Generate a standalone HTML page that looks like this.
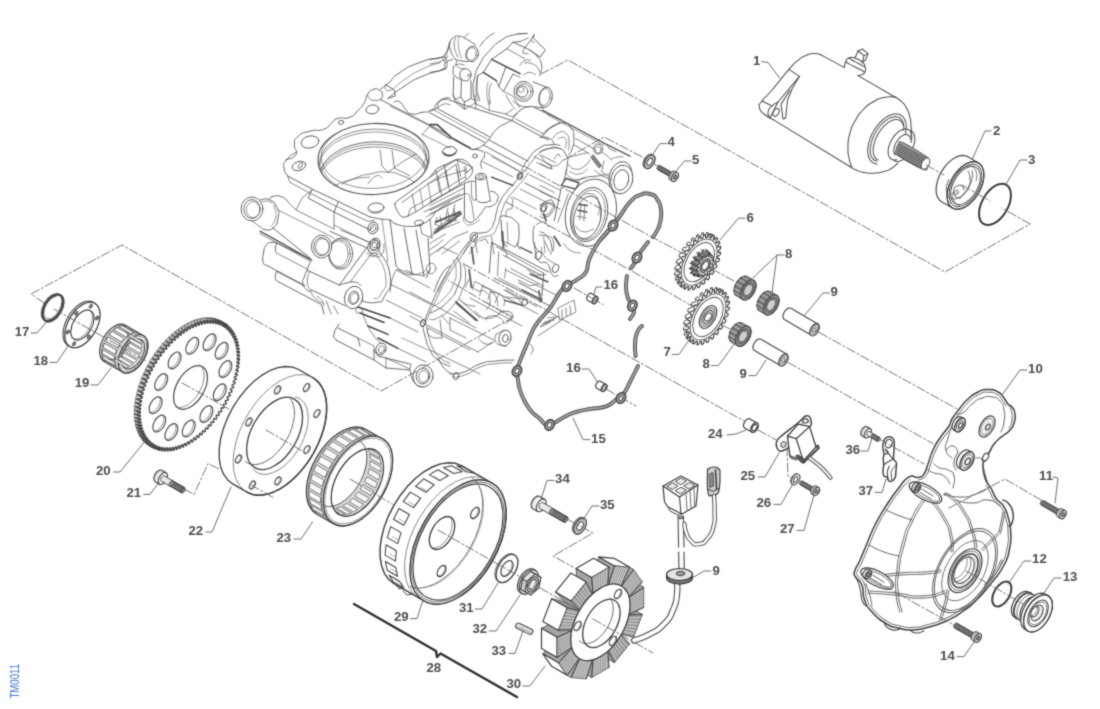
<!DOCTYPE html>
<html lang="en">
<head>
<meta charset="utf-8">
<title>TM0011 - Starter motor / ignition unit</title>
<style>
html,body{margin:0;padding:0;background:#fff;}
body{width:1100px;height:709px;overflow:hidden;position:relative;font-family:"Liberation Sans",Arial,sans-serif;}
svg{display:block;position:absolute;left:0;top:0;}
svg text{font-family:"Liberation Sans",Arial,sans-serif;font-weight:bold;stroke:none;}
</style>
</head>
<body>
<svg width="1100" height="709" viewBox="0 0 1100 709">
<defs><filter id="soft" filterUnits="userSpaceOnUse" x="0" y="0" width="1100" height="709" color-interpolation-filters="sRGB"><feConvolveMatrix order="3" kernelMatrix="1 3 1 3 14 3 1 3 1" divisor="30" edgeMode="duplicate" preserveAlpha="false"/></filter></defs>
<g filter="url(#soft)">
<rect x="0" y="0" width="1100" height="709" fill="#fff" stroke="none"/>

<!-- p00_base -->
<g fill="none" stroke="#505050" stroke-width="1.05" stroke-linecap="round" stroke-linejoin="round">
</g>
<!-- p08_engine -->
<g fill="none" stroke="#505050" stroke-width="1.05" stroke-linecap="round" stroke-linejoin="round">
<path d="M380.4 89 C382.9 87.2 381.5 89.1 388 83.6 C394.5 78.1 389.3 79.5 400 72.4 C410.7 65.3 407.3 67.2 420 62.4 C432.7 57.6 429.7 59.7 438 58 C446.3 56.3 442.7 57.5 445 57.2" stroke-width="0.9" stroke="#585858"/>
<path d="M388 98.4 C393.3 94.4 392.7 93.7 404 86.4 C415.3 79.1 409.3 81.9 422 76.4 C434.7 70.9 434 72.8 442 70 C450 67.2 444.7 68.7 446 68" stroke-width="0.9" stroke="#585858"/>
<path d="M384.4 86 C386.3 87.5 383.5 92.4 390 90.4 C396.5 88.4 393.3 87.1 404 80 C414.7 72.9 410 74.9 422 69.2 C434 63.5 434 64.9 440 62.8" stroke-width="0.72" stroke="#6e6e6e"/>
<path d="M385 84.4 L394.4 90 L395.2 96 L388 98.4" stroke-width="0.9" stroke="#585858"/>
<path d="M445 57.2 C446 54.8 446.3 55.1 448 50 C449.7 44.9 449.3 44.7 450 42" stroke-width="0.9" stroke="#585858"/>
<path d="M442 70 C443.7 68.7 446 70.3 447 66 C448 61.7 445.7 60.1 445 57.2" stroke-width="0.72" stroke="#585858"/>
<path d="M286 160 C289.3 158.1 293.2 159.4 296 154.4 C298.8 149.4 293.7 151 294.4 145 C295.1 139 292.8 141 298 136.4 C303.2 131.8 301.3 133.6 310 131.2 C318.7 128.8 316.7 132.1 324 129.2 C331.3 126.3 327.3 126 332 122.4 C336.7 118.8 332 120.1 338 118.4 C344 116.7 343.3 119.9 350 117.2 C356.7 114.5 353.3 115.1 358 110.4 C362.7 105.7 360.8 108.5 364 103.2 C367.2 97.9 364.6 98.9 367.6 94.4 C370.6 89.9 369.2 91.1 373 89.6 C376.8 88.1 375.9 88.4 379 90 C382.1 91.6 381.9 91.2 382.4 94.4 C382.9 97.6 381.1 97.9 380.4 99.6" stroke-width="0.9" stroke="#585858"/>
<ellipse cx="310" cy="142" rx="9" ry="6" transform="rotate(-12 310 142)" stroke-width="0.9" stroke="#585858"/>
<ellipse cx="341" cy="122.4" rx="2.6" ry="2" transform="rotate(-10 341 122.4)" stroke-width="0.9" stroke="#585858"/>
<ellipse cx="372.4" cy="109.4" rx="6.4" ry="4.4" transform="rotate(-8 372.4 109.4)" stroke-width="0.9" stroke="#585858"/>
<path d="M367.6 94.4 C368.4 95.9 367.2 97 370 99 C372.8 101 372.5 100.2 376 100.4 C379.5 100.6 378.9 99.9 380.4 99.6" stroke-width="0.72" stroke="#585858"/>
<path d="M380.4 99.6 L450 135.6" stroke-width="0.9" stroke="#585858"/>
<path d="M390 106 L430 126 L450 138.4" stroke-width="0.72" stroke="#6e6e6e"/>
<path d="M394 102 C396 102 396 99.3 400 102 C404 104.7 402 106 406 110 C410 114 406.7 113.2 412 114 C417.3 114.8 415.3 113.7 422 112.4 C428.7 111.1 426.7 113.5 432 110 C437.3 106.5 433.3 106 438 102 C442.7 98 442 99.2 446 98 C450 96.8 448.7 98.3 450 98.4" stroke-width="0.9" stroke="#585858"/>
<path d="M438 108 C440 106.7 440 105 444 104 C448 103 448 104.7 450 105" stroke-width="0.72" stroke="#585858"/>
<path d="M430 126 L422 134.4" stroke-width="0.72" stroke="#585858"/>
<path d="M422 134.4 L450 148" stroke-width="0.72" stroke="#6e6e6e"/>
<clipPath id="boreclip"><ellipse cx="373.5" cy="159" rx="55" ry="35" transform="rotate(-2 373.5 159)"/></clipPath>
<ellipse cx="373.5" cy="159" rx="55.5" ry="35.5" transform="rotate(-2 373.5 159)" stroke-width="1.2" stroke="#585858"/>
<g clip-path="url(#boreclip)"><ellipse cx="373.5" cy="162.6" rx="54" ry="33.5" transform="rotate(-2 373.5 162.6)" stroke-width="0.72" stroke="#585858"/><ellipse cx="373.5" cy="165.4" rx="54" ry="33.5" transform="rotate(-2 373.5 165.4)" stroke-width="0.72" stroke="#6e6e6e"/><ellipse cx="373.5" cy="175.4" rx="54" ry="33.5" transform="rotate(-2 373.5 175.4)" stroke-width="0.9" stroke="#585858"/><ellipse cx="373.5" cy="177.8" rx="54" ry="33.5" transform="rotate(-2 373.5 177.8)" stroke-width="0.72" stroke="#6e6e6e"/><ellipse cx="373.5" cy="180.4" rx="54" ry="33.5" transform="rotate(-2 373.5 180.4)" stroke-width="0.72" stroke="#585858"/><ellipse cx="373.5" cy="156" rx="52.5" ry="32.5" transform="rotate(-2 373.5 156)" stroke-width="0.72" stroke="#6e6e6e"/></g>
<path d="M296 152 C292.8 154.7 290.4 154.7 286.4 160 C282.4 165.3 283.6 162.7 284 168 C284.4 173.3 286.4 173.3 287.6 176" stroke-width="0.9" stroke="#585858"/>
<path d="M287.6 176 L314 190 L336 200.4 L370 217" stroke-width="0.9" stroke="#585858"/>
<path d="M370 217 C374 217.7 375.3 218.2 382 219.2 C388.7 220.2 385.3 218.4 390 220 C394.7 221.6 389.3 221.9 396 224 C402.7 226.1 402 226.3 410 226.4 C418 226.5 413.3 226.8 420 224.4 C426.7 222 424 224 430 219.2 C436 214.4 431.3 215.6 438 210 C444.7 204.4 446 204.9 450 202.4" stroke-width="0.9" stroke="#585858"/>
<path d="M287.6 176 L290 182.4 L310 193.2 L334 205.2 L368 221.4 L374 220.4" stroke-width="0.72" stroke="#585858"/>
<ellipse cx="299" cy="166" rx="7" ry="4.4" transform="rotate(-18 299 166)" stroke-width="0.9" stroke="#585858"/>
<ellipse cx="300.4" cy="165.6" rx="1.6" ry="3.2" transform="rotate(30 300.4 165.6)" stroke-width="0.72" stroke="#585858"/>
<ellipse cx="376" cy="208" rx="8" ry="5" transform="rotate(-5 376 208)" stroke-width="0.9" stroke="#585858"/>
<path d="M370 210 C371.7 210.7 371 212 375 212 C379 212 379.7 210.7 382 210" stroke-width="0.72" stroke="#585858"/>
<ellipse cx="419" cy="223" rx="4.4" ry="2.8" transform="rotate(-5 419 223)" stroke-width="0.9" stroke="#585858"/>
<path d="M342 184 C347.3 181.7 348.7 180.3 358 177 C367.3 173.7 360.7 175.7 370 174 C379.3 172.3 375.3 171.5 386 172 C396.7 172.5 392.7 172.3 402 175.6 C411.3 178.9 410 179.9 414 182" stroke-width="0.72" stroke="#585858"/>
<path d="M334 186 C339.3 184 338 183 350 180 C362 177 363.3 178 370 177" stroke-width="0.72" stroke="#6e6e6e"/>
<path d="M380 150 L382 166 L388 172.4" stroke-width="0.72" stroke="#585858"/>
<path d="M392 150 L394.4 168" stroke-width="0.72" stroke="#585858"/>
<path d="M388 172.4 L402 162 L416 154" stroke-width="0.72" stroke="#585858"/>
<path d="M394.4 168 L410 176" stroke-width="0.72" stroke="#585858"/>
<path d="M368 184 C370.7 181.3 371.3 178 376 176 C380.7 174 380 177.3 382 178" stroke-width="0.72" stroke="#585858"/>
<path d="M324 172 C326 174.7 325.3 175.3 330 180 C334.7 184.7 335.3 184 338 186" stroke-width="0.72" stroke="#6e6e6e"/>
<path d="M395 204 C395.2 202.5 392.9 204.1 400 199 C407.1 193.9 447.6 163.6 456 160 C464.4 156.4 470.8 165.7 472 168 C473.2 170.3 473.5 174.4 466 180 C458.5 185.6 415.9 212.3 408 216 C400.1 219.7 399.5 213.4 398 212 C396.5 210.6 394.8 205.5 395 204Z" stroke-width="0.9" stroke="#585858"/>
<path d="M402 202.4 L456 164.4" stroke-width="0.72" stroke="#585858"/>
<path d="M408 216 L410 209 L465 177" stroke-width="0.72" stroke="#585858"/>
<path d="M412 194 L415.6 211" stroke-width="0.72" stroke="#585858"/>
<path d="M420 189 L423.2 207" stroke-width="0.72" stroke="#6e6e6e"/>
<path d="M438 176 L441.6 195.6" stroke-width="0.72" stroke="#585858"/>
<path d="M446 171 L449.6 191" stroke-width="0.72" stroke="#585858"/>
<path d="M456 164.4 L459.6 185" stroke-width="0.72" stroke="#585858"/>
<path d="M464 167 L466 179" stroke-width="0.72" stroke="#6e6e6e"/>
<path d="M428 183 L431.2 202" stroke-width="0.72" stroke="#6e6e6e"/>
<path d="M436 222 L460 212" stroke-width="2.4" stroke="#666"/>
<path d="M434 230 L456 220" stroke-width="0.72" stroke="#585858"/>
<path d="M440 216 L442 228" stroke-width="0.72" stroke="#585858"/>
<path d="M448 212 L450 224" stroke-width="0.72" stroke="#585858"/>
<path d="M454 209 L456 221" stroke-width="0.72" stroke="#585858"/>
<path d="M424 212 L460 194" stroke-width="0.72" stroke="#585858"/>
<path d="M426 217 L462 198" stroke-width="0.72" stroke="#6e6e6e"/>
<ellipse cx="252" cy="209" rx="11" ry="12" stroke-width="0.9" stroke="#585858" fill="#fff"/>
<ellipse cx="252" cy="209" rx="8.2" ry="9.4" stroke-width="0.9" stroke="#585858"/>
<ellipse cx="253.2" cy="209.6" rx="6.8" ry="8" stroke-width="0.72" stroke="#6e6e6e"/>
<path d="M260 200 C263.3 200 264.3 197.3 270 200 C275.7 202.7 274.3 202 277 208 C279.7 214 279.3 211.3 278 218 C276.7 224.7 277.7 224.1 273 228 C268.3 231.9 267 229.1 264 229.6" stroke-width="0.9" stroke="#585858"/>
<path d="M262 201.6 C265 201.9 266.7 199.6 271 202.4 C275.3 205.2 273.5 204.8 275 210 C276.5 215.2 276.7 212.7 275.6 218 C274.5 223.3 272.9 223.3 271.6 226" stroke-width="0.72" stroke="#6e6e6e"/>
<path d="M252 221 L264 229.6" stroke-width="0.72" stroke="#585858"/>
<path d="M270 199 C271 198.1 269 197.1 273 196.4 C277 195.7 276.9 195 282 197 C287.1 199 286.3 200.6 288.4 202.4" stroke-width="0.9" stroke="#585858"/>
<path d="M278 210 L334 238" stroke-width="0.72" stroke="#6e6e6e"/>
<path d="M273 228 L310 258" stroke-width="0.9" stroke="#585858"/>
<path d="M288.4 202.4 L296 210 L302 198 L312 190" stroke-width="0.72" stroke="#585858"/>
<path d="M312 190 L308 198 L334 212 L338 202.4" stroke-width="0.9" stroke="#585858"/>
<path d="M334 212 L370 230 L374 226" stroke-width="0.9" stroke="#585858"/>
<path d="M334 225 L368 242" stroke-width="0.72" stroke="#585858"/>
<path d="M296 210 L334 229" stroke-width="0.72" stroke="#585858"/>
<path d="M334 212 L334 229" stroke-width="0.72" stroke="#585858"/>
<ellipse cx="373" cy="228" rx="5" ry="6" transform="rotate(20 373 228)" stroke-width="0.9" stroke="#585858"/>
<ellipse cx="373" cy="228" rx="2.8" ry="3.8" transform="rotate(20 373 228)" stroke-width="0.72" stroke="#585858"/>
<ellipse cx="375" cy="244" rx="5" ry="6" transform="rotate(20 375 244)" stroke-width="0.9" stroke="#585858"/>
<ellipse cx="375" cy="244" rx="2.8" ry="3.8" transform="rotate(20 375 244)" stroke-width="0.72" stroke="#585858"/>
<path d="M368 250 C370 252 369.3 254.7 374 256 C378.7 257.3 378.7 258 382 254 C385.3 250 383.3 247.3 384 244" stroke-width="0.72" stroke="#585858"/>
<path d="M390 220 L396 266 L400 270" stroke-width="0.9" stroke="#585858"/>
<path d="M404 228 L412 274" stroke-width="0.9" stroke="#585858"/>
<path d="M416 230 L424 276" stroke-width="0.9" stroke="#585858"/>
<path d="M428 238 L430 270 L426 278" stroke-width="0.9" stroke="#585858"/>
<path d="M400 270 L412 274 L424 276 L430 270" stroke-width="0.72" stroke="#585858"/>
<path d="M382 219 L388 262" stroke-width="0.72" stroke="#6e6e6e"/>
<path d="M430 219.2 L432 238" stroke-width="0.72" stroke="#585858"/>
<path d="M420 224.4 L422 234 L432 238" stroke-width="0.72" stroke="#585858"/>
<path d="M390 291.8 C391.3 285.9 390.7 281.3 394 274 C397.3 266.7 398 271.3 400 270" stroke-width="0.72" stroke="#585858"/>
<path d="M434 291.8 C436.7 285.9 436.7 282.6 442 274 C447.3 265.4 447.3 268.7 450 266" stroke-width="0.9" stroke="#585858"/>
<path d="M438 291.8 C440.3 287.2 441 284.6 445 278 C449 271.4 448.3 274 450 272" stroke-width="0.72" stroke="#6e6e6e"/>
<ellipse cx="472.1" cy="54" rx="6.2" ry="7.8" transform="rotate(12 472.1 54)" stroke-width="0.9" stroke="#585858" fill="#fff"/>
<ellipse cx="471.5" cy="54" rx="4.7" ry="6.4" transform="rotate(12 471.5 54)" stroke-width="0.72" stroke="#6e6e6e"/>
<path d="M449.5 42.8 C450.9 41 450.3 39.6 453.7 37.4 C457.1 35.3 455.7 35.9 459.6 36.3 C463.6 36.7 460.2 35.7 465.5 38.6 C470.9 41.5 472.3 42.8 475.6 44.9" stroke-width="0.9" stroke="#585858"/>
<path d="M455.5 59.6 C457.3 60 456.7 60.1 460.8 60.8 C465 61.5 465.5 61.4 467.9 61.7" stroke-width="0.9" stroke="#585858"/>
<path d="M449.5 42.8 C449.9 45.5 448.8 45.5 450.7 51.1 C452.7 56.7 453.9 56.8 455.5 59.6" stroke-width="0.9" stroke="#585858"/>
<path d="M455.5 38 C455.1 40.8 453.5 40 454.3 46.3 C455.1 52.6 456.7 53.4 457.8 57" stroke-width="0.72" stroke="#585858"/>
<path d="M459 36.8 C458.8 39.8 457.6 38.6 458.4 45.7 C459.2 52.8 460.4 54 461.4 58.2" stroke-width="0.72" stroke="#6e6e6e"/>
<path d="M464.4 37.4 L468.5 33.1" stroke-width="0.72" stroke="#585858"/>
<path d="M430 59.4 C433.6 58.8 435.5 59.6 440.7 57.6 C445.8 55.6 443 56.4 445.4 53.4 C447.8 50.5 446.4 52.3 447.8 48.7 C449.2 45.1 449 44.7 449.5 42.8" stroke-width="0.9" stroke="#585858"/>
<path d="M430 64.1 C434.3 62.9 437.1 63.3 443 60.5 C449 57.8 446.2 57.4 447.8 55.8" stroke-width="0.72" stroke="#585858"/>
<path d="M430 72.4 C434.3 71.3 437.9 72.2 443 69.1 C448.2 65.9 442.2 66.2 445.4 62.9 C448.6 59.7 450.1 60.5 452.5 59.4" stroke-width="0.9" stroke="#585858"/>
<path d="M441.8 57 L445.4 62.9" stroke-width="0.72" stroke="#585858"/>
<ellipse cx="465.5" cy="74.8" rx="5.7" ry="6.2" stroke-width="0.9" stroke="#585858" fill="#fff"/>
<path d="M453.7 66.5 C453.5 68.4 452.7 69.2 453.1 72.4 C453.5 75.6 451.9 73.4 454.9 75.9 C457.8 78.5 459.6 78.7 462 80.1" stroke-width="0.9" stroke="#585858"/>
<path d="M456.7 60.5 C456.9 62.5 454.7 63.6 457.3 66.5 C459.8 69.3 462 68.2 464.4 69.1" stroke-width="0.72" stroke="#585858"/>
<path d="M453.7 66.5 C455.3 65.7 454.9 64.5 458.4 64.1 C462 63.7 462.4 64.9 464.4 65.3" stroke-width="0.72" stroke="#585858"/>
<ellipse cx="468.5" cy="75.4" rx="1.2" ry="1.4" stroke-width="0.72" stroke="#6e6e6e"/>
<path d="M453.7 77.1 L453.1 96.1 L455.5 99.1" stroke-width="0.9" stroke="#585858"/>
<path d="M461.4 80.7 L460.8 97.3 L464.4 102" stroke-width="0.9" stroke="#585858"/>
<path d="M470.9 80.7 L471.2 98.5 L464.4 102" stroke-width="0.9" stroke="#585858"/>
<path d="M455.5 99.1 L460.8 97.3" stroke-width="0.72" stroke="#585858"/>
<path d="M455.5 99.1 C458 101.6 459.8 103.4 463.2 106.8 C466.5 110.1 464.8 108.3 465.5 109" stroke-width="0.72" stroke="#585858"/>
<path d="M471.2 98.5 L476.2 100.8 L475.6 109" stroke-width="0.72" stroke="#585858"/>
<path d="M494 33.3 C491.6 34.9 491.6 33.7 486.9 38 C482.1 42.4 482.1 43.6 479.8 46.3" stroke-width="0.9" stroke="#585858"/>
<path d="M527.2 33.5 C522.4 34 521.6 32.8 512.9 35.1 C504.2 37.4 509 35.1 501.1 40.4 C493.2 45.7 496.4 43.2 489.2 51.1 C482.1 59 484.7 55 479.8 64.1 C474.8 73.2 476.6 69.6 474.4 78.3 C472.3 87 473 82.7 473.2 90.2 C473.4 97.7 474.4 97.3 475 100.8" stroke-width="0.9" stroke="#585858"/>
<path d="M477.4 77.1 C476.9 81.1 476 81.1 476 89 C476 96.9 476.9 96.9 477.4 100.8" stroke-width="0.72" stroke="#6e6e6e"/>
<path d="M517.7 33.9 L527.2 33.3" stroke-width="0.72" stroke="#585858"/>
<path d="M477.4 75.9 L483.3 72.4 L491.6 59.4 L507 48.7 L512.9 42.2 L520 41.6" stroke-width="0.9" stroke="#585858"/>
<path d="M491.6 59.4 L520 73.6" stroke-width="1.56" stroke="#4a4a4a"/>
<path d="M483.3 72.4 L496.4 80.7" stroke-width="1.56" stroke="#4a4a4a"/>
<path d="M507 48.7 L524.8 58.8" stroke-width="0.72" stroke="#585858"/>
<path d="M505.8 67.1 L498.7 86.6 L503.5 91.4 L512.9 74.2" stroke-width="0.9" stroke="#585858"/>
<path d="M496.4 80.7 L498.7 86.6" stroke-width="0.72" stroke="#585858"/>
<path d="M477.4 75.9 L476.8 91.4 L479.8 100.8" stroke-width="0.9" stroke="#585858"/>
<path d="M491.6 83.1 C490.8 85.8 489.6 84.6 489.2 91.4 C488.8 98.1 490 99.2 490.4 103.2" stroke-width="0.72" stroke="#585858"/>
<path d="M488.1 81.9 C487.7 85.4 486.7 85 486.9 92.5 C487.1 100 488.1 100.4 488.6 104.4" stroke-width="0.72" stroke="#6e6e6e"/>
<path d="M503.5 91.4 L512.9 96.1 L520 107.9" stroke-width="0.72" stroke="#585858"/>
<path d="M512.9 74.2 L520 77.1" stroke-width="0.72" stroke="#585858"/>
<path d="M512.9 42.2 L524.8 47.5 L530.7 40.4 L534.3 34.5 L533.3 38 L545.5 49.9 L540.2 57 L529.5 49.9 L524.8 47.5" stroke-width="0.9" stroke="#585858"/>
<path d="M520 41.6 L528.3 38" stroke-width="0.72" stroke="#585858"/>
<path d="M524.8 47.5 L522.4 52.8 L528.3 54" stroke-width="0.72" stroke="#585858"/>
<path d="M530.7 40.4 L534.3 42.8" stroke-width="0.72" stroke="#585858"/>
<path d="M529.5 49.9 C531.9 51.9 532.7 51.1 536.6 55.8 C540.6 60.5 540 58.6 541.4 64.1 C542.8 69.6 541 69.6 540.8 72.4" stroke-width="0.9" stroke="#585858"/>
<path d="M524.8 62.9 C527.6 63.3 528.3 61.7 533.1 64.1 C537.8 66.5 536.8 66.1 539 70 C541.2 74 539.4 74 539.6 75.9" stroke-width="0.72" stroke="#585858"/>
<path d="M520 65.3 C521.6 63.7 521.2 62.1 524.8 60.5 C528.3 59 528.7 60.5 530.7 60.5" stroke-width="0.72" stroke="#585858"/>
<path d="M523.6 74.8 C525.6 74 525.6 72.4 529.5 72.4 C533.5 72.4 533.5 74 535.5 74.8" stroke-width="0.72" stroke="#585858"/>
<ellipse cx="545.5" cy="97.3" rx="6.6" ry="10.2" transform="rotate(12 545.5 97.3)" stroke-width="0.9" stroke="#585858" fill="#fff"/>
<ellipse cx="544.7" cy="97" rx="5.2" ry="8.5" transform="rotate(12 544.7 97)" stroke-width="0.72" stroke="#6e6e6e"/>
<path d="M533.1 81.9 L547.3 87.6" stroke-width="0.9" stroke="#585858"/>
<path d="M534.3 106.8 L543.7 107.9" stroke-width="0.9" stroke="#585858"/>
<ellipse cx="523.6" cy="91.4" rx="9.7" ry="10" stroke-width="0.9" stroke="#585858"/>
<ellipse cx="523.6" cy="91.4" rx="7.6" ry="7.8" stroke-width="0.72" stroke="#585858"/>
<ellipse cx="522.4" cy="91.4" rx="5.5" ry="5.7" stroke-width="0.9" stroke="#585858"/>
<ellipse cx="521.2" cy="89.6" rx="2.8" ry="2.8" stroke-width="0.72" stroke="#6e6e6e"/>
<path d="M512.9 100.8 C515.3 102.4 514.5 103.6 520 105.6 C525.6 107.5 526.4 106.4 529.5 106.8" stroke-width="0.72" stroke="#585858"/>
<path d="M505.8 94.9 C507.4 97.7 507.4 98.5 510.6 103.2 C513.7 107.9 513.7 107.1 515.3 109" stroke-width="0.72" stroke="#585858"/>
<path d="M430 110.4 C432.2 109.7 433.6 110.8 436.5 108.3 C439.5 105.7 436.1 105.7 438.9 102.7 C441.7 99.7 440.9 100 444.8 99.3 C448.8 98.5 448.8 100.1 450.7 100.5" stroke-width="0.9" stroke="#585858"/>
<path d="M450.7 100.5 L511.8 120.5" stroke-width="0.9" stroke="#585858"/>
<path d="M436.9 108.3 L489.2 136.7" stroke-width="0.9" stroke="#585858"/>
<path d="M430 112.8 L484.5 142.4" stroke-width="0.9" stroke="#585858"/>
<path d="M433.6 109.8 L486.9 139.1" stroke-width="0.72" stroke="#6e6e6e"/>
<path d="M511.8 120.5 C509.8 121.5 511 120.5 505.8 123.4 C500.7 126.4 501.9 124.2 496.4 129.4 C490.8 134.5 493.6 133.7 489.2 138.8 C484.9 144 487.3 141.6 483.3 144.8 C479.4 147.9 481.3 146.7 477.4 148.3 C473.4 149.9 473.4 149.1 471.5 149.5" stroke-width="0.9" stroke="#585858"/>
<path d="M511.8 120.5 L541.4 136.5 L548.5 140" stroke-width="0.9" stroke="#585858"/>
<path d="M515.3 118.7 L543.7 134.1" stroke-width="0.72" stroke="#585858"/>
<path d="M511.8 120.5 C514.5 117.1 513.3 115.1 520 110.4 C526.8 105.7 527.9 107.6 531.9 106.3" stroke-width="0.9" stroke="#585858"/>
<path d="M531.9 106.3 L560 119.9" stroke-width="0.9" stroke="#585858"/>
<path d="M543.7 135.3 C545.7 132.9 544.3 132.1 549.7 128.2 C555.1 124.2 556.5 125 560 123.4" stroke-width="0.9" stroke="#585858"/>
<path d="M541.4 136.5 C543 134.5 541.8 134 546.1 130.5 C550.5 127.1 551.6 127.5 554.4 126" stroke-width="0.72" stroke="#6e6e6e"/>
<path d="M489.2 140 L528.3 161.4" stroke-width="0.9" stroke="#585858"/>
<path d="M483.3 144.8 L522.4 166.1" stroke-width="0.9" stroke="#585858"/>
<path d="M485.7 151.9 L518.9 170.8" stroke-width="0.72" stroke="#585858"/>
<path d="M482.1 161.4 L512.9 176.8" stroke-width="0.72" stroke="#585858"/>
<path d="M491.6 156.6 L522.4 173.2" stroke-width="0.72" stroke="#6e6e6e"/>
<path d="M521.2 170.8 C523.6 166.9 522.4 166.5 528.3 159 C534.3 151.5 531.5 153.1 539 148.3 C546.5 143.6 543.9 145.8 550.9 144.8 C557.8 143.8 556.9 145.2 560 145.4" stroke-width="0.9" stroke="#585858"/>
<path d="M524.8 172 C527.2 168.5 526.4 168.1 531.9 161.4 C537.4 154.6 534.7 156.2 541.4 151.9 C548.1 147.5 545.8 149.3 552 148.3 C558.2 147.3 557.3 148.7 560 148.9" stroke-width="0.72" stroke="#585858"/>
<path d="M430 124.6 L437.1 124.6 L451.3 137.7 L470.3 148.3" stroke-width="1.8" stroke="#4a4a4a"/>
<path d="M430 126.4 L450.1 139.1" stroke-width="0.72" stroke="#585858"/>
<ellipse cx="449.5" cy="151.3" rx="7.1" ry="4.7" transform="rotate(-8 449.5 151.3)" stroke-width="0.9" stroke="#585858"/>
<path d="M443.6 153.1 C445.6 153.8 445.6 155.4 449.5 155.4 C453.5 155.4 453.5 153.8 455.5 153.1" stroke-width="1.56" stroke="#555"/>
<ellipse cx="475" cy="156" rx="2.4" ry="2" stroke-width="0.9" stroke="#585858"/>
<path d="M471.5 149.5 C474.6 149.9 476.6 148.7 480.9 150.7 C485.3 152.7 484.5 151.5 484.5 155.4 C484.5 159.4 481.7 158.2 480.9 162.5 C480.2 166.9 481.7 166.5 482.1 168.5" stroke-width="0.9" stroke="#585858"/>
<path d="M430 176.8 L437.1 168.5 L456.1 159.6 L472.7 167.3 L465.5 173.2" stroke-width="0.9" stroke="#585858"/>
<path d="M444.2 164.9 L446.6 177.9" stroke-width="0.72" stroke="#585858"/>
<path d="M457.3 160.2 L460.8 176.8" stroke-width="0.72" stroke="#585858"/>
<path d="M465.5 166.1 L467 173.2" stroke-width="0.72" stroke="#585858"/>
<ellipse cx="480.9" cy="176.8" rx="4.1" ry="3" stroke-width="0.9" stroke="#585858"/>
<ellipse cx="520" cy="175.6" rx="1.9" ry="2.6" transform="rotate(20 520 175.6)" stroke-width="0.9" stroke="#585858"/>
<path d="M453.7 95 L454.9 102.1 L464.4 109.2 L475 103.3 L475 95" stroke-width="0.72" stroke="#585858"/>
<path d="M464.4 109.2 L464.4 102.1" stroke-width="0.72" stroke="#585858"/>
<path d="M475 103.3 L489.2 110.4 L505.8 114 L512.9 109.2" stroke-width="0.72" stroke="#585858"/>
<path d="M489.2 110.4 L489.2 99.7" stroke-width="0.72" stroke="#6e6e6e"/>
<path d="M505.8 114 C508.2 114.7 509 116.7 512.9 116.3 C516.9 115.9 516.1 114 517.7 112.8" stroke-width="0.72" stroke="#585858"/>
<path d="M534.3 156.6 L550.9 164.9 L552 168.5" stroke-width="0.72" stroke="#585858"/>
<path d="M541.4 155.4 L555.6 162.5" stroke-width="0.72" stroke="#585858"/>
<path d="M554.4 159 C555.6 157.4 556.1 155 558 154.2 C559.8 153.5 559.3 155.8 560 156.6" stroke-width="0.72" stroke="#585858"/>
<path d="M536.6 162.5 L548.5 168.5" stroke-width="0.72" stroke="#6e6e6e"/>
<path d="M542.4 110 L606.4 144.4 L630 156.2" stroke-width="1.32" stroke="#585858"/>
<path d="M547.1 114.7 L604 145.5" stroke-width="0.72" stroke="#6e6e6e"/>
<path d="M545.9 132.5 C548.7 130.1 548.3 128.6 554.2 125.4 C560.1 122.2 558.2 122.2 563.7 123 C569.2 123.8 567.4 123 570.8 127.8 C574.2 132.5 573.4 130.1 573.8 137.3 C574.2 144.4 573.8 143.2 572 149.1 C570.2 155 569.6 153 568.4 155" stroke-width="0.9" stroke="#585858"/>
<path d="M553 138.4 C555 136.5 554.6 134.1 559 132.5 C563.3 130.9 562.7 130.9 566.1 133.7 C569.4 136.5 568.2 135.3 569 140.8 C569.8 146.3 568.6 147.1 568.4 150.3" stroke-width="0.72" stroke="#585858"/>
<path d="M557.8 139.6 C559.4 138.8 559.7 136.9 562.5 137.3 C565.3 137.6 565.1 137.3 566.1 140.8 C567.1 144.4 565.7 145.5 565.5 147.9" stroke-width="0.72" stroke="#6e6e6e"/>
<ellipse cx="620.6" cy="177.5" rx="11.4" ry="16.1" transform="rotate(14 620.6 177.5)" stroke-width="0.9" stroke="#585858" fill="#fff"/>
<ellipse cx="619.6" cy="179.3" rx="7.3" ry="11.1" transform="rotate(14 619.6 179.3)" stroke-width="0.9" stroke="#585858"/>
<path d="M611.1 159.8 C612.7 159 611.9 158.4 615.8 157.4 C619.8 156.4 620.6 157 622.9 156.8" stroke-width="0.72" stroke="#585858"/>
<path d="M566.1 178.7 C569.2 179.5 570 181.1 575.5 181.1 C581.1 181.1 576.7 180.3 582.7 178.7 C588.6 177.1 585.4 176.7 593.3 176.4 C601.2 176 599.6 174.4 606.4 177.5 C613.1 180.7 610.3 180.7 613.5 185.8 C616.6 191 615 190.6 615.8 192.9" stroke-width="0.9" stroke="#585858"/>
<path d="M581.5 192.9 C584.2 191.4 583.8 190.2 589.8 188.2 C595.7 186.2 593.3 185.8 599.2 187 C605.2 188.2 604.8 190.2 607.5 191.8" stroke-width="0.72" stroke="#585858"/>
<path d="M590.9 157.4 L599.2 168.1 L601.6 165.7 L593.3 155Z" stroke-width="0.84" stroke="#555" fill="#8a8a8a"/>
<ellipse cx="598.1" cy="149.1" rx="4.5" ry="5" stroke-width="0.9" stroke="#585858"/>
<ellipse cx="598.1" cy="149.7" rx="2.8" ry="3.3" stroke-width="0.72" stroke="#6e6e6e"/>
<path d="M575.5 138.4 L594.5 149.1" stroke-width="0.72" stroke="#585858"/>
<path d="M573.2 144.4 L589.8 153.8" stroke-width="0.72" stroke="#585858"/>
<path d="M567.3 157.4 L587.4 152.7" stroke-width="0.72" stroke="#585858"/>
<path d="M601.6 152.7 C603.2 153.4 603.2 152.7 606.4 155 C609.5 157.4 609.5 158.2 611.1 159.8" stroke-width="0.72" stroke="#585858"/>
<path d="M604 160.9 L601.6 171.6 L608.7 176.4" stroke-width="0.72" stroke="#585858"/>
<path d="M606.4 144.4 L609.9 149.1 L615.8 151.5" stroke-width="0.72" stroke="#585858"/>
<path d="M540 137.3 C543.2 137.6 544.7 136.1 549.5 138.4 C554.2 140.8 552.6 142.4 554.2 144.4" stroke-width="0.9" stroke="#585858"/>
<path d="M540 151.5 C542.4 150.7 541.2 150.3 547.1 149.1 C553 147.9 551.5 145.9 557.8 147.9 C564.1 149.9 562.9 149.5 566.1 155 C569.2 160.6 568 155.8 567.3 164.5 C566.5 173.2 564.9 175.6 563.7 181.1" stroke-width="0.9" stroke="#585858"/>
<path d="M540 155 C543.9 158.6 543.9 164.1 551.8 165.7 C559.7 167.3 559.7 161.7 563.7 159.8" stroke-width="0.72" stroke="#585858"/>
<path d="M540 163.3 L551.8 169.2 L550.7 166.9" stroke-width="0.72" stroke="#585858"/>
<path d="M568.4 164.5 C570.8 166.1 570 168.8 575.5 169.2 C581.1 169.6 580.3 168.8 585 165.7 C589.8 162.5 588.2 161.7 589.8 159.8" stroke-width="0.72" stroke="#585858"/>
<path d="M569.6 171.6 C572.8 172.4 573.2 174.8 579.1 174 C585 173.2 584.6 170.8 587.4 169.2" stroke-width="0.72" stroke="#6e6e6e"/>
<path d="M524.8 170 C523.2 171.6 523.2 170.8 520 174.7 C516.9 178.7 519.7 176.3 515.3 181.8 C511 187.4 512.1 184.6 507 191.3 C501.9 198 503.5 194.9 499.9 202 C496.4 209.1 498.3 205.9 496.4 212.7 C494.4 219.4 496.4 216.2 494 222.1 C491.6 228.1 493.2 226.9 489.2 230.4 C485.3 234 486.9 231.4 482.1 232.8 C477.4 234.2 479.4 231 475 234.6 C470.7 238.1 473 237 469.1 243.5 C465.2 249.9 465.2 250.5 463.2 254" stroke-width="0.9" stroke="#585858"/>
<path d="M528.3 172.4 C526.8 174.7 528.3 173.6 523.6 179.5 C518.9 185.4 519.9 183.4 514.4 190.1 C508.8 196.9 511 193.3 507 199.6 C503.1 205.9 504.9 202.8 502.5 209.1 C500.1 215.4 501.7 212.7 499.9 218.6 C498.1 224.5 499.4 221.7 497.1 226.9 C494.7 232 496.6 230.8 492.8 234 C489 237.1 490 234.8 485.7 236.4 C481.3 237.9 483.7 235.2 479.8 238.7 C475.8 242.3 477.4 241.9 473.8 247 C470.3 252.1 470.7 251.7 469.1 254" stroke-width="0.72" stroke="#585858"/>
<ellipse cx="520" cy="175.9" rx="2.6" ry="3.6" transform="rotate(25 520 175.9)" stroke-width="0.9" stroke="#585858"/>
<ellipse cx="473.8" cy="236.9" rx="3.6" ry="4.7" transform="rotate(25 473.8 236.9)" stroke-width="0.9" stroke="#585858"/>
<ellipse cx="474.1" cy="237.1" rx="1.9" ry="2.6" transform="rotate(25 474.1 237.1)" stroke-width="0.72" stroke="#585858"/>
<ellipse cx="480.9" cy="176.5" rx="5.5" ry="3.1" stroke-width="0.9" stroke="#585858" fill="#fff"/>
<ellipse cx="480.9" cy="176.5" rx="2.8" ry="1.5" stroke-width="0.72" stroke="#585858"/>
<path d="M475.6 177.1 L476.2 199.6" stroke-width="0.9" stroke="#585858"/>
<path d="M486.3 177.1 C487.3 182.6 487.9 185.8 489.2 193.7 C490.6 201.6 490 198.4 490.4 200.8" stroke-width="0.9" stroke="#585858"/>
<path d="M476.2 199.6 C478.2 200.6 477.4 202.2 482.1 202.6 C486.9 203 487.7 201.4 490.4 200.8" stroke-width="0.9" stroke="#585858"/>
<path d="M465.5 183 C467.5 182.4 468.1 181.7 471.5 181.3 C474.8 180.9 474.2 181.7 475.6 181.8" stroke-width="0.9" stroke="#585858"/>
<path d="M490.4 191.3 C492.4 192.1 494 190.9 496.4 193.7 C498.7 196.5 498.7 195.7 497.5 199.6 C496.4 203.6 496.4 203.2 492.8 205.5 C489.2 207.9 488.8 206.3 486.9 206.7" stroke-width="0.9" stroke="#585858"/>
<path d="M471.5 183 C471.7 187.8 470.5 191.7 472.1 197.3 C473.6 202.8 474.8 198.8 476.2 199.6" stroke-width="0.72" stroke="#585858"/>
<path d="M464.4 183 L464.4 217.4" stroke-width="0.9" stroke="#585858"/>
<path d="M464.4 217.4 C465.9 219 465.5 221.3 469.1 222.1 C472.7 222.9 471.5 222.1 475 219.8 C478.6 217.4 476.2 219.4 479.8 215 C483.3 210.7 483.7 209.5 485.7 206.7" stroke-width="0.9" stroke="#585858"/>
<path d="M465.5 193.7 C467.1 195.3 467.5 190.1 470.3 198.4 C473 206.7 472.7 211.9 473.8 218.6" stroke-width="0.72" stroke="#585858"/>
<path d="M463.2 217.4 C464 219.4 462.8 220.9 465.5 223.3 C468.3 225.7 466.7 225.7 471.5 224.5 C476.2 223.3 477 221.3 479.8 219.8" stroke-width="0.72" stroke="#6e6e6e"/>
<path d="M430 202 L463.2 184.2" stroke-width="0.9" stroke="#585858"/>
<path d="M430 205.5 L464.4 187.8" stroke-width="0.72" stroke="#585858"/>
<path d="M430 210.3 L464.4 193.7" stroke-width="0.9" stroke="#585858"/>
<path d="M430 213.8 L462 198.4" stroke-width="0.72" stroke="#585858"/>
<path d="M434.7 232.8 L460.8 213.8" stroke-width="2.64" stroke="#666"/>
<path d="M435.9 229.2 L459.6 211.5" stroke-width="0.72" stroke="#444"/>
<path d="M437.1 217.4 L434.7 224.5 L439.5 225.7 L438.3 231.6" stroke-width="0.72" stroke="#585858"/>
<path d="M447.8 207.9 L445.4 219.8 L450.1 220.9" stroke-width="0.72" stroke="#585858"/>
<path d="M454.9 204.4 L452.5 215 L457.3 215.6" stroke-width="0.72" stroke="#585858"/>
<path d="M435.9 170 L439.5 191.3" stroke-width="0.72" stroke="#585858"/>
<path d="M445.4 170 L447.8 185.4" stroke-width="0.72" stroke="#585858"/>
<path d="M457.3 170 L459 179.5" stroke-width="0.72" stroke="#585858"/>
<path d="M430 183 L441.8 177.1 L465.5 170" stroke-width="0.72" stroke="#585858"/>
<path d="M491.6 177.1 L512.9 185.4" stroke-width="1.44" stroke="#4a4a4a"/>
<path d="M524.8 183 L560 200.8" stroke-width="0.9" stroke="#585858"/>
<path d="M520 189 L560 209.1" stroke-width="0.72" stroke="#585858"/>
<path d="M529.5 174.7 L560 190.1" stroke-width="0.72" stroke="#585858"/>
<path d="M512.9 197.3 L536.6 209.1" stroke-width="0.72" stroke="#6e6e6e"/>
<path d="M510.6 197.3 L512.9 199.6 L511.8 209.1" stroke-width="0.72" stroke="#585858"/>
<path d="M499.9 217.4 C501.9 217 500.7 215 505.8 216.2 C511 217.4 511 216.6 515.3 220.9 C519.7 225.3 518.1 220.9 518.9 229.2 C519.7 237.5 518.1 240.3 517.7 245.8" stroke-width="0.9" stroke="#585858"/>
<path d="M501.1 219.8 L502.3 241.1 L507 247" stroke-width="0.9" stroke="#585858"/>
<path d="M505.8 216.2 C506.2 214.2 505.4 212.7 507 210.3 C508.6 207.9 509.4 209.5 510.6 209.1" stroke-width="0.72" stroke="#585858"/>
<path d="M502.3 231.6 L503.5 247" stroke-width="1.92" stroke="#555"/>
<path d="M507 222.1 L508.2 243.5" stroke-width="0.72" stroke="#6e6e6e"/>
<path d="M517.7 245.8 L520 249.4" stroke-width="0.72" stroke="#585858"/>
<ellipse cx="543.7" cy="207.9" rx="3" ry="4.1" transform="rotate(25 543.7 207.9)" stroke-width="0.9" stroke="#585858"/>
<path d="M540.2 205.5 C542.6 204 543 202 547.3 200.8 C551.6 199.6 551.6 199.2 553.2 202 C554.8 204.8 554.4 204.8 552 209.1 C549.7 213.4 549.7 213.4 546.1 215 C542.6 216.6 543 214.2 541.4 213.8" stroke-width="0.9" stroke="#585858"/>
<path d="M543.7 213.8 L546.1 220.9" stroke-width="1.68" stroke="#555"/>
<path d="M534.3 225.7 C533.9 229.2 532.7 229.2 533.1 236.4 C533.5 243.5 532.7 241.5 535.5 247 C538.2 252.5 539.4 251 541.4 252.9" stroke-width="0.9" stroke="#585858"/>
<path d="M536.6 224.5 C539 223.7 539.8 221.3 543.7 222.1 C547.7 222.9 546.9 225.3 548.5 226.9" stroke-width="0.72" stroke="#585858"/>
<path d="M539 235.2 C542.2 235.6 543.7 234.4 548.5 236.4 C553.2 238.3 551.6 236.4 553.2 241.1 C554.8 245.8 553.2 247.4 553.2 250.6" stroke-width="0.72" stroke="#585858"/>
<path d="M543.7 236.4 L544.9 252.9" stroke-width="0.72" stroke="#6e6e6e"/>
<path d="M430 236.4 L441.8 229.2 L459.6 222.1" stroke-width="0.72" stroke="#585858"/>
<path d="M430 243.5 L445.4 234" stroke-width="0.72" stroke="#585858"/>
<path d="M437.1 251.8 L453.7 237.5 L467.9 231.6" stroke-width="0.72" stroke="#585858"/>
<path d="M441.8 254 L459.6 241.1" stroke-width="0.72" stroke="#585858"/>
<path d="M475 241.1 L477.4 252.9" stroke-width="0.72" stroke="#585858"/>
<path d="M479.8 241.1 L485.7 238.7 L488.1 243.5" stroke-width="0.72" stroke="#585858"/>
<path d="M491.6 236.4 L494 254" stroke-width="0.72" stroke="#585858"/>
<ellipse cx="621.8" cy="179.5" rx="10.9" ry="14.5" transform="rotate(14 621.8 179.5)" stroke-width="0.9" stroke="#585858" fill="#fff"/>
<ellipse cx="621.3" cy="180" rx="7.3" ry="10.4" transform="rotate(14 621.3 180)" stroke-width="0.9" stroke="#585858"/>
<ellipse cx="590.9" cy="212.7" rx="25.1" ry="34.1" transform="rotate(14 590.9 212.7)" stroke-width="0.9" stroke="#585858" fill="#fff"/>
<ellipse cx="589.1" cy="214.5" rx="18" ry="27.5" transform="rotate(14 589.1 214.5)" stroke-width="0.9" stroke="#585858"/>
<ellipse cx="588.6" cy="215" rx="16.1" ry="25.4" transform="rotate(14 588.6 215)" stroke-width="0.72" stroke="#6e6e6e"/>
<ellipse cx="587.4" cy="217.4" rx="13.3" ry="21.6" transform="rotate(14 587.4 217.4)" stroke-width="0.9" stroke="#585858"/>
<path d="M579.1 199.6 C582.7 197.6 583 192.5 589.8 193.7 C596.5 194.9 595.7 195.3 599.2 203.2 C602.8 211.1 600 212.7 600.4 217.4" stroke-width="0.72" stroke="#585858"/>
<path d="M579.1 204.4 L587.4 205.5" stroke-width="1.56" stroke="#555"/>
<path d="M577.9 210.3 L586.8 212.1" stroke-width="1.56" stroke="#555"/>
<path d="M577.3 216.2 L586.2 218" stroke-width="0.72" stroke="#585858"/>
<path d="M580.9 203.2 L579.7 219.8" stroke-width="0.72" stroke="#585858"/>
<path d="M585 204.4 L583.8 220.9" stroke-width="0.72" stroke="#585858"/>
<path d="M575.5 225.7 C577.9 227.7 576.7 230.4 582.7 231.6 C588.6 232.8 589.8 230 593.3 229.2" stroke-width="0.72" stroke="#585858"/>
<path d="M596.9 197.3 C597.7 200 598.8 199.6 599.2 205.5 C599.6 211.5 598.5 211.9 598.1 215" stroke-width="0.72" stroke="#6e6e6e"/>
<path d="M540 205.5 C542.4 204.8 542.4 203.2 547.1 203.2 C551.8 203.2 552.6 202.4 554.2 205.5 C555.8 208.7 555 208.7 551.8 212.7 C548.7 216.6 548.7 216.2 544.7 217.4 C540.8 218.6 541.6 216.6 540 216.2" stroke-width="0.9" stroke="#585858"/>
<ellipse cx="543.6" cy="208.5" rx="2.1" ry="3" transform="rotate(20 543.6 208.5)" stroke-width="0.9" stroke="#585858"/>
<path d="M554.2 220.9 L561.3 187.8" stroke-width="0.9" stroke="#585858"/>
<path d="M557.8 222.1 L568.4 193.7" stroke-width="0.72" stroke="#585858"/>
<path d="M561.3 185.4 L575.5 189 L579.1 183 L566.1 178.3Z" stroke-width="1.44" stroke="#555"/>
<path d="M540 231.6 C542.4 233.2 543.2 231.2 547.1 236.4 C551.1 241.5 550.7 241.1 551.8 247 C553 252.9 551.1 251.7 550.7 254" stroke-width="0.9" stroke="#585858"/>
<path d="M554.2 236.4 L560.1 245.8" stroke-width="1.8" stroke="#555"/>
<path d="M544.7 241.1 L549.5 251.8" stroke-width="0.72" stroke="#585858"/>
<path d="M563.7 243.5 C566.1 245.8 565.3 247.4 570.8 250.6 C576.3 253.7 577.1 252.1 580.3 252.9" stroke-width="0.72" stroke="#585858"/>
<path d="M540 185.4 L554.2 192.5" stroke-width="0.72" stroke="#585858"/>
<path d="M540 191.3 L551.8 197.3" stroke-width="0.72" stroke="#585858"/>
<path d="M566.1 170 C566.5 171.6 564.1 171.6 567.3 174.7 C570.4 177.9 569.6 178.7 575.5 179.5 C581.5 180.3 581.9 177.9 585 177.1" stroke-width="0.72" stroke="#585858"/>
<path d="M594.5 170 C596.9 171.6 596.9 173.6 601.6 174.7 C606.4 175.9 606.4 173.9 608.7 173.6" stroke-width="0.72" stroke="#585858"/>
<path d="M469.1 241.2 C465.9 245.5 467.5 242.8 459.6 254.2 C451.7 265.7 453.7 261.3 445.4 275.5 C437.1 289.8 439.9 286.2 434.7 296.9 C429.6 307.5 433.6 299.2 430 307.5 C426.4 315.8 426.1 317 424.1 321.8" stroke-width="0.9" stroke="#585858"/>
<path d="M471.5 242.8 C468.2 247.1 469.7 244.3 461.8 255.6 C453.8 267 455.8 262.8 447.5 277 C439.2 291.1 442.3 287.1 436.9 298.1 C431.4 309 434.7 302.4 431.2 309.9 C427.7 317.4 428 317 426.4 320.6" stroke-width="0.72" stroke="#585858"/>
<path d="M457.3 257.8 C458.4 261.7 460.8 259.7 460.8 269.6 C460.8 279.5 461.6 276.7 457.3 287.4 C452.9 298.1 455.3 293.7 447.8 301.6 C440.3 309.5 440.7 307.5 434.7 311.1 C428.8 314.6 431.6 311.9 430 312.3" stroke-width="0.9" stroke="#585858"/>
<path d="M463.2 263.7 C464 267.6 465.9 266.5 465.5 275.5 C465.2 284.6 466.3 280.7 462 290.9 C457.6 301.2 460 297.7 452.5 306.4 C445 315 447 312.7 439.5 317 C432 321.4 433.2 318.6 430 319.4" stroke-width="0.72" stroke="#585858"/>
<path d="M453.7 260.1 C454.5 263.7 456.3 262.5 456.1 270.8 C455.9 279.1 457.1 275.9 453.1 285 C449.2 294.1 450.7 290.9 444.2 298.1 C437.7 305.2 437.1 303.6 433.6 306.4" stroke-width="0.72" stroke="#6e6e6e"/>
<path d="M430 249.5 L437.1 244.7 L443 240" stroke-width="0.72" stroke="#585858"/>
<path d="M430 255.4 L441.8 247.1 L457.3 254.2" stroke-width="0.72" stroke="#585858"/>
<ellipse cx="431.2" cy="268.4" rx="4.7" ry="5.2" stroke-width="0.72" stroke="#585858"/>
<path d="M491.6 242.4 L548.5 272" stroke-width="0.9" stroke="#585858"/>
<path d="M501.1 249.5 L543.7 273.2" stroke-width="0.72" stroke="#585858"/>
<path d="M503.5 255.4 L541.4 275.5" stroke-width="0.9" stroke="#585858"/>
<path d="M510.6 268.4 L543.7 286.2" stroke-width="0.72" stroke="#585858"/>
<path d="M518.9 282.7 L541.4 294.5" stroke-width="0.9" stroke="#585858"/>
<path d="M498.7 277.9 L533.1 295.7" stroke-width="0.72" stroke="#585858"/>
<path d="M505.8 289.8 L536.6 306.4" stroke-width="0.72" stroke="#585858"/>
<path d="M484.5 301.6 L512.9 317" stroke-width="0.72" stroke="#6e6e6e"/>
<path d="M491.6 242.4 L489.2 273.2" stroke-width="0.9" stroke="#585858"/>
<path d="M498.7 251.8 L497.5 275.5" stroke-width="0.72" stroke="#585858"/>
<path d="M471.5 247.1 L473.8 263.7" stroke-width="1.92" stroke="#666"/>
<path d="M469.1 269.6 L471.5 287.4" stroke-width="1.92" stroke="#666"/>
<path d="M505.8 268.4 L504.6 277.9" stroke-width="0.72" stroke="#585858"/>
<path d="M543.7 273.2 L541.4 301.6" stroke-width="0.9" stroke="#585858"/>
<path d="M539 290.9 L540.2 301.6" stroke-width="1.68" stroke="#666"/>
<ellipse cx="538.4" cy="255.4" rx="3" ry="4.1" transform="rotate(25 538.4 255.4)" stroke-width="0.9" stroke="#585858"/>
<ellipse cx="555.6" cy="268.4" rx="3" ry="4.1" transform="rotate(25 555.6 268.4)" stroke-width="0.9" stroke="#585858"/>
<path d="M534.3 242.4 C534.7 245.5 533.9 245.5 535.5 251.8 C537 258.2 535.1 257.4 539 261.3 C543 265.3 543 259.4 547.3 263.7 C551.6 268 548.5 270.4 552 274.4 C555.6 278.3 556 275.2 558 275.5" stroke-width="0.9" stroke="#585858"/>
<path d="M541.4 247.1 C542.2 249.9 540.6 250.7 543.7 255.4 C546.9 260.1 546.9 258.6 550.9 261.3 C554.8 264.1 554 262.9 555.6 263.7" stroke-width="0.72" stroke="#585858"/>
<path d="M475 311.1 C476.6 312.7 475.8 313.5 479.8 315.8 C483.7 318.2 481.3 318.2 486.9 318.2 C492.4 318.2 490.8 318.2 496.4 315.8 C501.9 313.5 497.9 311.1 503.5 311.1 C509 311.1 512.1 311.9 512.9 315.8 C513.7 319.8 508.2 320.6 505.8 322.9" stroke-width="0.9" stroke="#585858"/>
<ellipse cx="524.8" cy="302.2" rx="2.8" ry="3.3" transform="rotate(20 524.8 302.2)" stroke-width="0.9" stroke="#585858"/>
<path d="M505.8 296.9 L523.6 299.2" stroke-width="0.72" stroke="#585858"/>
<path d="M504.6 300.4 L522.4 305.2" stroke-width="1.44" stroke="#555"/>
<path d="M469.1 279.1 C468.3 280.7 467.9 281.1 466.7 283.8 C465.5 286.6 465.9 286.2 465.5 287.4" stroke-width="0.72" stroke="#585858"/>
<path d="M475 281.5 C474.4 283 474 283.4 473.2 286.2 C472.5 289 472.9 288.6 472.7 289.8" stroke-width="0.72" stroke="#585858"/>
<path d="M483.3 285 C482.5 287 482.1 287.4 480.9 290.9 C479.8 294.5 480.2 294.1 479.8 295.7" stroke-width="0.72" stroke="#585858"/>
<path d="M491.6 290.9 C490.8 292.5 490.4 292.9 489.2 295.7 C488.1 298.5 488.5 298.1 488.1 299.2" stroke-width="0.72" stroke="#585858"/>
<path d="M498.7 294.5 C497.9 296.1 497.5 296.5 496.4 299.2 C495.2 302 495.6 301.6 495.2 302.8" stroke-width="0.72" stroke="#585858"/>
<path d="M459.6 299.2 C461.6 300.8 460.4 301.6 465.5 304 C470.7 306.4 471.9 305.6 475 306.4" stroke-width="0.72" stroke="#585858"/>
<path d="M457.3 304 L477.4 320.6" stroke-width="1.56" stroke="#666"/>
<path d="M453.7 311.1 L469.1 322.9" stroke-width="0.72" stroke="#585858"/>
<path d="M441.8 315.8 L449 324" stroke-width="0.72" stroke="#585858"/>
<path d="M496.4 247.1 L505.8 250.7 L507 256.6" stroke-width="0.72" stroke="#585858"/>
<path d="M501.1 240 L515.3 247.1 L517.7 242.4" stroke-width="0.72" stroke="#585858"/>
<path d="M520 247.1 L531.9 253" stroke-width="1.56" stroke="#666"/>
<path d="M527.2 269.6 L536.6 275.5 L546.1 274.4" stroke-width="0.72" stroke="#585858"/>
<ellipse cx="340.6" cy="253.7" rx="12.1" ry="15.6" stroke-width="0.9" stroke="#585858" fill="#fff"/>
<ellipse cx="339.6" cy="253.7" rx="10.7" ry="14.2" stroke-width="0.72" stroke="#585858"/>
<ellipse cx="338.7" cy="253.7" rx="9.5" ry="12.8" stroke-width="0.72" stroke="#6e6e6e"/>
<ellipse cx="321.6" cy="246.6" rx="10.2" ry="11.4" stroke-width="0.9" stroke="#585858" fill="#fff"/>
<ellipse cx="321.6" cy="246.6" rx="7.8" ry="9" stroke-width="0.9" stroke="#585858"/>
<ellipse cx="322.6" cy="246.8" rx="6.9" ry="8.1" stroke-width="0.72" stroke="#6e6e6e"/>
<path d="M260 231.2 L310.9 259.6" stroke-width="1.44" stroke="#555"/>
<path d="M260 233.6 L309.8 261" stroke-width="0.72" stroke="#585858"/>
<path d="M263.6 252.5 C264.3 250.1 263.2 248.8 265.9 245.4 C268.7 242 268.3 243.2 271.8 242.4 C275.4 241.7 275 242.8 276.6 243" stroke-width="0.9" stroke="#585858"/>
<path d="M276.6 243 L312.1 260.2" stroke-width="0.9" stroke="#585858"/>
<path d="M263.6 252.5 C263.4 255.7 261.8 257.6 263 262 C264.1 266.3 265.7 264.4 267.1 265.5" stroke-width="0.9" stroke="#585858"/>
<path d="M267.1 265.5 L305 285.7" stroke-width="0.9" stroke="#585858"/>
<path d="M276.6 243 C276.2 245.4 275 246.6 275.4 250.1 C275.8 253.7 277 252.5 277.8 253.7" stroke-width="0.9" stroke="#585858"/>
<path d="M277.8 253.7 L307.4 269.1" stroke-width="0.72" stroke="#585858"/>
<path d="M276.6 271.5 C276.2 273.8 274.6 275 275.4 278.6 C276.2 282.1 277.8 280.9 279 282.1" stroke-width="0.9" stroke="#585858"/>
<path d="M279 282.1 L321.6 304.6 L324 314" stroke-width="0.9" stroke="#585858"/>
<path d="M276.6 271.5 L303.8 285.7" stroke-width="0.72" stroke="#585858"/>
<path d="M310.9 260.8 C309.8 263.6 309.7 263.6 307.4 269.1 C305.1 274.6 305.6 272.7 304.1 277.4 C302.6 282.1 302.2 279.4 302.9 283.3 C303.6 287.3 303.5 286.5 306.2 289.2 C308.9 292 309.4 290.8 310.9 291.6" stroke-width="0.9" stroke="#585858"/>
<path d="M309.8 271.5 C309 274.2 307.8 274.2 307.4 279.8 C307 285.3 308.2 285.3 308.6 288.1" stroke-width="0.72" stroke="#585858"/>
<path d="M307.4 270.3 L339.4 285.1" stroke-width="0.9" stroke="#585858"/>
<path d="M339.4 285.1 C341.4 284.5 340.2 284.3 345.3 283.3 C350.4 282.3 349.7 281.3 354.8 282.1 C359.9 282.9 358.7 284.5 360.7 285.7" stroke-width="0.9" stroke="#585858"/>
<path d="M309.8 289.2 L345.3 305.8" stroke-width="0.9" stroke="#585858"/>
<ellipse cx="353.6" cy="297.5" rx="9" ry="11.4" transform="rotate(15 353.6 297.5)" stroke-width="0.9" stroke="#585858" fill="#fff"/>
<ellipse cx="353.8" cy="297.8" rx="5" ry="6.6" transform="rotate(15 353.8 297.8)" stroke-width="0.9" stroke="#585858"/>
<ellipse cx="354.3" cy="298.2" rx="3.8" ry="5.2" transform="rotate(15 354.3 298.2)" stroke-width="0.72" stroke="#6e6e6e"/>
<path d="M329.9 231.2 L366.6 247.8" stroke-width="0.9" stroke="#585858"/>
<path d="M340.6 230 L371.4 243" stroke-width="0.72" stroke="#585858"/>
<path d="M366.6 247.8 L339.4 285.1" stroke-width="0.9" stroke="#585858"/>
<path d="M371.4 253.7 L350 282.1" stroke-width="0.72" stroke="#585858"/>
<path d="M378.5 250.1 C382.3 258.4 388 259.6 390 275 C392 290.4 389 287.3 384.4 296.4 C379.8 305.4 383.6 300.7 376.1 302.3 C368.6 303.9 366.6 301.5 361.9 301.1" stroke-width="0.9" stroke="#585858"/>
<path d="M376.1 253.7 C379.3 261.2 384 262.8 385.6 276.2 C387.2 289.6 384.8 286.5 380.9 294 C376.9 301.5 376.1 297.1 373.7 298.7" stroke-width="0.72" stroke="#6e6e6e"/>
<ellipse cx="373.7" cy="246.6" rx="5.9" ry="7.1" transform="rotate(15 373.7 246.6)" stroke-width="0.9" stroke="#585858"/>
<ellipse cx="373.7" cy="246.6" rx="3.6" ry="4.5" transform="rotate(15 373.7 246.6)" stroke-width="0.72" stroke="#585858"/>
<path d="M366.6 252.5 C368.2 253.7 367.4 255.7 371.4 256.1 C375.3 256.5 376.1 254.5 378.5 253.7" stroke-width="0.72" stroke="#585858"/>
<path d="M326.4 301.1 L331.1 314" stroke-width="0.72" stroke="#585858"/>
<path d="M333.5 305.8 L338.2 314" stroke-width="0.72" stroke="#585858"/>
<path d="M310.9 291.6 C312.5 294 311.3 294.8 315.7 298.7 C320 302.7 321.2 301.9 324 303.5" stroke-width="0.72" stroke="#585858"/>
<path d="M316.9 296.4 C318.5 297.5 319.2 296.7 321.6 299.9 C324 303.1 323.2 303.9 324 305.8" stroke-width="0.72" stroke="#6e6e6e"/>
<path d="M358 307 L390 318" stroke-width="1.56" stroke="#444"/>
<path d="M360 313 L384 322.4" stroke-width="1.56" stroke="#444"/>
<path d="M368 326 L388 334.4" stroke-width="1.56" stroke="#444"/>
<path d="M378 338 L398 348.4" stroke-width="1.56" stroke="#444"/>
<path d="M362 310 C363.3 314 362 313.3 366 322 C370 330.7 368.7 328.7 374 336 C379.3 343.3 379.3 341.3 382 344" stroke-width="0.72" stroke="#585858"/>
<path d="M358 307 C357.3 308.7 354.7 310 356 312 C357.3 314 360 312.7 362 313" stroke-width="0.72" stroke="#585858"/>
<path d="M339 324 C337.3 327.3 335 328.7 334 334 C333 339.3 335.3 338 336 340" stroke-width="0.9" stroke="#585858"/>
<path d="M336 340 L374 360 L374 350" stroke-width="0.9" stroke="#585858"/>
<path d="M338 328 L358 338 L360 346" stroke-width="0.9" stroke="#585858"/>
<path d="M358 338 L374 346 L374 350" stroke-width="0.72" stroke="#585858"/>
<ellipse cx="381" cy="349" rx="5" ry="6" transform="rotate(20 381 349)" stroke-width="0.9" stroke="#585858" fill="#fff"/>
<ellipse cx="381.4" cy="349.4" rx="2.8" ry="3.6" transform="rotate(20 381.4 349.4)" stroke-width="0.72" stroke="#585858"/>
<path d="M374 360 L386 368 L410 370" stroke-width="0.9" stroke="#585858"/>
<path d="M386 358 L410 369 L411 364" stroke-width="0.72" stroke="#585858"/>
<path d="M374 350 L378 356 L410 364" stroke-width="0.9" stroke="#585858"/>
<path d="M386 358 L386 368" stroke-width="0.72" stroke="#585858"/>
<ellipse cx="423" cy="376" rx="10" ry="11.2" transform="rotate(10 423 376)" stroke-width="0.9" stroke="#585858" fill="#fff"/>
<ellipse cx="423" cy="376" rx="6.8" ry="8" transform="rotate(10 423 376)" stroke-width="0.9" stroke="#585858"/>
<ellipse cx="423.6" cy="376.4" rx="4.8" ry="6" transform="rotate(10 423.6 376.4)" stroke-width="0.72" stroke="#585858"/>
<path d="M410 370 C411.3 374 410 376.3 414 382 C418 387.7 419.3 385.3 422 387" stroke-width="0.9" stroke="#585858"/>
<ellipse cx="423" cy="323" rx="2.6" ry="3.4" transform="rotate(20 423 323)" stroke-width="0.9" stroke="#585858"/>
<path d="M423 327 C423.7 330 422.7 328.3 425 336 C427.3 343.7 425.7 342 430 350 C434.3 358 431.3 354.5 438 360 C444.7 365.5 446 364.3 450 366.4" stroke-width="0.9" stroke="#585858"/>
<path d="M426.4 326.4 C427.1 329.3 426.1 327.7 428.4 335.2 C430.7 342.7 429.2 341.2 433.2 348.8 C437.2 356.4 434.8 353.2 440.4 358 C446 362.8 446.8 361.5 450 363.2" stroke-width="0.72" stroke="#585858"/>
<path d="M390 284 L430 304" stroke-width="0.72" stroke="#585858"/>
<path d="M396 270 L430 288" stroke-width="0.72" stroke="#585858"/>
<path d="M386 300 L422 318" stroke-width="0.72" stroke="#585858"/>
<path d="M390 318 L418 332" stroke-width="0.72" stroke="#585858"/>
<path d="M398 348.4 L426 362" stroke-width="0.72" stroke="#585858"/>
<path d="M402 338 L428 350" stroke-width="0.72" stroke="#6e6e6e"/>
<path d="M406 270 L414 274" stroke-width="0.72" stroke="#585858"/>
<path d="M400 270 C402 271.3 400 272.7 406 274 C412 275.3 411.3 275.3 418 274 C424.7 272.7 423.3 271.3 426 270" stroke-width="0.72" stroke="#585858"/>
<ellipse cx="423" cy="323" rx="2.6" ry="3.4" transform="rotate(20 423 323)" stroke-width="0.9" stroke="#585858"/>
<path d="M450 374 C454.7 373.3 454 375.3 464 372 C474 368.7 469.3 367.7 480 364 C490.7 360.3 484.7 362.3 496 361 C507.3 359.7 508 360.3 514 360" stroke-width="0.9" stroke="#585858"/>
<path d="M452.4 377.2 C456.7 376.4 455.7 378.3 465.2 374.8 C474.7 371.3 470.4 370.5 480.8 366.8 C491.2 363.1 486 364.9 496.4 363.6 C506.8 362.3 506.8 363.1 512 362.8" stroke-width="0.72" stroke="#585858"/>
<ellipse cx="456" cy="376" rx="2.8" ry="3.6" transform="rotate(20 456 376)" stroke-width="0.9" stroke="#585858"/>
<path d="M438 358 C440 361.3 439.3 362.7 444 368 C448.7 373.3 449.3 372 452 374" stroke-width="0.9" stroke="#585858"/>
<path d="M410 292 L476 328" stroke-width="0.72" stroke="#585858"/>
<path d="M410 316 L478 352" stroke-width="0.72" stroke="#585858"/>
<path d="M430 350 L480 374" stroke-width="0.72" stroke="#585858"/>
<path d="M428 328 L470 350" stroke-width="0.72" stroke="#585858"/>
<path d="M450 318 L494 340" stroke-width="0.72" stroke="#585858"/>
<path d="M470 298 L522 326" stroke-width="0.72" stroke="#585858"/>
<path d="M476 282 L538 314" stroke-width="0.72" stroke="#585858"/>
<path d="M494 278 L550 306" stroke-width="0.9" stroke="#585858"/>
<path d="M506 270 L558 296" stroke-width="0.72" stroke="#585858"/>
<path d="M478 352 L492 342" stroke-width="0.72" stroke="#585858"/>
<path d="M428 328 C428.7 330.7 425.3 332.7 430 336 C434.7 339.3 438 337.3 442 338" stroke-width="0.72" stroke="#585858"/>
<path d="M440 320 L442 338" stroke-width="0.72" stroke="#585858"/>
<path d="M450 318 L450 330 L466 338" stroke-width="0.72" stroke="#585858"/>
<path d="M456 302 L476 320" stroke-width="1.92" stroke="#555"/>
<path d="M460 300 L480 318" stroke-width="0.72" stroke="#585858"/>
<path d="M470 282 C472 284.7 470.7 286.7 476 290 C481.3 293.3 481.3 288 486 292 C490.7 296 490 296 490 302 C490 308 487.3 307.3 486 310" stroke-width="0.72" stroke="#585858"/>
<path d="M482 286 C486 288.7 488.7 287.3 494 294 C499.3 300.7 496.7 302 498 306" stroke-width="0.72" stroke="#585858"/>
<path d="M490 292 C494 293.3 497.3 291.3 502 296 C506.7 300.7 503.3 302.7 504 306" stroke-width="0.72" stroke="#585858"/>
<path d="M504 290 L518 298 L522 304" stroke-width="0.72" stroke="#585858"/>
<path d="M518 280 L530 286 L538 284" stroke-width="0.72" stroke="#585858"/>
<path d="M522 290 L542 300" stroke-width="1.56" stroke="#555"/>
<path d="M530 274 L548 282" stroke-width="1.56" stroke="#555"/>
<path d="M486 320 C487.3 318.7 485.3 316.7 490 316 C494.7 315.3 495.3 315.3 500 318 C504.7 320.7 502.7 322 504 324" stroke-width="0.72" stroke="#585858"/>
<path d="M478 338 C480.7 340 480.7 342.7 486 344 C491.3 345.3 491.3 342.7 494 342" stroke-width="0.72" stroke="#585858"/>
<ellipse cx="505" cy="338" rx="6" ry="8" transform="rotate(15 505 338)" stroke-width="0.9" stroke="#585858" fill="#fff"/>
<ellipse cx="505.4" cy="338.4" rx="2.8" ry="4" transform="rotate(15 505.4 338.4)" stroke-width="0.9" stroke="#585858"/>
<path d="M496 334.4 L504 330" stroke-width="0.72" stroke="#585858"/>
<path d="M498 344.4 L506 346.4" stroke-width="0.72" stroke="#585858"/>
<path d="M496 334.4 C495.7 336.3 494.3 336.7 495 340 C495.7 343.3 497 342.9 498 344.4" stroke-width="0.72" stroke="#585858"/>
<path d="M558 308 L574 300 L576 312 L560 320Z" stroke-width="0.72" stroke="#585858"/>
<path d="M562 310 L562 318" stroke-width="0.72" stroke="#585858"/>
<path d="M566 308 L566.4 316.4" stroke-width="0.72" stroke="#585858"/>
<path d="M570 305.6 L570.6 314.4" stroke-width="0.72" stroke="#585858"/>
<path d="M548 318 L558 316.4 L540 327 L550 322.4" stroke-width="0.72" stroke="#585858"/>
<path d="M542 324 L554 320" stroke-width="0.72" stroke="#585858"/>
<path d="M544 322.4 L555 318.6" stroke-width="0.72" stroke="#585858"/>
<path d="M530 344 C531 345.7 532.7 345.7 533 349 C533.3 352.3 531.7 352.3 531 354" stroke-width="0.72" stroke="#585858"/>
<path d="M538 336 L562 320" stroke-width="0.72" stroke="#585858"/>
</g>
<!-- p10_motor -->
<g fill="none" stroke="#505050" stroke-width="1.05" stroke-linecap="round" stroke-linejoin="round">
<path d="M774.4 120.4 C770.9 118.3 769 118.5 764 114 C759 109.5 760.1 111.3 759.4 107 C758.7 102.7 757.8 106.7 762 101 C766.2 95.3 763 100.5 772 90 C781 79.5 780.3 79.3 789 69.4 C797.7 59.5 792.3 65.1 798 60.4 C803.7 55.7 800.3 57.7 806 55.4 C811.7 53.1 809.5 53.5 815 53.6 C820.5 53.7 819.9 54.9 822.4 55.6"/>
<path d="M822.4 55.6 L844.4 67.6"/>
<path d="M858 75.6 L895 97"/>
<path d="M774.4 120.4 L849 166"/>
<path d="M895 97 C897.2 98.5 897.8 97.9 901.6 101.6 C905.4 105.3 903.7 103.2 906.4 108 C909.1 112.8 908.1 110.3 909.6 116 C911.1 121.7 910.5 119 911 125 C911.5 131 911.5 129.1 911.2 134 C910.9 138.9 910.4 137.7 910 139.6"/>
<path d="M849 166 C851.3 167.3 851 167.9 856 170 C861 172.1 858 171.3 864 172.4 C870 173.5 867.3 173.5 874 173.2 C880.7 172.9 878 173.3 884 171.6 C890 169.9 887.3 170.9 892 168 C896.7 165.1 896 164.7 898 163"/>
<path d="M895 97 C891.3 97.2 891.3 95.9 884 97.6 C876.7 99.3 880 97.9 873 102 C866 106.1 869 103.7 863 110 C857 116.3 859.3 113.3 855 121 C850.7 128.7 852.3 124.7 850 133 C847.7 141.3 848.3 137.7 848 146 C847.7 154.3 847.7 150.7 849 158 C850.3 165.3 851 164.7 852 168"/>
<path d="M877.2 164 C876.2 163.8 876.1 164.1 874.3 163.3 C872.5 162.6 873.3 163.1 871.9 161.8 C870.4 160.6 871 161.3 869.9 159.5 C868.9 157.8 869.3 158.7 868.6 156.5 C867.9 154.3 868.2 155.5 867.9 153 C867.6 150.4 867.7 151.7 867.8 148.9 C868 146 867.8 147.5 868.4 144.5 C869.1 141.5 868.7 142.9 869.7 139.9 C870.7 136.8 870.1 138.3 871.5 135.2 C872.9 132.2 872.2 133.6 873.9 130.7 C875.6 127.8 874.7 129.2 876.7 126.5 C878.7 123.8 877.7 125.1 879.9 122.7 C882.1 120.4 881 121.4 883.3 119.5 C885.6 117.6 884.4 118.4 886.8 116.9 C889.2 115.5 888 116.1 890.4 115.1 C892.7 114.2 891.6 114.5 893.8 114.1 C896 113.8 895 113.8 897 114 C899 114.2 898.1 114 899.8 114.7 C901.6 115.5 900.8 115 902.3 116.3 C903.7 117.6 903.1 116.8 904.2 118.6 C905.2 120.4 904.8 119.4 905.5 121.6 C906.1 123.9 905.9 122.7 906.1 125.3 C906.4 127.9 906.3 126.5 906.1 129.4 C905.9 132.2 905.7 132.3 905.5 133.8"/>
<path d="M876.9 161.1 C876.1 160.9 876 161.1 874.7 160.3 C873.4 159.5 874 160 872.9 158.8 C871.8 157.7 872.3 158.3 871.5 156.8 C870.8 155.2 871.1 156 870.6 154.1 C870.2 152.3 870.3 153.2 870.2 151.1 C870.1 148.9 870.1 150 870.3 147.6 C870.6 145.3 870.4 146.5 871 143.9 C871.5 141.4 871.2 142.7 872.1 140.1 C872.9 137.5 872.4 138.8 873.6 136.2 C874.8 133.6 874.1 134.9 875.6 132.4 C877 129.9 876.2 131.1 877.9 128.8 C879.5 126.5 878.7 127.6 880.5 125.5 C882.3 123.5 881.4 124.4 883.2 122.6 C885.1 120.9 884.2 121.6 886.1 120.3 C888.1 118.9 887.1 119.4 889.1 118.4 C891 117.4 890.1 117.8 891.9 117.2 C893.8 116.7 892.9 116.8 894.6 116.7 C896.4 116.6 895.6 116.5 897.1 116.9 C898.7 117.2 898 116.9 899.3 117.7 C900.6 118.5 900 118 901.1 119.2 C902.2 120.3 901.7 119.7 902.5 121.2 C903.2 122.8 902.9 122 903.4 123.9 C903.8 125.7 903.7 124.8 903.8 126.9 C903.9 129.1 903.7 129.2 903.7 130.4"/>
<path d="M878.1 160 C877.6 159.7 877.5 159.9 876.5 159.1 C875.5 158.3 876 158.8 875.2 157.7 C874.4 156.7 874.7 157.3 874.1 155.9 C873.6 154.6 873.8 155.3 873.5 153.7 C873.1 152.2 873.2 153 873.2 151.2 C873.1 149.4 873.1 150.3 873.2 148.4 C873.4 146.5 873.3 147.4 873.7 145.4 C874.1 143.3 873.8 144.4 874.5 142.2 C875.1 140.1 874.8 141.2 875.6 139 C876.5 136.9 876 138 877.1 135.9 C878.2 133.8 877.6 134.8 878.8 132.8 C880.1 130.8 879.4 131.8 880.8 129.9 C882.2 128.1 881.5 128.9 883 127.3 C884.4 125.6 883.7 126.4 885.3 124.9 C886.8 123.5 886 124.1 887.6 122.9 C889.2 121.8 888.4 122.3 890 121.4 C891.6 120.5 890.9 120.9 892.4 120.3 C893.9 119.7 893.2 119.9 894.7 119.7 C896.1 119.4 895.4 119.5 896.8 119.5 C898.1 119.6 897.5 119.5 898.7 119.9 C899.9 120.3 899.3 120.1 900.3 120.8 C901.4 121.5 900.9 121.1 901.7 122.1 C902.5 123.2 902.2 122.6 902.8 123.9 C903.4 125.2 903.2 125.3 903.5 126"/>
<path d="M896.8 159.5 C896 159.6 895.9 159.8 894.6 159.9 C893.2 159.9 893.8 160 892.6 159.6 C891.4 159.2 891.9 159.5 890.9 158.7 C889.9 157.9 890.3 158.4 889.6 157.3 C888.8 156.1 889.1 156.8 888.7 155.3 C888.2 153.9 888.4 154.6 888.2 152.9 C888.1 151.2 888.1 152.1 888.2 150.2 C888.4 148.3 888.3 149.2 888.7 147.2 C889.2 145.2 888.9 146.2 889.7 144.1 C890.4 142.1 890 143.1 891 141.1 C892 139.1 891.5 140 892.7 138.1 C893.9 136.3 893.3 137.1 894.7 135.4 C896.1 133.8 895.4 134.5 896.9 133.1 C898.4 131.7 897.7 132.3 899.2 131.2 C900.8 130.2 900.1 130.6 901.6 129.9 C903.2 129.2 902.4 129.4 903.9 129.1 C905.4 128.8 904.7 128.9 906 128.9 C907.4 129 906.8 128.9 907.9 129.4 C909.1 129.9 908.6 129.6 909.5 130.4 C910.5 131.3 910.1 130.8 910.7 132.1 C911.4 133.3 911.1 132.6 911.5 134.2 C911.9 135.7 911.8 134.9 911.8 136.7 C911.9 138.4 911.9 137.5 911.7 139.5 C911.4 141.4 911.3 141.5 911 142.5"/>
<path d="M910.8 130.9 C911.1 131.1 911.2 131 911.9 131.5 C912.6 132 912.3 131.8 912.9 132.4 C913.5 133.1 913.2 132.7 913.7 133.6 C914.2 134.4 914 134 914.3 135 C914.6 136 914.5 135.4 914.7 136.6 C914.8 137.7 914.8 137.1 914.8 138.4 C914.9 139.6 914.9 139 914.8 140.3 C914.6 141.6 914.7 140.9 914.5 142.3 C914.2 143.7 914.4 143 914 144.4 C913.5 145.8 913.8 145.1 913.2 146.6 C912.7 148 913 147.3 912.3 148.7 C911.7 150.1 912 149.4 911.2 150.8 C910.4 152.1 910.9 151.5 910 152.7 C909.1 154 909.6 153.4 908.6 154.6 C907.6 155.8 908.1 155.2 907.1 156.3 C906.1 157.3 906.6 156.9 905.5 157.8 C904.5 158.7 905 158.3 903.9 159 C902.8 159.8 903.4 159.5 902.3 160.1 C901.2 160.7 901.7 160.4 900.7 160.8 C899.6 161.2 900.1 161.1 899.1 161.3 C898.1 161.5 898.6 161.4 897.6 161.5 C896.6 161.5 897.1 161.5 896.2 161.4 C895.3 161.2 895.7 161.3 894.9 160.9 C894.1 160.6 894.2 160.5 893.8 160.3"/>
<path d="M895.1 155.1 C894.9 154.8 894.9 154.9 894.6 154.3 C894.2 153.7 894.4 154 894.1 153.3 C893.9 152.7 894 153 893.9 152.2 C893.8 151.5 893.8 151.9 893.8 151 C893.8 150.1 893.7 150.6 893.8 149.7 C893.9 148.7 893.8 149.2 894 148.2 C894.2 147.3 894.1 147.8 894.4 146.8 C894.7 145.8 894.5 146.3 894.9 145.3 C895.3 144.3 895.1 144.8 895.5 143.8 C896 142.8 895.7 143.3 896.3 142.3 C896.8 141.3 896.5 141.8 897.2 140.9 C897.8 140 897.4 140.4 898.1 139.6 C898.8 138.7 898.4 139.1 899.2 138.4 C899.9 137.6 899.5 137.9 900.2 137.3 C901 136.6 900.6 136.9 901.4 136.4 C902.1 135.8 901.7 136 902.5 135.6 C903.3 135.2 902.9 135.4 903.6 135 C904.4 134.7 904 134.9 904.7 134.7 C905.4 134.5 905.1 134.6 905.8 134.5 C906.4 134.5 906.1 134.5 906.7 134.6 C907.4 134.7 907.1 134.6 907.6 134.8 C908.2 135.1 907.9 134.9 908.4 135.3 C908.9 135.6 908.7 135.4 909 135.9 C909.4 136.4 909.4 136.5 909.6 136.7"/>
<path d="M898.4 144.4 C899.7 142.9 897.1 140.2 902.4 142.4 C907.7 144.6 919.7 152.1 925 155.6 C930.3 159.1 928.4 157.9 929 160 C929.6 162.1 929.2 164.1 928 166 C926.8 167.9 929 171.5 923 169.4 C917 167.3 903.4 159.5 898 155.6 C892.6 151.7 895.9 152.2 896 150 C896.1 147.8 897.1 145.9 898.4 144.4Z" stroke-width="0.96" fill="#9a9a9a"/>
<path d="M899 144.4 L925 158" stroke-width="0.84" stroke="#3f3f3f"/>
<path d="M898.4 146.4 L924.5 160.1" stroke-width="0.84" stroke="#3f3f3f"/>
<path d="M897.9 148.4 L924 162.2" stroke-width="0.84" stroke="#3f3f3f"/>
<path d="M897.3 150.4 L923.6 164.2" stroke-width="0.84" stroke="#3f3f3f"/>
<path d="M896.8 152.4 L923.1 166.3" stroke-width="0.84" stroke="#3f3f3f"/>
<path d="M896.2 154.4 L922.6 168.4" stroke-width="0.84" stroke="#3f3f3f"/>
<ellipse cx="925.6" cy="163.6" rx="3.6" ry="6.2" transform="rotate(30 925.6 163.6)" fill="#fff" stroke-width="0.84"/>
<path d="M789 69.4 L799.4 76.4 L792.4 88 L787.6 100 L785.6 118"/>
<path d="M799.4 76.4 L778 102 L770 118"/>
<path d="M790 90 L781 104.4 L783 119 L785.6 118"/>
<path d="M770 118 C769.3 116 767.3 116 768 112 C768.7 108 768.7 109.3 772 106 C775.3 102.7 776 103.3 778 102"/>
<path d="M762 101 L772 106"/>
<ellipse cx="776" cy="112.4" rx="2.6" ry="4.2" transform="rotate(30 776 112.4)"/>
<path d="M844.4 67.6 C844.8 65.7 844.1 65.2 845.6 62 C847.1 58.8 845.9 59.3 849 58 C852.1 56.7 850.7 56.7 855 58 C859.3 59.3 858.7 59 862 62 C865.3 65 864.2 63.3 865 67 C865.8 70.7 866.7 70.1 864.4 73 C862.1 75.9 860.1 74.7 858 75.6"/>
<path d="M845.6 62 C847.1 62.8 846.2 62.4 850 64.4 C853.8 66.4 852.7 65.8 857 68 C861.3 70.2 860.5 69.3 863 71 C865.5 72.7 863.9 72.3 864.4 73"/>
<path d="M849 58 C850 58.7 849 58.3 852 60 C855 61.7 854.5 61.3 858 63.2 C861.5 65.1 860.1 64.3 862.4 65.6 C864.7 66.9 864.1 66.5 865 67"/>
<path d="M855 58 L858 51 L862.4 49 L868 53.6 L865.6 60 L862.4 62"/>
<path d="M858 51 L864 55.6 L868 53.6"/>
<path d="M864 55.6 L862.4 62"/>
</g>
<!-- p12_ring23 -->
<g fill="none" stroke="#505050" stroke-width="1.05" stroke-linecap="round" stroke-linejoin="round">
<path d="M941.5 201.7 L939.4 200 L937.8 197.7 L936.7 194.9 L936.2 191.6 L936.2 187.9 L936.7 183.9 L937.8 179.8 L939.4 175.7 L941.5 171.6 L944 167.9 L946.7 164.4 L949.7 161.4 L952.9 158.9 L956.1 157.1 L959.3 155.9 L962.3 155.4 L965 155.7 L967.5 156.6 L978.5 163 L980.6 164.6 L982.2 166.9 L983.3 169.8 L983.8 173.1 L983.8 176.8 L983.3 180.7 L982.2 184.8 L980.6 189 L978.5 193 L976 196.8 L973.3 200.2 L970.3 203.3 L967.1 205.7 L963.9 207.6 L960.7 208.8 L957.7 209.2 L955 209 L952.5 208Z" stroke-width="1.2" stroke="#4a4a4a" fill="#fff"/>
<path d="M952.5 208 C951.8 207.5 951.7 207.7 950.4 206.4 C949.2 205.1 949.7 205.8 948.8 204.1 C947.9 202.4 948.3 203.3 947.7 201.2 C947.2 199.2 947.4 200.3 947.2 197.9 C947 195.6 947 196.8 947.2 194.2 C947.4 191.7 947.2 193 947.7 190.3 C948.3 187.6 947.9 188.9 948.8 186.2 C949.7 183.4 949.2 184.7 950.4 182 C951.7 179.3 951 180.6 952.5 178 C954 175.4 953.2 176.6 955 174.2 C956.7 171.8 955.8 172.9 957.7 170.8 C959.7 168.6 958.7 169.6 960.7 167.7 C962.8 165.9 961.8 166.7 963.9 165.3 C966 163.8 965 164.4 967.1 163.4 C969.2 162.4 968.2 162.8 970.3 162.2 C972.3 161.7 971.3 161.9 973.3 161.8 C975.2 161.7 974.3 161.6 976 162 C977.8 162.4 977.7 162.7 978.5 163" stroke-width="1.2" stroke="#4a4a4a"/>
<ellipse cx="965.5" cy="185.5" rx="15" ry="26" transform="rotate(30 965.5 185.5)" stroke-width="1.2" stroke="#4a4a4a"/>
<ellipse cx="965.5" cy="185.5" rx="13.4" ry="23.2" transform="rotate(30 965.5 185.5)" stroke-width="0.96"/>
<ellipse cx="965.5" cy="185.5" rx="12.1" ry="21" transform="rotate(30 965.5 185.5)" stroke-width="0.96"/>
<path d="M972.1 170.8 C972.2 171.6 972.3 171.5 972.5 173.2 C972.6 174.8 972.6 174 972.5 175.8 C972.3 177.6 972.5 176.7 972.1 178.6 C971.7 180.5 971.9 179.6 971.3 181.5 C970.6 183.5 971 182.5 970.1 184.5 C969.3 186.4 969.8 185.5 968.7 187.3 C967.6 189.2 968.2 188.3 966.9 190 C965.7 191.8 966.3 191 965 192.5 C963.6 194 964.3 193.3 962.8 194.6 C961.4 195.9 962.1 195.4 960.6 196.4 C959.1 197.4 959.8 197 958.3 197.7 C956.8 198.4 957.5 198.2 956 198.5 C954.6 198.9 955.3 198.8 953.9 198.9 C952.5 198.9 953.2 199 951.9 198.7 C950.7 198.4 951.3 198.6 950.2 198 C949.1 197.4 949.6 197.8 948.7 196.9 C947.9 195.9 948.2 196.4 947.6 195.2 C946.9 194 947.2 194.7 946.8 193.2 C946.4 191.7 946.5 192.5 946.4 190.8 C946.3 189.2 946.3 190 946.4 188.2 C946.5 186.4 946.4 187.3 946.8 185.4 C947.2 183.5 946.9 184.4 947.6 182.5 C948.2 180.5 948.3 180.5 948.7 179.5" stroke-width="0.96"/>
<path d="M957.1 172.9 C957.8 172.1 957.8 172 959.3 170.6 C960.9 169.2 960.1 169.8 961.7 168.8 C963.3 167.7 962.5 168.1 964.1 167.4 C965.7 166.6 964.9 166.9 966.5 166.5 C968 166.1 967.3 166.2 968.8 166.1 C970.2 166.1 969.5 166 970.9 166.3 C972.2 166.6 971.6 166.4 972.7 167 C973.8 167.7 973.3 167.3 974.3 168.3 C975.2 169.3 974.8 168.7 975.5 170 C976.1 171.3 975.9 170.6 976.3 172.1 C976.7 173.7 976.6 172.9 976.7 174.6 C976.8 176.4 976.8 175.5 976.7 177.4 C976.6 179.3 976.4 179.4 976.3 180.4" stroke-width="0.84"/>
<path d="M968 171 C968.7 173.3 969.7 173 970 178 C970.3 183 970.7 181 969 186 C967.3 191 968 189 965 193 C962 197 961.7 196.3 960 198" stroke-width="0.96"/>
<path d="M960 198 C958.3 197.3 957 198.7 955 196 C953 193.3 953.3 193.3 954 190 C954.7 186.7 954.3 187.3 957 186 C959.7 184.7 959.7 184.7 962 186 C964.3 187.3 963.3 188.7 964 190" stroke-width="0.96"/>
<ellipse cx="956.5" cy="192.5" rx="1.6" ry="2.4" transform="rotate(30 956.5 192.5)" stroke-width="0.84"/>
<path d="M952 193 C952.7 195.7 951.3 196.7 954 201 C956.7 205.3 958 204.3 960 206" stroke-width="0.84"/>
<ellipse cx="995" cy="204.4" rx="13" ry="22.6" transform="rotate(30 995 204.4)" stroke-width="2.04" stroke="#3d3d3d"/>
</g>
<!-- p14_gears -->
<g fill="none" stroke="#505050" stroke-width="1.05" stroke-linecap="round" stroke-linejoin="round">
<path d="M644.6 167.6 L644 167.1 L643.5 166.4 L643.2 165.6 L643 164.6 L643 163.6 L643.2 162.4 L643.5 161.2 L644 160 L644.6 158.8 L645.3 157.7 L646.1 156.7 L647 155.8 L647.9 155.1 L648.8 154.5 L649.8 154.2 L650.6 154.1 L651.4 154.1 L652.2 154.4 L653.5 155.2 L654.1 155.7 L654.6 156.4 L654.9 157.2 L655.1 158.2 L655.1 159.2 L654.9 160.4 L654.6 161.6 L654.1 162.8 L653.5 164 L652.8 165.1 L652 166.1 L651.1 167 L650.2 167.7 L649.3 168.3 L648.4 168.6 L647.5 168.7 L646.7 168.7 L645.9 168.4Z" stroke-width="0.96" stroke="#444" fill="#9a9a9a"/>
<ellipse cx="649.7" cy="161.8" rx="4.4" ry="7.6" transform="rotate(30 649.7 161.8)" fill="#b9b9b9" stroke-width="0.96" stroke="#444"/>
<ellipse cx="649.7" cy="161.8" rx="2.2" ry="3.8" transform="rotate(30 649.7 161.8)" fill="#fff" stroke-width="0.96" stroke="#444"/>
<path d="M657.4 169.4 L657.2 169.2 L657 169 L656.9 168.8 L656.9 168.5 L656.9 168.2 L656.9 167.8 L657 167.5 L657.2 167.1 L657.4 166.7 L657.6 166.4 L657.8 166.1 L658.1 165.8 L658.4 165.6 L658.6 165.4 L658.9 165.3 L659.2 165.3 L659.4 165.3 L659.6 165.4 L673.6 173.5 L673.8 173.6 L673.9 173.8 L674 174.1 L674.1 174.3 L674.1 174.7 L674 175 L673.9 175.4 L673.8 175.8 L673.6 176.1 L673.4 176.4 L673.1 176.7 L672.9 177 L672.6 177.2 L672.3 177.4 L672 177.5 L671.7 177.5 L671.5 177.5 L671.3 177.4Z" stroke-width="0.84" stroke="#444" fill="#8a8a8a"/>
<path d="M658.7 170.2 C658.6 169.8 658.3 170 658.3 169.1 C658.3 168.3 658.2 168.5 658.7 167.5 C659.3 166.6 659.1 166.8 659.9 166.3 C660.7 165.9 660.7 166.3 661 166.2" stroke-width="0.6" stroke="#333"/>
<path d="M660.1 171 C660 170.6 659.7 170.8 659.7 169.9 C659.7 169.1 659.6 169.3 660.1 168.3 C660.7 167.4 660.5 167.6 661.3 167.1 C662.1 166.7 662.1 167.1 662.4 167" stroke-width="0.6" stroke="#333"/>
<path d="M661.5 171.8 C661.4 171.5 661.1 171.6 661.1 170.8 C661.1 169.9 661 170.1 661.5 169.1 C662.1 168.2 661.9 168.4 662.7 167.9 C663.4 167.5 663.4 167.9 663.8 167.8" stroke-width="0.6" stroke="#333"/>
<path d="M662.9 172.6 C662.8 172.3 662.4 172.4 662.4 171.6 C662.4 170.7 662.4 170.9 662.9 170 C663.5 169 663.3 169.2 664.1 168.7 C664.8 168.3 664.8 168.7 665.2 168.6" stroke-width="0.6" stroke="#333"/>
<path d="M664.3 173.4 C664.2 173.1 663.8 173.2 663.8 172.4 C663.8 171.5 663.8 171.7 664.3 170.8 C664.9 169.8 664.7 170 665.5 169.5 C666.2 169.1 666.2 169.5 666.6 169.4" stroke-width="0.6" stroke="#333"/>
<path d="M665.7 174.2 C665.6 173.9 665.2 174.1 665.2 173.2 C665.2 172.3 665.2 172.5 665.7 171.6 C666.3 170.6 666.1 170.8 666.9 170.3 C667.6 169.9 667.6 170.3 668 170.2" stroke-width="0.6" stroke="#333"/>
<path d="M667.1 175 C666.9 174.7 666.6 174.9 666.6 174 C666.6 173.1 666.6 173.3 667.1 172.4 C667.6 171.4 667.5 171.6 668.3 171.2 C669 170.7 669 171.1 669.4 171" stroke-width="0.6" stroke="#333"/>
<path d="M668.5 175.8 C668.3 175.5 668 175.7 668 174.8 C668 173.9 668 174.1 668.5 173.2 C669 172.2 668.9 172.4 669.6 172 C670.4 171.5 670.4 171.9 670.8 171.8" stroke-width="0.6" stroke="#333"/>
<path d="M669.9 176.6 C669.7 176.3 669.4 176.5 669.4 175.6 C669.4 174.7 669.3 174.9 669.9 174 C670.4 173 670.3 173.2 671 172.8 C671.8 172.3 671.8 172.7 672.2 172.6" stroke-width="0.6" stroke="#333"/>
<path d="M669.9 179.8 L669.5 179.5 L669.2 179.1 L669 178.5 L668.9 177.9 L668.9 177.2 L669 176.4 L669.2 175.6 L669.5 174.8 L669.9 174.1 L670.4 173.3 L670.9 172.7 L671.5 172.1 L672.1 171.6 L672.7 171.3 L673.3 171 L673.9 170.9 L674.4 171 L674.9 171.2 L677.5 172.7 L677.9 173 L678.2 173.4 L678.4 174 L678.5 174.6 L678.5 175.3 L678.4 176.1 L678.2 176.9 L677.9 177.7 L677.5 178.4 L677 179.2 L676.5 179.8 L675.9 180.4 L675.3 180.9 L674.7 181.2 L674.1 181.5 L673.5 181.6 L673 181.5 L672.5 181.3Z" stroke-width="0.96" stroke="#444" fill="#b5b5b5"/>
<ellipse cx="675" cy="177" rx="2.9" ry="5" transform="rotate(30 675 177)" fill="#d2d2d2" stroke-width="0.96" stroke="#444"/>
<ellipse cx="675" cy="177" rx="1.4" ry="2.5" transform="rotate(30 675 177)" fill="#8c8c8c" stroke-width="0.72" stroke="#444"/>
<path d="M687.4 285.2 L685.5 288.2 L684.1 288 L684.7 284.8 L683.6 284.4 L681.3 287.1 L680.1 286.4 L681.4 283.1 L680.5 282.2 L678 284.4 L677.2 283.2 L678.9 280 L678.3 278.8 L675.7 280.2 L675.3 278.7 L677.4 275.8 L677.2 274.3 L674.7 275 L674.6 273.1 L677 270.7 L677.1 269 L674.9 268.9 L675.2 266.8 L677.7 265 L678.2 263.2 L676.3 262.3 L677 260.1 L679.5 259.1 L680.3 257.2 L678.9 255.6 L679.9 253.5 L682.3 253.2 L683.4 251.4 L682.5 249.2 L683.8 247.2 L685.9 247.8 L687.1 246.2 L686.8 243.4 L688.4 241.8 L690 243.1 L691.4 241.7 L691.8 238.6 L693.4 237.4 L694.5 239.4 L696 238.4 L696.9 235.1 L698.6 234.3 L699.2 236.9 L700.6 236.4 L702.1 233.1 L703.7 232.8 L703.6 235.8 L704.9 235.7 L706.9 232.7 L708.3 232.9 L707.6 236.1 L708.8 236.5 L711 233.8 L712.2 234.5 L711 237.8 L711.8 238.7 L714.3 236.5 L715.2 237.7 L713.4 240.9" stroke-width="0.96" stroke="#444"/>
<path d="M712.7 270 L713.8 272.1 L712.5 274.1 L710.3 273.8 L709.1 275.4 L709.5 278.1 L708 279.8 L706.3 278.7 L704.9 280 L704.7 283.1 L703.1 284.4 L701.8 282.6 L700.4 283.6 L699.6 286.9 L697.9 287.8 L697.2 285.4 L695.7 286 L694.4 289.2 L692.8 289.7 L692.7 286.8 L691.3 286.9 L689.5 290 L688 290 L688.6 286.7 L687.4 286.4 L685.2 289.2 L684 288.6 L685.1 285.3 L684.1 284.6 L681.7 286.8 L680.7 285.7 L682.4 282.5 L681.7 281.4 L679.2 283 L678.6 281.5 L680.7 278.6 L680.4 277.1 L677.8 278 L677.7 276.1 L680 273.6 L680.1 271.9 L677.8 272 L678 270 L680.5 268.1 L680.9 266.2 L678.9 265.5 L679.5 263.3 L682.1 262.1 L682.8 260.2 L681.3 258.8 L682.2 256.6 L684.7 256.2 L685.7 254.4 L684.6 252.3 L685.9 250.3 L688.1 250.6 L689.3 249 L688.9 246.3 L690.4 244.6 L692.1 245.7 L693.5 244.4 L693.7 241.3 L695.3 240 L696.6 241.8 L698 240.8 L698.8 237.5 L700.5 236.6 L701.2 239 L702.7 238.4 L704 235.2 L705.6 234.7 L705.7 237.6 L707.1 237.5 L708.9 234.4 L710.4 234.4 L709.8 237.7 L711 238 L713.2 235.2 L714.5 235.8 L713.3 239.1 L714.3 239.8 L716.7 237.6 L717.7 238.7 L716 241.9 L716.7 243 L719.2 241.4 L719.8 242.9 L717.7 245.8 L718 247.3 L720.6 246.4 L720.7 248.3 L718.4 250.8 L718.3 252.5 L720.6 252.4 L720.4 254.4 L717.9 256.3 L717.5 258.2 L719.5 258.9 L718.9 261.1 L716.3 262.3 L715.6 264.2 L717.1 265.6 L716.2 267.8 L713.7 268.2Z" stroke-width="1.14" stroke="#3f3f3f" fill="#fff"/>
<path d="M684.7 289 L681.7 287.3" stroke-width="0.72" stroke="#444"/>
<path d="M681.3 286.4 L678.3 284.7" stroke-width="0.72" stroke="#444"/>
<path d="M678.9 282.4 L675.9 280.7" stroke-width="0.72" stroke="#444"/>
<path d="M677.8 277.3 L674.7 275.5" stroke-width="0.72" stroke="#444"/>
<path d="M677.8 271.2 L674.8 269.5" stroke-width="0.72" stroke="#444"/>
<path d="M679.1 264.7 L676.1 262.9" stroke-width="0.72" stroke="#444"/>
<path d="M681.6 258 L678.6 256.2" stroke-width="0.72" stroke="#444"/>
<path d="M685.1 251.5 L682.1 249.8" stroke-width="0.72" stroke="#444"/>
<path d="M689.4 245.7 L686.4 243.9" stroke-width="0.72" stroke="#444"/>
<path d="M694.3 240.8 L691.3 239" stroke-width="0.72" stroke="#444"/>
<path d="M699.5 237.2 L696.4 235.4" stroke-width="0.72" stroke="#444"/>
<path d="M704.6 235 L701.6 233.2" stroke-width="0.72" stroke="#444"/>
<path d="M709.5 234.4 L706.4 232.6" stroke-width="0.72" stroke="#444"/>
<path d="M713.7 235.4 L710.7 233.6" stroke-width="0.72" stroke="#444"/>
<ellipse cx="699.2" cy="262.2" rx="14.6" ry="25.3" transform="rotate(30 699.2 262.2)" stroke-width="0.96"/>
<ellipse cx="699.2" cy="262.2" rx="12.4" ry="21.5" transform="rotate(30 699.2 262.2)" stroke-width="0.96"/>
<path d="M706.2 266.3 L707.1 268.1 L705.9 269.8 L704.3 269.1 L703.2 270.3 L703.1 272.9 L701.6 274 L700.8 272.2 L699.6 272.8 L698.5 275.7 L697.1 276.1 L697.2 273.4 L696.2 273.4 L694.4 276 L693.2 275.5 L694.3 272.6 L693.6 271.9 L691.4 273.7 L690.8 272.4 L692.6 269.9 L692.4 268.7 L690.3 269.2 L690.3 267.5 L692.5 265.8 L692.8 264.3 L691.1 263.6 L691.8 261.7 L694 261.1 L694.8 259.6 L693.9 257.8 L695 256.1 L696.7 256.8 L697.8 255.6 L697.9 253 L699.4 251.9 L700.2 253.7 L701.4 253.1 L702.5 250.2 L703.9 249.8 L703.8 252.5 L704.8 252.5 L706.6 249.9 L707.7 250.4 L706.7 253.3 L707.4 254 L709.6 252.2 L710.2 253.5 L708.4 256 L708.6 257.2 L710.7 256.7 L710.7 258.4 L708.5 260.1 L708.2 261.6 L709.9 262.3 L709.2 264.2 L707 264.8Z" stroke-width="0.96" stroke="#333" fill="#6e6e6e"/>
<path d="M705.9 267.2 L711.1 270.1" stroke-width="0.84" stroke="#2d2d2d"/>
<path d="M703.3 268.4 L708.9 271.1" stroke-width="0.72" stroke="#bdbdbd"/>
<path d="M701.9 272.1 L707.6 274.2" stroke-width="0.84" stroke="#2d2d2d"/>
<path d="M699.7 271.7 L705.7 274" stroke-width="0.72" stroke="#bdbdbd"/>
<path d="M697.3 274.9 L703.7 276.7" stroke-width="0.84" stroke="#2d2d2d"/>
<path d="M696 273.1 L702.4 275.3" stroke-width="0.72" stroke="#bdbdbd"/>
<path d="M693.2 275.3 L700 277" stroke-width="0.84" stroke="#2d2d2d"/>
<path d="M692.9 272.4 L699.7 274.6" stroke-width="0.72" stroke="#bdbdbd"/>
<path d="M690.2 273 L697.5 275" stroke-width="0.84" stroke="#2d2d2d"/>
<path d="M691.1 269.6 L698.1 272.2" stroke-width="0.72" stroke="#bdbdbd"/>
<path d="M689 268.6 L696.4 271.2" stroke-width="0.84" stroke="#2d2d2d"/>
<path d="M690.8 265.4 L697.9 268.5" stroke-width="0.72" stroke="#bdbdbd"/>
<path d="M689.8 263 L697.1 266.4" stroke-width="0.84" stroke="#2d2d2d"/>
<path d="M692.3 260.5 L699.2 264.2" stroke-width="0.72" stroke="#bdbdbd"/>
<path d="M692.5 257.2 L699.5 261.3" stroke-width="0.84" stroke="#2d2d2d"/>
<path d="M695.1 256 L701.7 260.3" stroke-width="0.72" stroke="#bdbdbd"/>
<path d="M696.5 252.3 L702.9 257.2" stroke-width="0.84" stroke="#2d2d2d"/>
<path d="M698.7 252.7 L704.8 257.4" stroke-width="0.72" stroke="#bdbdbd"/>
<path d="M701.1 249.5 L706.9 254.7" stroke-width="0.84" stroke="#2d2d2d"/>
<path d="M702.4 251.3 L708.1 256.1" stroke-width="0.72" stroke="#bdbdbd"/>
<path d="M705.2 249.1 L710.5 254.4" stroke-width="0.84" stroke="#2d2d2d"/>
<path d="M705.5 252 L710.8 256.8" stroke-width="0.72" stroke="#bdbdbd"/>
<path d="M708.2 251.4 L713.1 256.4" stroke-width="0.84" stroke="#2d2d2d"/>
<path d="M707.3 254.8 L712.4 259.2" stroke-width="0.72" stroke="#bdbdbd"/>
<path d="M709.4 255.8 L714.1 260.2" stroke-width="0.84" stroke="#2d2d2d"/>
<path d="M707.6 259 L712.6 262.9" stroke-width="0.72" stroke="#bdbdbd"/>
<path d="M708.6 261.4 L713.4 265" stroke-width="0.84" stroke="#2d2d2d"/>
<path d="M706.1 263.9 L711.3 267.2" stroke-width="0.72" stroke="#bdbdbd"/>
<path d="M710.3 268.6 L711 270.2 L710 271.6 L708.5 271.1 L707.6 272.1 L707.5 274.3 L706.2 275.3 L705.5 273.7 L704.5 274.3 L703.6 276.7 L702.3 277 L702.4 274.8 L701.5 274.8 L700 276.9 L699 276.5 L699.9 274.1 L699.3 273.5 L697.4 274.9 L696.9 273.9 L698.4 271.7 L698.2 270.7 L696.4 271.1 L696.5 269.6 L698.3 268.1 L698.6 266.9 L697.2 266.2 L697.8 264.6 L699.6 264.1 L700.3 262.8 L699.5 261.2 L700.6 259.8 L702 260.3 L702.9 259.3 L703 257.1 L704.3 256.1 L705 257.7 L706.1 257.1 L707 254.7 L708.2 254.4 L708.1 256.6 L709 256.6 L710.6 254.5 L711.5 254.9 L710.6 257.3 L711.2 257.9 L713.1 256.5 L713.6 257.5 L712.1 259.7 L712.3 260.7 L714.1 260.3 L714 261.8 L712.2 263.3 L711.9 264.5 L713.3 265.2 L712.7 266.8 L710.9 267.3Z" stroke-width="0.96" stroke="#333" fill="#cfcfcf"/>
<ellipse cx="705.3" cy="265.7" rx="4.3" ry="7.5" transform="rotate(30 705.3 265.7)" fill="#8f8f8f" stroke-width="0.84" stroke="#444"/>
<ellipse cx="705.3" cy="265.7" rx="2.7" ry="4.6" transform="rotate(30 705.3 265.7)" fill="#fff" stroke-width="0.96" stroke="#444"/>
<path d="M696.2 340 L694.3 343 L692.9 342.8 L693.5 339.6 L692.4 339.2 L690.1 341.9 L688.9 341.2 L690.2 337.9 L689.3 337 L686.8 339.2 L686 338 L687.7 334.8 L687.1 333.6 L684.5 335 L684.1 333.5 L686.2 330.6 L686 329.1 L683.5 329.8 L683.4 327.9 L685.8 325.5 L685.9 323.8 L683.7 323.7 L684 321.6 L686.5 319.8 L687 318 L685.1 317.1 L685.8 314.9 L688.3 313.9 L689.1 312 L687.7 310.4 L688.7 308.3 L691.1 308 L692.2 306.2 L691.3 304 L692.6 302 L694.7 302.6 L695.9 301 L695.6 298.2 L697.2 296.6 L698.8 297.9 L700.2 296.5 L700.6 293.4 L702.2 292.2 L703.3 294.2 L704.8 293.2 L705.7 289.9 L707.4 289.1 L708 291.7 L709.4 291.2 L710.9 287.9 L712.5 287.6 L712.4 290.6 L713.7 290.5 L715.7 287.5 L717.1 287.7 L716.4 290.9 L717.6 291.3 L719.8 288.6 L721 289.3 L719.8 292.6 L720.6 293.5 L723.1 291.3 L724 292.5 L722.2 295.7" stroke-width="0.96" stroke="#444"/>
<path d="M721.5 324.8 L722.6 326.9 L721.3 328.9 L719.1 328.6 L717.9 330.2 L718.3 332.9 L716.8 334.6 L715.1 333.5 L713.7 334.8 L713.5 337.9 L711.9 339.2 L710.6 337.4 L709.2 338.4 L708.4 341.7 L706.7 342.6 L706 340.2 L704.5 340.8 L703.2 344 L701.6 344.5 L701.5 341.6 L700.1 341.7 L698.3 344.8 L696.8 344.8 L697.4 341.5 L696.2 341.2 L694 344 L692.8 343.4 L693.9 340.1 L692.9 339.4 L690.5 341.6 L689.5 340.5 L691.2 337.3 L690.5 336.2 L688 337.8 L687.4 336.3 L689.5 333.4 L689.2 331.9 L686.6 332.8 L686.5 330.9 L688.8 328.4 L688.9 326.7 L686.6 326.8 L686.8 324.8 L689.3 322.9 L689.7 321 L687.7 320.3 L688.3 318.1 L690.9 316.9 L691.6 315 L690.1 313.6 L691 311.4 L693.5 311 L694.5 309.2 L693.4 307.1 L694.7 305.1 L696.9 305.4 L698.1 303.8 L697.7 301.1 L699.2 299.4 L700.9 300.5 L702.3 299.2 L702.5 296.1 L704.1 294.8 L705.4 296.6 L706.8 295.6 L707.6 292.3 L709.3 291.4 L710 293.8 L711.5 293.2 L712.8 290 L714.4 289.5 L714.5 292.4 L715.9 292.3 L717.7 289.2 L719.2 289.2 L718.6 292.5 L719.8 292.8 L722 290 L723.2 290.6 L722.1 293.9 L723.1 294.6 L725.5 292.4 L726.5 293.5 L724.8 296.7 L725.5 297.8 L728 296.2 L728.6 297.7 L726.5 300.6 L726.8 302.1 L729.4 301.2 L729.5 303.1 L727.2 305.6 L727.1 307.3 L729.4 307.2 L729.2 309.2 L726.7 311.1 L726.3 313 L728.3 313.7 L727.7 315.9 L725.1 317.1 L724.4 319 L725.9 320.4 L725 322.6 L722.5 323Z" stroke-width="1.14" stroke="#3f3f3f" fill="#fff"/>
<path d="M693.5 343.8 L690.5 342.1" stroke-width="0.72" stroke="#444"/>
<path d="M690.1 341.2 L687.1 339.5" stroke-width="0.72" stroke="#444"/>
<path d="M687.7 337.2 L684.7 335.5" stroke-width="0.72" stroke="#444"/>
<path d="M686.6 332.1 L683.5 330.3" stroke-width="0.72" stroke="#444"/>
<path d="M686.6 326 L683.6 324.3" stroke-width="0.72" stroke="#444"/>
<path d="M687.9 319.5 L684.9 317.7" stroke-width="0.72" stroke="#444"/>
<path d="M690.4 312.8 L687.4 311" stroke-width="0.72" stroke="#444"/>
<path d="M693.9 306.3 L690.9 304.6" stroke-width="0.72" stroke="#444"/>
<path d="M698.2 300.5 L695.2 298.7" stroke-width="0.72" stroke="#444"/>
<path d="M703.1 295.6 L700.1 293.8" stroke-width="0.72" stroke="#444"/>
<path d="M708.3 292 L705.2 290.2" stroke-width="0.72" stroke="#444"/>
<path d="M713.4 289.8 L710.4 288" stroke-width="0.72" stroke="#444"/>
<path d="M718.3 289.2 L715.2 287.4" stroke-width="0.72" stroke="#444"/>
<path d="M722.5 290.2 L719.5 288.4" stroke-width="0.72" stroke="#444"/>
<ellipse cx="708" cy="317" rx="14.6" ry="25.3" transform="rotate(30 708 317)" stroke-width="0.96"/>
<ellipse cx="708" cy="317" rx="12.4" ry="21.5" transform="rotate(30 708 317)" stroke-width="0.96"/>
<ellipse cx="708" cy="317" rx="7.2" ry="12.5" transform="rotate(30 708 317)" fill="#f2f2f2" stroke-width="1.08" stroke="#444"/>
<ellipse cx="708" cy="317" rx="5.9" ry="10.3" transform="rotate(30 708 317)" fill="#cdcdcd" stroke-width="0.72" stroke="#555"/>
<ellipse cx="708" cy="317" rx="4.2" ry="7.2" transform="rotate(30 708 317)" fill="#e9e9e9" stroke-width="0.96" stroke="#444"/>
<ellipse cx="708" cy="317" rx="2.7" ry="4.6" transform="rotate(30 708 317)" fill="#fff" stroke-width="0.96" stroke="#444"/>
<path d="M736.3 295.7 L735.4 295 L734.7 294 L734.3 292.8 L734 291.4 L734 289.8 L734.3 288.2 L734.7 286.4 L735.4 284.7 L736.3 283 L737.3 281.4 L738.5 279.9 L739.8 278.6 L741.1 277.6 L742.5 276.8 L743.8 276.3 L745.1 276.1 L746.3 276.2 L747.3 276.6 L753.7 280.3 L754.6 281 L755.3 282 L755.7 283.2 L756 284.6 L756 286.2 L755.7 287.8 L755.3 289.6 L754.6 291.3 L753.7 293 L752.7 294.6 L751.5 296.1 L750.2 297.4 L748.9 298.4 L747.5 299.2 L746.2 299.7 L744.9 299.9 L743.7 299.8 L742.7 299.4Z" stroke-width="1.2" stroke="#444" fill="#8a8a8a"/>
<path d="M735.8 295.4 L742.2 299.1" stroke-width="0.72" stroke="#c4c4c4"/>
<path d="M734.8 294.2 L741.2 297.9" stroke-width="0.72" stroke="#4a4a4a"/>
<path d="M734.2 292.5 L740.6 296.2" stroke-width="0.72" stroke="#c4c4c4"/>
<path d="M734 290.6 L740.4 294.3" stroke-width="0.72" stroke="#4a4a4a"/>
<path d="M734.3 288.3 L740.7 292" stroke-width="0.72" stroke="#c4c4c4"/>
<path d="M734.9 286 L741.3 289.7" stroke-width="0.72" stroke="#4a4a4a"/>
<path d="M735.9 283.6 L742.3 287.3" stroke-width="0.72" stroke="#c4c4c4"/>
<path d="M737.3 281.4 L743.7 285.1" stroke-width="0.72" stroke="#4a4a4a"/>
<path d="M738.9 279.5 L745.3 283.2" stroke-width="0.72" stroke="#c4c4c4"/>
<path d="M740.6 277.9 L747.1 281.6" stroke-width="0.72" stroke="#4a4a4a"/>
<path d="M742.5 276.8 L748.9 280.5" stroke-width="0.72" stroke="#c4c4c4"/>
<path d="M744.3 276.2 L750.7 279.9" stroke-width="0.72" stroke="#4a4a4a"/>
<path d="M745.9 276.2 L752.3 279.9" stroke-width="0.72" stroke="#c4c4c4"/>
<ellipse cx="748.2" cy="289.9" rx="6.3" ry="11" transform="rotate(30 748.2 289.9)" fill="#a0a0a0" stroke-width="1.08" stroke="#444"/>
<ellipse cx="748.2" cy="289.9" rx="5" ry="8.6" transform="rotate(30 748.2 289.9)" fill="#7c7c7c" stroke-width="0.72" stroke="#555"/>
<ellipse cx="748.2" cy="289.9" rx="3.6" ry="6.2" transform="rotate(30 748.2 289.9)" fill="#cfcfcf" stroke-width="0.72" stroke="#555"/>
<path d="M742.7 292.2 C742.7 291.9 742.6 292 742.6 291.5 C742.6 291 742.6 291.2 742.6 290.7 C742.6 290.2 742.6 290.4 742.7 289.9 C742.8 289.3 742.8 289.6 742.9 289 C743.1 288.4 743 288.7 743.3 288.1 C743.5 287.5 743.4 287.8 743.7 287.3 C744 286.7 743.9 287 744.2 286.5 C744.6 285.9 744.4 286.2 744.8 285.7 C745.2 285.3 745 285.5 745.5 285.1 C745.9 284.7 745.7 284.9 746.1 284.6 C746.6 284.3 746.4 284.4 746.8 284.2 C747.3 284 747 284 747.5 283.9 C747.9 283.8 747.7 283.8 748.1 283.8 C748.5 283.8 748.3 283.8 748.7 283.9 C749.1 284 748.9 283.9 749.2 284.1 C749.5 284.3 749.4 284.2 749.7 284.4 C749.9 284.7 749.8 284.6 750 284.9 C750.2 285.3 750.2 285.3 750.2 285.5" stroke-width="0.72" stroke="#555"/>
<path d="M759.3 310.7 L758.4 310 L757.7 309 L757.3 307.8 L757 306.4 L757 304.8 L757.3 303.2 L757.7 301.4 L758.4 299.7 L759.3 298 L760.3 296.4 L761.5 294.9 L762.8 293.6 L764.1 292.6 L765.5 291.8 L766.8 291.3 L768.1 291.1 L769.3 291.2 L770.3 291.6 L776.7 295.3 L777.6 296 L778.3 297 L778.7 298.2 L779 299.6 L779 301.2 L778.7 302.8 L778.3 304.6 L777.6 306.3 L776.7 308 L775.7 309.6 L774.5 311.1 L773.2 312.4 L771.9 313.4 L770.5 314.2 L769.2 314.7 L767.9 314.9 L766.7 314.8 L765.7 314.4Z" stroke-width="1.2" stroke="#444" fill="#8a8a8a"/>
<path d="M758.8 310.4 L765.2 314.1" stroke-width="0.72" stroke="#c4c4c4"/>
<path d="M757.8 309.2 L764.2 312.9" stroke-width="0.72" stroke="#4a4a4a"/>
<path d="M757.2 307.5 L763.6 311.2" stroke-width="0.72" stroke="#c4c4c4"/>
<path d="M757 305.6 L763.4 309.3" stroke-width="0.72" stroke="#4a4a4a"/>
<path d="M757.3 303.3 L763.7 307" stroke-width="0.72" stroke="#c4c4c4"/>
<path d="M757.9 301 L764.3 304.7" stroke-width="0.72" stroke="#4a4a4a"/>
<path d="M758.9 298.6 L765.3 302.3" stroke-width="0.72" stroke="#c4c4c4"/>
<path d="M760.3 296.4 L766.7 300.1" stroke-width="0.72" stroke="#4a4a4a"/>
<path d="M761.9 294.5 L768.3 298.2" stroke-width="0.72" stroke="#c4c4c4"/>
<path d="M763.6 292.9 L770.1 296.6" stroke-width="0.72" stroke="#4a4a4a"/>
<path d="M765.5 291.8 L771.9 295.5" stroke-width="0.72" stroke="#c4c4c4"/>
<path d="M767.3 291.2 L773.7 294.9" stroke-width="0.72" stroke="#4a4a4a"/>
<path d="M768.9 291.2 L775.3 294.9" stroke-width="0.72" stroke="#c4c4c4"/>
<ellipse cx="771.2" cy="304.9" rx="6.3" ry="11" transform="rotate(30 771.2 304.9)" fill="#a0a0a0" stroke-width="1.08" stroke="#444"/>
<ellipse cx="771.2" cy="304.9" rx="5" ry="8.6" transform="rotate(30 771.2 304.9)" fill="#7c7c7c" stroke-width="0.72" stroke="#555"/>
<ellipse cx="771.2" cy="304.9" rx="3.6" ry="6.2" transform="rotate(30 771.2 304.9)" fill="#cfcfcf" stroke-width="0.72" stroke="#555"/>
<path d="M765.7 307.2 C765.7 306.9 765.6 307 765.6 306.5 C765.6 306 765.6 306.2 765.6 305.7 C765.6 305.2 765.6 305.4 765.7 304.9 C765.8 304.3 765.8 304.6 765.9 304 C766.1 303.4 766 303.7 766.3 303.1 C766.5 302.5 766.4 302.8 766.7 302.3 C767 301.7 766.9 302 767.2 301.5 C767.6 300.9 767.4 301.2 767.8 300.7 C768.2 300.3 768 300.5 768.5 300.1 C768.9 299.7 768.7 299.9 769.1 299.6 C769.6 299.3 769.4 299.4 769.8 299.2 C770.3 299 770 299 770.5 298.9 C770.9 298.8 770.7 298.8 771.1 298.8 C771.5 298.8 771.3 298.8 771.7 298.9 C772.1 299 771.9 298.9 772.2 299.1 C772.5 299.3 772.4 299.2 772.7 299.4 C772.9 299.7 772.8 299.6 773 299.9 C773.2 300.3 773.2 300.3 773.2 300.5" stroke-width="0.72" stroke="#555"/>
<path d="M731.3 342.1 L730.4 341.4 L729.7 340.4 L729.3 339.2 L729 337.8 L729 336.2 L729.3 334.6 L729.7 332.8 L730.4 331.1 L731.3 329.4 L732.3 327.8 L733.5 326.3 L734.8 325 L736.1 324 L737.5 323.2 L738.8 322.7 L740.1 322.5 L741.3 322.6 L742.3 323 L748.7 326.7 L749.6 327.4 L750.3 328.4 L750.7 329.6 L751 331 L751 332.6 L750.7 334.2 L750.3 336 L749.6 337.7 L748.7 339.4 L747.7 341 L746.5 342.5 L745.2 343.8 L743.9 344.8 L742.5 345.6 L741.2 346.1 L739.9 346.3 L738.7 346.2 L737.7 345.8Z" stroke-width="1.2" stroke="#444" fill="#8a8a8a"/>
<path d="M730.8 341.8 L737.2 345.5" stroke-width="0.72" stroke="#c4c4c4"/>
<path d="M729.8 340.6 L736.2 344.3" stroke-width="0.72" stroke="#4a4a4a"/>
<path d="M729.2 338.9 L735.6 342.6" stroke-width="0.72" stroke="#c4c4c4"/>
<path d="M729 337 L735.4 340.7" stroke-width="0.72" stroke="#4a4a4a"/>
<path d="M729.3 334.7 L735.7 338.4" stroke-width="0.72" stroke="#c4c4c4"/>
<path d="M729.9 332.4 L736.3 336.1" stroke-width="0.72" stroke="#4a4a4a"/>
<path d="M730.9 330 L737.3 333.7" stroke-width="0.72" stroke="#c4c4c4"/>
<path d="M732.3 327.8 L738.7 331.5" stroke-width="0.72" stroke="#4a4a4a"/>
<path d="M733.9 325.9 L740.3 329.6" stroke-width="0.72" stroke="#c4c4c4"/>
<path d="M735.6 324.3 L742.1 328" stroke-width="0.72" stroke="#4a4a4a"/>
<path d="M737.5 323.2 L743.9 326.9" stroke-width="0.72" stroke="#c4c4c4"/>
<path d="M739.3 322.6 L745.7 326.3" stroke-width="0.72" stroke="#4a4a4a"/>
<path d="M740.9 322.6 L747.3 326.3" stroke-width="0.72" stroke="#c4c4c4"/>
<ellipse cx="743.2" cy="336.2" rx="6.3" ry="11" transform="rotate(30 743.2 336.2)" fill="#a0a0a0" stroke-width="1.08" stroke="#444"/>
<ellipse cx="743.2" cy="336.2" rx="5" ry="8.6" transform="rotate(30 743.2 336.2)" fill="#7c7c7c" stroke-width="0.72" stroke="#555"/>
<ellipse cx="743.2" cy="336.2" rx="3.6" ry="6.2" transform="rotate(30 743.2 336.2)" fill="#cfcfcf" stroke-width="0.72" stroke="#555"/>
<path d="M737.7 338.6 C737.7 338.3 737.6 338.4 737.6 337.9 C737.6 337.4 737.6 337.6 737.6 337.1 C737.6 336.6 737.6 336.8 737.7 336.3 C737.8 335.7 737.8 336 737.9 335.4 C738.1 334.8 738 335.1 738.3 334.5 C738.5 333.9 738.4 334.2 738.7 333.7 C739 333.1 738.9 333.4 739.2 332.9 C739.6 332.3 739.4 332.6 739.8 332.1 C740.2 331.7 740 331.9 740.5 331.5 C740.9 331.1 740.7 331.3 741.1 331 C741.6 330.7 741.4 330.8 741.8 330.6 C742.3 330.4 742 330.4 742.5 330.3 C742.9 330.2 742.7 330.2 743.1 330.2 C743.5 330.2 743.3 330.2 743.7 330.3 C744.1 330.4 743.9 330.3 744.2 330.5 C744.5 330.7 744.4 330.6 744.7 330.8 C744.9 331.1 744.8 331 745 331.3 C745.2 331.7 745.2 331.7 745.2 331.9" stroke-width="0.72" stroke="#555"/>
<path d="M784.4 319.5 L783.8 319.1 L783.4 318.5 L783.2 317.8 L783 317 L783 316.1 L783.2 315.1 L783.4 314.1 L783.8 313 L784.4 312 L785 311.1 L785.7 310.2 L786.4 309.5 L787.2 308.8 L788 308.4 L788.8 308.1 L789.5 308 L790.2 308 L790.9 308.3 L817.9 323.9 L818.4 324.3 L818.8 324.9 L819.1 325.6 L819.3 326.4 L819.3 327.4 L819.1 328.3 L818.8 329.4 L818.4 330.4 L817.9 331.4 L817.3 332.4 L816.6 333.2 L815.9 334 L815.1 334.6 L814.3 335 L813.5 335.3 L812.7 335.5 L812 335.4 L811.4 335.2Z" stroke-width="1.2" stroke="#4a4a4a" fill="#fff"/>
<path d="M811.4 335.2 C811.3 335 811.2 335.1 810.9 334.8 C810.6 334.4 810.7 334.6 810.5 334.2 C810.3 333.8 810.4 334 810.2 333.5 C810.1 333 810.1 333.2 810.1 332.6 C810.1 332.1 810.1 332.4 810.1 331.7 C810.1 331.1 810.1 331.4 810.2 330.7 C810.4 330 810.3 330.4 810.5 329.7 C810.7 329 810.6 329.3 810.9 328.7 C811.2 328 811.1 328.3 811.4 327.7 C811.8 327 811.6 327.3 812 326.7 C812.5 326.1 812.3 326.4 812.7 325.8 C813.2 325.3 813 325.5 813.5 325.1 C814 324.6 813.7 324.8 814.3 324.5 C814.8 324.1 814.5 324.3 815.1 324 C815.6 323.8 815.4 323.9 815.9 323.7 C816.4 323.6 816.1 323.6 816.6 323.6 C817.1 323.6 816.9 323.6 817.3 323.7 C817.7 323.8 817.7 323.8 817.9 323.9" stroke-width="1.2" stroke="#4a4a4a"/>
<ellipse cx="814.4" cy="330" rx="3.8" ry="6.5" transform="rotate(30 814.4 330)" fill="#ddd" stroke-width="1.08" stroke="#4a4a4a"/>
<ellipse cx="814.4" cy="330" rx="2.5" ry="4.3" transform="rotate(30 814.4 330)" fill="#f4f4f4" stroke-width="0.72" stroke="#666"/>
<ellipse cx="814.4" cy="330" rx="1.4" ry="2.3" transform="rotate(30 814.4 330)" fill="#fff" stroke-width="0.84" stroke="#444"/>
<path d="M754.4 350.5 L753.8 350.1 L753.4 349.5 L753.2 348.8 L753 348 L753 347.1 L753.2 346.1 L753.4 345.1 L753.8 344 L754.4 343 L755 342.1 L755.7 341.2 L756.4 340.5 L757.2 339.8 L758 339.4 L758.8 339.1 L759.5 339 L760.2 339 L760.9 339.3 L786.8 354.2 L787.3 354.7 L787.7 355.2 L788 355.9 L788.1 356.8 L788.1 357.7 L788 358.7 L787.7 359.7 L787.3 360.7 L786.8 361.7 L786.2 362.7 L785.5 363.6 L784.7 364.3 L783.9 364.9 L783.1 365.4 L782.3 365.7 L781.6 365.8 L780.9 365.7 L780.3 365.5Z" stroke-width="1.2" stroke="#4a4a4a" fill="#fff"/>
<path d="M780.3 365.5 C780.1 365.4 780.1 365.4 779.8 365.1 C779.5 364.8 779.6 364.9 779.4 364.5 C779.1 364.1 779.2 364.3 779.1 363.8 C779 363.3 779 363.6 779 363 C778.9 362.4 778.9 362.7 779 362.1 C779 361.4 779 361.7 779.1 361.1 C779.2 360.4 779.1 360.7 779.4 360 C779.6 359.3 779.5 359.7 779.8 359 C780.1 358.3 779.9 358.6 780.3 358 C780.7 357.3 780.5 357.7 780.9 357 C781.3 356.4 781.1 356.7 781.6 356.2 C782.1 355.6 781.8 355.9 782.3 355.4 C782.9 355 782.6 355.2 783.1 354.8 C783.7 354.5 783.4 354.6 783.9 354.4 C784.5 354.1 784.2 354.2 784.7 354.1 C785.2 353.9 785 354 785.5 353.9 C786 353.9 785.7 353.9 786.2 354 C786.6 354.1 786.6 354.2 786.8 354.2" stroke-width="1.2" stroke="#4a4a4a"/>
<ellipse cx="783.4" cy="360.1" rx="3.8" ry="6.5" transform="rotate(30 783.4 360.1)" fill="#ddd" stroke-width="1.08" stroke="#4a4a4a"/>
<ellipse cx="783.4" cy="360.1" rx="2.5" ry="4.3" transform="rotate(30 783.4 360.1)" fill="#f4f4f4" stroke-width="0.72" stroke="#666"/>
<ellipse cx="783.4" cy="360.1" rx="1.4" ry="2.3" transform="rotate(30 783.4 360.1)" fill="#fff" stroke-width="0.84" stroke="#444"/>
</g>
<!-- p20_left -->
<g fill="none" stroke="#505050" stroke-width="1.05" stroke-linecap="round" stroke-linejoin="round">
<ellipse cx="51.7" cy="307.2" rx="8.4" ry="14.6" transform="rotate(30 51.7 307.2)" stroke-width="1.2" stroke="#555"/>
<ellipse cx="53" cy="308" rx="8.5" ry="14.8" transform="rotate(30 53 308)" stroke-width="2.4" stroke="#484848"/>
<path d="M50.2 318.6 C49.8 318.7 49.7 318.8 48.8 318.8 C47.9 318.9 48.3 318.9 47.5 318.7 C46.7 318.5 47.1 318.7 46.4 318.3 C45.7 317.9 46 318.1 45.4 317.5 C44.8 316.9 45.1 317.2 44.7 316.4 C44.2 315.6 44.4 316.1 44.1 315.1 C43.9 314.1 44 314.6 43.9 313.5 C43.8 312.4 43.8 313 43.9 311.8 C44 310.6 43.9 311.2 44.2 309.9 C44.4 308.7 44.2 309.3 44.7 308 C45.1 306.7 44.8 307.3 45.4 306.1 C46 304.8 45.7 305.4 46.4 304.2 C47.1 303 46.7 303.5 47.5 302.4 C48.4 301.3 47.9 301.8 48.8 300.8 C49.7 299.8 49.3 300.2 50.3 299.4 C51.2 298.5 50.7 298.9 51.7 298.2 C52.7 297.5 52.2 297.8 53.2 297.3 C54.2 296.9 53.8 297 54.7 296.8 C55.7 296.5 55.7 296.6 56.1 296.6" stroke-width="0.96" stroke="#555"/>
<path d="M68.2 345.7 C67.5 345.1 67.4 345.3 66.2 344.1 C65 342.8 65.5 343.5 64.6 341.9 C63.8 340.2 64.1 341.1 63.6 339.1 C63.1 337.2 63.2 338.2 63.1 335.9 C62.9 333.7 62.9 334.8 63.1 332.4 C63.2 329.9 63.1 331.2 63.6 328.6 C64.1 326 63.8 327.3 64.7 324.6 C65.5 322 65 323.3 66.2 320.7 C67.4 318 66.7 319.3 68.2 316.8 C69.6 314.3 68.9 315.5 70.5 313.1 C72.2 310.8 71.3 311.9 73.2 309.8 C75.1 307.7 74.1 308.7 76.1 306.9 C78.1 305.2 77.1 305.9 79.1 304.6 C81.2 303.2 80.2 303.8 82.2 302.8 C84.3 301.8 83.3 302.2 85.2 301.6 C87.2 301.1 86.3 301.3 88.1 301.2 C90 301.1 89.1 301 90.8 301.4 C92.5 301.8 92.4 302 93.2 302.3" stroke-width="1.08" stroke="#444"/>
<ellipse cx="82.4" cy="325" rx="14.4" ry="25" transform="rotate(30 82.4 325)" fill="#fff" stroke-width="1.32" stroke="#444"/>
<ellipse cx="82.4" cy="325" rx="9.5" ry="16.5" transform="rotate(30 82.4 325)" stroke-width="1.2" stroke="#444"/>
<path d="M90.2 310.8 C90.6 311.2 90.7 311.1 91.2 312.2 C91.8 313.3 91.6 312.7 91.9 314 C92.3 315.3 92.2 314.6 92.3 316.1 C92.4 317.6 92.4 316.8 92.3 318.5 C92.2 320.1 92.3 319.3 91.9 321 C91.6 322.7 91.8 321.8 91.2 323.6 C90.7 325.3 91 324.5 90.2 326.2 C89.4 327.9 89.9 327.1 88.9 328.8 C88 330.4 88.5 329.6 87.4 331.2 C86.2 332.7 86.8 332 85.6 333.4 C84.4 334.7 85 334.1 83.7 335.3 C82.4 336.4 83 335.9 81.7 336.8 C80.3 337.7 81 337.4 79.6 338 C78.3 338.6 78.9 338.4 77.6 338.8 C76.3 339.1 77 339 75.7 339.1 C74.5 339.1 74.6 339 74 338.9" stroke-width="0.84" stroke="#666"/>
<ellipse cx="88.6" cy="336.8" rx="1.3" ry="2.2" transform="rotate(30 88.6 336.8)" fill="#8a8a8a" stroke-width="0.84" stroke="#444"/>
<ellipse cx="74" cy="343.8" rx="1.3" ry="2.2" transform="rotate(30 74 343.8)" fill="#8a8a8a" stroke-width="0.84" stroke="#444"/>
<ellipse cx="67.8" cy="332" rx="1.3" ry="2.2" transform="rotate(30 67.8 332)" fill="#8a8a8a" stroke-width="0.84" stroke="#444"/>
<ellipse cx="76.2" cy="313.2" rx="1.3" ry="2.2" transform="rotate(30 76.2 313.2)" fill="#8a8a8a" stroke-width="0.84" stroke="#444"/>
<ellipse cx="90.8" cy="306.2" rx="1.3" ry="2.2" transform="rotate(30 90.8 306.2)" fill="#8a8a8a" stroke-width="0.84" stroke="#444"/>
<ellipse cx="97" cy="318" rx="1.3" ry="2.2" transform="rotate(30 97 318)" fill="#8a8a8a" stroke-width="0.84" stroke="#444"/>
<path d="M104 361.4 L102.3 360.1 L101 358.2 L100.2 355.9 L99.7 353.2 L99.7 350.2 L100.2 347 L101 343.7 L102.3 340.4 L104 337.1 L106 334.1 L108.2 331.3 L110.7 328.9 L113.2 326.9 L115.8 325.4 L118.3 324.4 L120.8 324 L123 324.2 L125 325 L143.5 335.7 L145.2 337 L146.5 338.9 L147.4 341.2 L147.8 343.9 L147.8 346.9 L147.4 350.1 L146.5 353.4 L145.2 356.7 L143.5 360 L141.5 363 L139.3 365.8 L136.9 368.2 L134.3 370.2 L131.7 371.7 L129.2 372.7 L126.8 373.1 L124.5 372.9 L122.5 372.1Z" stroke-width="1.2" stroke="#444" fill="#e4e4e4"/>
<path d="M105.6 362.2 L103.9 360.2 L115.9 367.1 L117.6 369.1Z" stroke-width="0.84" stroke="#4d4d4d" fill="#fff"/>
<path d="M103.1 358.6 L102.4 355.5 L114.4 362.4 L115.2 365.5Z" stroke-width="0.84" stroke="#4d4d4d" fill="#fff"/>
<path d="M102.3 353.3 L102.6 349.5 L114.6 356.5 L114.3 360.3Z" stroke-width="0.84" stroke="#4d4d4d" fill="#fff"/>
<path d="M103.1 347.1 L104.4 343.1 L116.5 350 L115.1 354.1Z" stroke-width="0.84" stroke="#4d4d4d" fill="#fff"/>
<path d="M105.6 340.6 L107.8 336.8 L119.8 343.7 L117.6 347.5Z" stroke-width="0.84" stroke="#4d4d4d" fill="#fff"/>
<path d="M109.3 334.6 L112.2 331.4 L124.2 338.3 L121.4 341.5Z" stroke-width="0.84" stroke="#4d4d4d" fill="#fff"/>
<path d="M114 329.7 L117.1 327.5 L129.2 334.5 L126.1 336.7Z" stroke-width="0.84" stroke="#4d4d4d" fill="#fff"/>
<path d="M119.1 326.6 L122.1 325.7 L134.2 332.6 L131.1 333.5Z" stroke-width="0.84" stroke="#4d4d4d" fill="#fff"/>
<path d="M123.9 325.5 L126.5 326 L138.5 333 L135.9 332.5Z" stroke-width="0.84" stroke="#4d4d4d" fill="#fff"/>
<path d="M105.9 362.5 C105.4 362 105.2 362.2 104.2 361.2 C103.3 360.1 103.7 360.7 102.9 359.3 C102.2 357.9 102.5 358.7 102.1 357 C101.6 355.4 101.8 356.2 101.6 354.3 C101.5 352.4 101.5 353.4 101.6 351.3 C101.8 349.3 101.6 350.3 102.1 348.1 C102.5 346 102.2 347 103 344.8 C103.7 342.6 103.3 343.7 104.2 341.5 C105.2 339.3 104.7 340.3 105.9 338.2 C107.1 336.1 106.5 337.1 107.9 335.2 C109.3 333.2 108.6 334.1 110.1 332.4 C111.7 330.6 110.9 331.4 112.6 330 C114.2 328.5 113.4 329.1 115.1 328 C116.8 326.8 116 327.3 117.7 326.5 C119.4 325.7 118.6 326 120.3 325.5 C121.9 325.1 121.1 325.2 122.7 325.1 C124.2 325.1 123.5 325 124.9 325.3 C126.3 325.7 126.2 325.9 126.9 326.1" stroke-width="0.72" stroke="#555"/>
<path d="M119.6 370.4 C119 369.9 118.9 370.1 117.9 369.1 C116.9 368 117.4 368.6 116.6 367.2 C115.9 365.8 116.2 366.6 115.7 364.9 C115.3 363.3 115.4 364.1 115.3 362.2 C115.2 360.3 115.2 361.3 115.3 359.2 C115.5 357.2 115.3 358.2 115.8 356 C116.2 353.9 115.9 354.9 116.6 352.7 C117.4 350.5 116.9 351.6 117.9 349.4 C118.9 347.2 118.4 348.2 119.6 346.1 C120.8 344 120.2 345 121.6 343.1 C123 341.1 122.3 342 123.8 340.3 C125.4 338.5 124.6 339.3 126.3 337.9 C127.9 336.4 127.1 337 128.8 335.9 C130.5 334.7 129.7 335.2 131.4 334.4 C133.1 333.6 132.3 333.9 133.9 333.4 C135.6 333 134.8 333.1 136.4 333 C137.9 333 137.2 332.9 138.6 333.2 C140 333.6 139.9 333.8 140.6 334" stroke-width="0.72" stroke="#555"/>
<ellipse cx="133" cy="353.9" rx="12.1" ry="21" transform="rotate(30 133 353.9)" fill="#fff" stroke-width="1.32" stroke="#444"/>
<ellipse cx="133" cy="353.9" rx="11.2" ry="19.4" transform="rotate(30 133 353.9)" stroke-width="0.72" stroke="#666"/>
<ellipse cx="133" cy="353.9" rx="9.6" ry="16.6" transform="rotate(30 133 353.9)" fill="#dedede" stroke-width="1.08" stroke="#444"/>
<path d="M128.9 334 L129.6 336.4 L142 343.6 L141.4 341.2Z" stroke-width="0.72" stroke="#555" fill="#fff"/>
<path d="M129.7 338.2 L129.5 341.1 L142 348.3 L142.2 345.4Z" stroke-width="0.72" stroke="#555" fill="#fff"/>
<path d="M129.1 343.2 L128 346.4 L140.5 353.6 L141.5 350.4Z" stroke-width="0.72" stroke="#555" fill="#fff"/>
<path d="M127.1 348.5 L125.3 351.5 L137.8 358.7 L139.6 355.7Z" stroke-width="0.72" stroke="#555" fill="#fff"/>
<path d="M124 353.3 L121.8 355.8 L134.3 363 L136.5 360.5Z" stroke-width="0.72" stroke="#555" fill="#fff"/>
<path d="M120.2 357.2 L117.8 358.9 L130.2 366.1 L132.7 364.4Z" stroke-width="0.72" stroke="#555" fill="#fff"/>
<path d="M116.1 359.6 L113.8 360.3 L126.2 367.5 L128.6 366.8Z" stroke-width="0.72" stroke="#555" fill="#fff"/>
<path d="M125.2 330.3 C125.6 330.7 125.7 330.6 126.4 331.6 C127.1 332.5 126.8 332 127.3 333.2 C127.7 334.4 127.6 333.8 127.8 335.2 C128 336.6 128 335.9 128 337.4 C128 339 128 338.2 127.8 339.9 C127.6 341.6 127.7 340.7 127.3 342.5 C126.8 344.2 127.1 343.4 126.4 345.1 C125.7 346.9 126.1 346 125.2 347.7 C124.3 349.4 124.8 348.6 123.8 350.2 C122.7 351.8 123.3 351.1 122.1 352.5 C120.9 354 121.5 353.3 120.2 354.6 C119 355.9 119.6 355.3 118.3 356.4 C116.9 357.4 117.6 357 116.2 357.8 C114.9 358.5 115.5 358.2 114.2 358.7 C112.9 359.2 113.5 359.1 112.2 359.3 C110.9 359.5 111.5 359.4 110.4 359.3 C109.2 359.2 109.2 359.1 108.7 358.9" stroke-width="0.84" stroke="#555"/>
<path d="M156.8 444.9 L154.9 447.9 L154.1 447.7 L155.1 444.5 L154.4 444.2 L152.4 447.1 L151.6 446.7 L152.8 443.6 L152.1 443.2 L150 446 L149.3 445.6 L150.6 442.4 L149.9 442 L147.8 444.7 L147.1 444.2 L148.5 441 L147.9 440.5 L145.7 443.1 L145 442.5 L146.6 439.4 L146 438.9 L143.7 441.3 L143.2 440.7 L144.8 437.6 L144.3 437 L142 439.3 L141.4 438.6 L143.2 435.6 L142.7 434.9 L140.4 437 L139.9 436.2 L141.8 433.3 L141.3 432.6 L138.9 434.5 L138.5 433.7 L140.5 430.9 L140.1 430 L137.7 431.9 L137.3 431 L139.4 428.2 L139.1 427.4 L136.6 429 L136.3 428.1 L138.5 425.4 L138.2 424.5 L135.7 426 L135.5 425 L137.7 422.4 L137.5 421.5 L135.1 422.8 L134.9 421.7 L137.2 419.3 L137 418.3 L134.6 419.4 L134.5 418.3 L136.8 416 L136.7 415 L134.3 415.9 L134.3 414.7 L136.7 412.6 L136.6 411.5 L134.2 412.3 L134.3 411.1 L136.7 409.1 L136.7 408 L134.4 408.5 L134.4 407.3 L136.9 405.5 L137 404.3 L134.7 404.7 L134.8 403.4 L137.3 401.8 L137.5 400.6 L135.2 400.7 L135.4 399.5 L137.9 398 L138.1 396.8 L135.9 396.7 L136.2 395.4 L138.6 394.2 L138.9 392.9 L136.8 392.7 L137.2 391.4 L139.6 390.3 L139.9 389 L137.9 388.6 L138.3 387.3 L140.7 386.4 L141.1 385.1 L139.2 384.5 L139.7 383.2 L142 382.5 L142.5 381.2 L140.7 380.4 L141.2 379 L143.5 378.5 L144 377.3 L142.3 376.3 L142.9 374.9 L145.2 374.6 L145.7 373.4 L144.1 372.2 L144.7 370.9 L147 370.8 L147.6 369.5 L146.1 368.1 L146.8 366.9 L148.9 367 L149.6 365.8 L148.2 364.2 L148.9 362.9 L151 363.2 L151.7 362 L150.5 360.3 L151.2 359 L153.2 359.5 L154 358.4 L152.9 356.5 L153.7 355.3 L155.6 356 L156.4 354.8 L155.4 352.8 L156.3 351.6 L158.1 352.5 L158.9 351.4 L158.1 349.2 L158.9 348.1 L160.6 349.1 L161.5 348.1 L160.8 345.7 L161.7 344.7 L163.3 345.9 L164.2 344.9 L163.7 342.4 L164.6 341.4 L166.1 342.9 L167 341.9 L166.6 339.3 L167.6 338.3 L168.9 339.9 L169.8 339.1 L169.6 336.3 L170.6 335.4 L171.8 337.2 L172.7 336.4 L172.7 333.6 L173.7 332.7 L174.7 334.7 L175.7 333.9 L175.8 331 L176.8 330.2 L177.7 332.3 L178.7 331.6 L178.9 328.6 L180 327.9 L180.7 330.1 L181.7 329.5 L182.1 326.4 L183.1 325.8 L183.8 328.2 L184.8 327.6 L185.3 324.5 L186.3 323.9 L186.8 326.5 L187.8 325.9 L188.5 322.8 L189.5 322.3 L189.8 324.9 L190.8 324.5 L191.7 321.3 L192.7 320.9 L192.9 323.7 L193.8 323.3 L194.8 320.1 L195.8 319.8 L195.8 322.6 L196.8 322.3 L197.9 319.2 L198.9 318.9 L198.8 321.8 L199.7 321.6 L201 318.4 L201.9 318.3 L201.7 321.3 L202.6 321.1 L204 318 L204.9 317.9 L204.5 320.9 L205.4 320.9 L206.9 317.8 L207.8 317.8 L207.2 320.9 L208.1 320.9 L209.7 317.8 L210.6 317.9 L209.9 321 L210.7 321.2 L212.5 318.1 L213.3 318.3 L212.4 321.5 L213.2 321.7 L215.1 318.7 L215.9 318.9 L214.9 322.1 L215.6 322.4 L217.6 319.5 L218.4 319.9 L217.2 323 L217.9 323.4 L220 320.6 L220.7 321 L219.4 324.2 L220.1 324.6 L222.2 321.9 L222.9 322.4 L221.5 325.6 L222.1 326.1 L224.3 323.5 L224.9 324.1 L223.4 327.2 L224 327.7 L226.2 325.3 L228.2 330.4 L229.9 327.3 L229.3 326.7 L227 329.2 L226.4 328.7 L227.9 325.5 L227.3 325 L225.1 327.6 L224.4 327.2 L225.8 324 L225.1 323.6 L223 326.3 L222.3 325.9 L223.6 322.7 L222.8 322.3 L220.8 325.1 L220.1 324.8 L221.2 321.6 L220.4 321.4 L218.4 324.3 L217.7 324 L218.6 320.8 L217.8 320.6 L216 323.6 L215.2 323.5 L216 320.3 L215.1 320.2 L213.4 323.2 L212.6 323.1 L213.3 320 L212.4 320 L210.8 323.1 L209.9 323.1 L210.4 320 L209.5 320 L208 323.2 L207.1 323.2 L207.5 320.2 L206.5 320.3 L205.2 323.5 L204.3 323.7 L204.5 320.7 L203.5 320.9 L202.3 324.1 L201.4 324.3 L201.4 321.4 L200.4 321.7 L199.4 324.9 L198.4 325.2 L198.3 322.4 L197.3 322.8 L196.4 326 L195.4 326.4 L195.2 323.7 L194.2 324.1 L193.4 327.3 L192.4 327.7 L192 325.2 L191 325.7 L190.3 328.8 L189.4 329.3 L188.8 326.9 L187.8 327.5 L187.3 330.6 L186.3 331.2 L185.6 328.8 L184.6 329.5 L184.3 332.5 L183.3 333.2 L182.5 331 L181.4 331.8 L181.3 334.7 L180.3 335.5 L179.3 333.4 L178.3 334.2 L178.3 337.1 L177.3 337.9 L176.2 336 L175.2 336.9 L175.3 339.7 L174.4 340.5 L173.1 338.8 L172.2 339.7 L172.4 342.4 L171.5 343.3 L170.1 341.8 L169.2 342.8 L169.6 345.3 L168.7 346.3 L167.2 344.9 L166.3 346 L166.9 348.4 L166 349.4 L164.4 348.3 L163.5 349.4 L164.2 351.7 L163.4 352.7 L161.6 351.7 L160.8 352.9 L161.6 355 L160.8 356.1 L159 355.3 L158.2 356.5 L159.2 358.5 L158.4 359.6 L156.5 359 L155.7 360.2 L156.8 362.1 L156.1 363.3 L154.1 362.8 L153.3 364.1 L154.6 365.8 L153.9 367 L151.8 366.7 L151.1 368 L152.5 369.5 L151.9 370.7 L149.7 370.7 L149.1 372 L150.6 373.3 L150 374.6 L147.7 374.8 L147.2 376.1 L148.8 377.2 L148.3 378.5 L146 378.8 L145.4 380.2 L147.2 381.1 L146.7 382.4 L144.3 383 L143.8 384.3 L145.7 385 L145.3 386.3 L142.9 387.1 L142.5 388.4 L144.4 389 L144.1 390.2 L141.6 391.2 L141.2 392.5 L143.3 392.9 L143 394.1 L140.5 395.3 L140.2 396.6 L142.4 396.7 L142.1 398 L139.6 399.3 L139.4 400.6 L141.6 400.6 L141.4 401.8 L138.9 403.3 L138.8 404.6 L141 404.4 L140.9 405.5 L138.4 407.2 L138.3 408.5 L140.7 408.1 L140.6 409.2 L138.1 411.1 L138.1 412.3 L140.5 411.7 L140.5 412.8 L138 414.8 L138.1 416 L140.5 415.2 L140.5 416.3 L138.1 418.4 L138.2 419.6 L140.7 418.6 L140.8 419.6 L138.4 421.9 L138.6 423 L141 421.8 L141.2 422.8 L138.9 425.3 L139.1 426.3 L141.6 424.9 L141.8 425.9 L139.6 428.5 L139.9 429.5 L142.4 427.9 L142.6 428.8 L140.5 431.5 L140.8 432.4 L143.3 430.7 L143.6 431.6 L141.6 434.3 L142 435.2 L144.4 433.3 L144.8 434.1 L142.9 437 L143.3 437.8 L145.7 435.7 L146.2 436.5 L144.3 439.4 L144.8 440.2 L147.2 438 L147.7 438.6 L145.9 441.7 L146.5 442.3 L148.8 440 L149.4 440.6 L147.7 443.7 L148.3 444.3 L150.6 441.8 L151.2 442.3 L149.7 445.5 L150.3 446 L152.5 443.4 L153.2 443.8 L151.8 447 L152.5 447.4 L154.6 444.7 L155.3 445.1 L154 448.3 L154.8 448.7 L156.8 445.9 L157.5 446.2 L156.4 449.4 L157.2 449.6 L159.2 446.7 L159.9 447 L159 450.2Z" stroke-width="0.6" stroke="#555" fill="#8d8d8d"/>
<path d="M154.6 448.6 L150.8 446.4" stroke-width="1.2" stroke="#404040"/>
<path d="M154.4 446.8 L150.6 444.6" stroke-width="1.08" stroke="#e4e4e4"/>
<path d="M152.3 447.3 L148.5 445.1" stroke-width="1.2" stroke="#404040"/>
<path d="M152.2 445.5 L148.4 443.3" stroke-width="1.08" stroke="#e4e4e4"/>
<path d="M150.2 445.9 L146.4 443.7" stroke-width="1.2" stroke="#404040"/>
<path d="M150.2 443.9 L146.4 441.7" stroke-width="1.08" stroke="#e4e4e4"/>
<path d="M148.2 444.1 L144.4 441.9" stroke-width="1.2" stroke="#404040"/>
<path d="M148.3 442.1 L144.5 439.9" stroke-width="1.08" stroke="#e4e4e4"/>
<path d="M146.4 442.2 L142.6 440" stroke-width="1.2" stroke="#404040"/>
<path d="M146.6 440.1 L142.7 437.9" stroke-width="1.08" stroke="#e4e4e4"/>
<path d="M144.7 440 L140.9 437.8" stroke-width="1.2" stroke="#404040"/>
<path d="M145 437.9 L141.2 435.7" stroke-width="1.08" stroke="#e4e4e4"/>
<path d="M143.2 437.6 L139.4 435.4" stroke-width="1.2" stroke="#404040"/>
<path d="M143.6 435.5 L139.8 433.3" stroke-width="1.08" stroke="#e4e4e4"/>
<path d="M141.9 435 L138.1 432.8" stroke-width="1.2" stroke="#404040"/>
<path d="M142.4 432.9 L138.6 430.7" stroke-width="1.08" stroke="#e4e4e4"/>
<path d="M140.8 432.2 L137 430" stroke-width="1.2" stroke="#404040"/>
<path d="M141.4 430.1 L137.6 427.9" stroke-width="1.08" stroke="#e4e4e4"/>
<path d="M139.8 429.2 L136 427" stroke-width="1.2" stroke="#404040"/>
<path d="M140.5 427.1 L136.7 424.9" stroke-width="1.08" stroke="#e4e4e4"/>
<path d="M139.1 426.1 L135.3 423.9" stroke-width="1.2" stroke="#404040"/>
<path d="M139.9 423.9 L136.1 421.7" stroke-width="1.08" stroke="#e4e4e4"/>
<path d="M138.5 422.8 L134.7 420.6" stroke-width="1.2" stroke="#404040"/>
<path d="M139.4 420.6 L135.6 418.4" stroke-width="1.08" stroke="#e4e4e4"/>
<path d="M138.2 419.3 L134.4 417.1" stroke-width="1.2" stroke="#404040"/>
<path d="M139.2 417.2 L135.4 415" stroke-width="1.08" stroke="#e4e4e4"/>
<path d="M138.1 415.7 L134.2 413.5" stroke-width="1.2" stroke="#404040"/>
<path d="M139.1 413.6 L135.3 411.4" stroke-width="1.08" stroke="#e4e4e4"/>
<path d="M138.1 412 L134.3 409.8" stroke-width="1.2" stroke="#404040"/>
<path d="M139.2 409.9 L135.4 407.7" stroke-width="1.08" stroke="#e4e4e4"/>
<path d="M138.4 408.2 L134.5 406" stroke-width="1.2" stroke="#404040"/>
<path d="M139.6 406.2 L135.8 404" stroke-width="1.08" stroke="#e4e4e4"/>
<path d="M138.8 404.3 L135 402.1" stroke-width="1.2" stroke="#404040"/>
<path d="M140.1 402.3 L136.3 400.1" stroke-width="1.08" stroke="#e4e4e4"/>
<path d="M139.5 400.3 L135.6 398.1" stroke-width="1.2" stroke="#404040"/>
<path d="M140.8 398.4 L137 396.2" stroke-width="1.08" stroke="#e4e4e4"/>
<path d="M140.3 396.3 L136.5 394.1" stroke-width="1.2" stroke="#404040"/>
<path d="M141.7 394.4 L137.9 392.2" stroke-width="1.08" stroke="#e4e4e4"/>
<path d="M141.3 392.2 L137.5 390" stroke-width="1.2" stroke="#404040"/>
<path d="M142.8 390.4 L139 388.2" stroke-width="1.08" stroke="#e4e4e4"/>
<path d="M142.5 388.1 L138.7 385.9" stroke-width="1.2" stroke="#404040"/>
<path d="M144.1 386.4 L140.3 384.2" stroke-width="1.08" stroke="#e4e4e4"/>
<path d="M144 384 L140.1 381.8" stroke-width="1.2" stroke="#404040"/>
<path d="M145.5 382.3 L141.7 380.1" stroke-width="1.08" stroke="#e4e4e4"/>
<path d="M145.5 379.9 L141.7 377.7" stroke-width="1.2" stroke="#404040"/>
<path d="M147.1 378.3 L143.3 376.1" stroke-width="1.08" stroke="#e4e4e4"/>
<path d="M147.3 375.8 L143.5 373.6" stroke-width="1.2" stroke="#404040"/>
<path d="M148.9 374.3 L145.1 372.1" stroke-width="1.08" stroke="#e4e4e4"/>
<path d="M149.2 371.7 L145.4 369.5" stroke-width="1.2" stroke="#404040"/>
<path d="M150.9 370.4 L147 368.2" stroke-width="1.08" stroke="#e4e4e4"/>
<path d="M151.3 367.7 L147.5 365.5" stroke-width="1.2" stroke="#404040"/>
<path d="M152.9 366.5 L149.1 364.3" stroke-width="1.08" stroke="#e4e4e4"/>
<path d="M153.5 363.8 L149.7 361.6" stroke-width="1.2" stroke="#404040"/>
<path d="M155.2 362.7 L151.4 360.5" stroke-width="1.08" stroke="#e4e4e4"/>
<path d="M155.8 360 L152 357.8" stroke-width="1.2" stroke="#404040"/>
<path d="M157.5 359 L153.7 356.8" stroke-width="1.08" stroke="#e4e4e4"/>
<path d="M158.3 356.2 L154.5 354" stroke-width="1.2" stroke="#404040"/>
<path d="M160 355.3 L156.2 353.1" stroke-width="1.08" stroke="#e4e4e4"/>
<path d="M160.9 352.6 L157.1 350.4" stroke-width="1.2" stroke="#404040"/>
<path d="M162.6 351.9 L158.8 349.7" stroke-width="1.08" stroke="#e4e4e4"/>
<path d="M163.7 349.1 L159.9 346.9" stroke-width="1.2" stroke="#404040"/>
<path d="M165.3 348.5 L161.5 346.3" stroke-width="1.08" stroke="#e4e4e4"/>
<path d="M166.5 345.8 L162.7 343.6" stroke-width="1.2" stroke="#404040"/>
<path d="M168.1 345.3 L164.3 343.1" stroke-width="1.08" stroke="#e4e4e4"/>
<path d="M169.4 342.6 L165.6 340.4" stroke-width="1.2" stroke="#404040"/>
<path d="M171 342.2 L167.2 340" stroke-width="1.08" stroke="#e4e4e4"/>
<path d="M172.4 339.5 L168.6 337.3" stroke-width="1.2" stroke="#404040"/>
<path d="M174 339.3 L170.1 337.1" stroke-width="1.08" stroke="#e4e4e4"/>
<path d="M175.4 336.7 L171.6 334.5" stroke-width="1.2" stroke="#404040"/>
<path d="M177 336.6 L173.2 334.4" stroke-width="1.08" stroke="#e4e4e4"/>
<path d="M178.5 334 L174.7 331.8" stroke-width="1.2" stroke="#404040"/>
<path d="M180 334.1 L176.2 331.9" stroke-width="1.08" stroke="#e4e4e4"/>
<path d="M181.7 331.6 L177.9 329.4" stroke-width="1.2" stroke="#404040"/>
<path d="M183.1 331.8 L179.3 329.6" stroke-width="1.08" stroke="#e4e4e4"/>
<path d="M184.8 329.4 L181 327.2" stroke-width="1.2" stroke="#404040"/>
<path d="M186.2 329.7 L182.4 327.5" stroke-width="1.08" stroke="#e4e4e4"/>
<path d="M188 327.4 L184.2 325.2" stroke-width="1.2" stroke="#404040"/>
<path d="M189.3 327.8 L185.5 325.6" stroke-width="1.08" stroke="#e4e4e4"/>
<path d="M191.2 325.6 L187.4 323.4" stroke-width="1.2" stroke="#404040"/>
<path d="M192.5 326.2 L188.6 324" stroke-width="1.08" stroke="#e4e4e4"/>
<path d="M194.4 324 L190.6 321.8" stroke-width="1.2" stroke="#404040"/>
<path d="M195.6 324.7 L191.7 322.5" stroke-width="1.08" stroke="#e4e4e4"/>
<path d="M197.5 322.7 L193.7 320.5" stroke-width="1.2" stroke="#404040"/>
<path d="M198.6 323.6 L194.8 321.4" stroke-width="1.08" stroke="#e4e4e4"/>
<path d="M200.7 321.7 L196.9 319.5" stroke-width="1.2" stroke="#404040"/>
<path d="M201.7 322.6 L197.9 320.4" stroke-width="1.08" stroke="#e4e4e4"/>
<path d="M203.7 320.9 L199.9 318.7" stroke-width="1.2" stroke="#404040"/>
<path d="M204.7 321.9 L200.9 319.7" stroke-width="1.08" stroke="#e4e4e4"/>
<path d="M206.8 320.3 L202.9 318.1" stroke-width="1.2" stroke="#404040"/>
<path d="M207.6 321.5 L203.8 319.3" stroke-width="1.08" stroke="#e4e4e4"/>
<path d="M209.7 320 L205.9 317.8" stroke-width="1.2" stroke="#404040"/>
<path d="M210.4 321.3 L206.6 319.1" stroke-width="1.08" stroke="#e4e4e4"/>
<path d="M212.6 320 L208.8 317.8" stroke-width="1.2" stroke="#404040"/>
<path d="M213.2 321.4 L209.4 319.2" stroke-width="1.08" stroke="#e4e4e4"/>
<path d="M215.3 320.2 L211.5 318" stroke-width="1.2" stroke="#404040"/>
<path d="M215.9 321.7 L212.1 319.5" stroke-width="1.08" stroke="#e4e4e4"/>
<path d="M218 320.7 L214.2 318.5" stroke-width="1.2" stroke="#404040"/>
<path d="M218.4 322.3 L214.6 320.1" stroke-width="1.08" stroke="#e4e4e4"/>
<path d="M220.5 321.4 L216.7 319.2" stroke-width="1.2" stroke="#404040"/>
<path d="M220.9 323.1 L217.1 320.9" stroke-width="1.08" stroke="#e4e4e4"/>
<path d="M223 322.4 L219.2 320.2" stroke-width="1.2" stroke="#404040"/>
<path d="M223.2 324.2 L219.4 322" stroke-width="1.08" stroke="#e4e4e4"/>
<path d="M225.3 323.7 L221.4 321.5" stroke-width="1.2" stroke="#404040"/>
<path d="M225.4 325.5 L221.6 323.3" stroke-width="1.08" stroke="#e4e4e4"/>
<path d="M227.4 325.1 L223.6 322.9" stroke-width="1.2" stroke="#404040"/>
<path d="M227.4 327.1 L223.6 324.9" stroke-width="1.08" stroke="#e4e4e4"/>
<path d="M223 405.2 L224.3 406.9 L223.5 408.2 L221.5 407.7 L220.8 408.9 L221.9 410.8 L221.1 412 L219.2 411.4 L218.4 412.5 L219.4 414.5 L218.6 415.7 L216.8 414.9 L216 416 L216.8 418.1 L216 419.3 L214.2 418.3 L213.4 419.3 L214.1 421.6 L213.2 422.7 L211.6 421.6 L210.7 422.6 L211.3 425 L210.4 426.1 L208.9 424.7 L208 425.7 L208.4 428.2 L207.5 429.2 L206.1 427.7 L205.2 428.6 L205.4 431.3 L204.5 432.2 L203.2 430.5 L202.3 431.3 L202.4 434.1 L201.4 435 L200.3 433.1 L199.3 433.9 L199.3 436.8 L198.3 437.6 L197.3 435.5 L196.3 436.3 L196.2 439.2 L195.1 440 L194.3 437.8 L193.3 438.5 L193 441.5 L192 442.2 L191.3 439.8 L190.3 440.4 L189.8 443.5 L188.8 444.1 L188.2 441.7 L187.3 442.2 L186.6 445.3 L185.6 445.8 L185.2 443.3 L184.2 443.7 L183.4 446.9 L182.4 447.3 L182.2 444.6 L181.2 445 L180.3 448.2 L179.3 448.6 L179.2 445.8 L178.2 446.1 L177.2 449.3 L176.2 449.6 L176.2 446.7 L175.3 446.9 L174.1 450.1 L173.1 450.3 L173.3 447.3 L172.4 447.5 L171.1 450.7 L170.1 450.8 L170.5 447.8 L169.6 447.8 L168.1 451 L167.2 451 L167.7 447.9 L166.8 447.9 L165.2 451 L164.3 451 L165 447.9 L164.2 447.8 L162.5 450.8 L161.6 450.7 L162.4 447.5 L161.6 447.4 L159.8 450.4 L159 450.2 L159.9 447 L159.2 446.7 L157.2 449.6 L156.4 449.4 L157.5 446.2 L156.8 445.9 L154.8 448.7 L154 448.3 L155.3 445.1 L154.6 444.7 L152.5 447.4 L151.8 447 L153.2 443.8 L152.5 443.4 L150.3 446 L149.7 445.5 L151.2 442.3 L150.6 441.8 L148.3 444.3 L147.7 443.7 L149.4 440.6 L148.8 440 L146.5 442.3 L145.9 441.7 L147.7 438.6 L147.2 438 L144.8 440.2 L144.3 439.4 L146.2 436.5 L145.7 435.7 L143.3 437.8 L142.9 437 L144.8 434.1 L144.4 433.3 L142 435.2 L141.6 434.3 L143.6 431.6 L143.3 430.7 L140.8 432.4 L140.5 431.5 L142.6 428.8 L142.4 427.9 L139.9 429.5 L139.6 428.5 L141.8 425.9 L141.6 424.9 L139.1 426.3 L138.9 425.3 L141.2 422.8 L141 421.8 L138.6 423 L138.4 421.9 L140.8 419.6 L140.7 418.6 L138.2 419.6 L138.1 418.4 L140.5 416.3 L140.5 415.2 L138.1 416 L138 414.8 L140.5 412.8 L140.5 411.7 L138.1 412.3 L138.1 411.1 L140.6 409.2 L140.7 408.1 L138.3 408.5 L138.4 407.2 L140.9 405.5 L141 404.4 L138.8 404.6 L138.9 403.3 L141.4 401.8 L141.6 400.6 L139.4 400.6 L139.6 399.3 L142.1 398 L142.4 396.7 L140.2 396.6 L140.5 395.3 L143 394.1 L143.3 392.9 L141.2 392.5 L141.6 391.2 L144.1 390.2 L144.4 389 L142.5 388.4 L142.9 387.1 L145.3 386.3 L145.7 385 L143.8 384.3 L144.3 383 L146.7 382.4 L147.2 381.1 L145.4 380.2 L146 378.8 L148.3 378.5 L148.8 377.2 L147.2 376.1 L147.7 374.8 L150 374.6 L150.6 373.3 L149.1 372 L149.7 370.7 L151.9 370.7 L152.5 369.5 L151.1 368 L151.8 366.7 L153.9 367 L154.6 365.8 L153.3 364.1 L154.1 362.8 L156.1 363.3 L156.8 362.1 L155.7 360.2 L156.5 359 L158.4 359.6 L159.2 358.5 L158.2 356.5 L159 355.3 L160.8 356.1 L161.6 355 L160.8 352.9 L161.6 351.7 L163.4 352.7 L164.2 351.7 L163.5 349.4 L164.4 348.3 L166 349.4 L166.9 348.4 L166.3 346 L167.2 344.9 L168.7 346.3 L169.6 345.3 L169.2 342.8 L170.1 341.8 L171.5 343.3 L172.4 342.4 L172.2 339.7 L173.1 338.8 L174.4 340.5 L175.3 339.7 L175.2 336.9 L176.2 336 L177.3 337.9 L178.3 337.1 L178.3 334.2 L179.3 333.4 L180.3 335.5 L181.3 334.7 L181.4 331.8 L182.5 331 L183.3 333.2 L184.3 332.5 L184.6 329.5 L185.6 328.8 L186.3 331.2 L187.3 330.6 L187.8 327.5 L188.8 326.9 L189.4 329.3 L190.3 328.8 L191 325.7 L192 325.2 L192.4 327.7 L193.4 327.3 L194.2 324.1 L195.2 323.7 L195.4 326.4 L196.4 326 L197.3 322.8 L198.3 322.4 L198.4 325.2 L199.4 324.9 L200.4 321.7 L201.4 321.4 L201.4 324.3 L202.3 324.1 L203.5 320.9 L204.5 320.7 L204.3 323.7 L205.2 323.5 L206.5 320.3 L207.5 320.2 L207.1 323.2 L208 323.2 L209.5 320 L210.4 320 L209.9 323.1 L210.8 323.1 L212.4 320 L213.3 320 L212.6 323.1 L213.4 323.2 L215.1 320.2 L216 320.3 L215.2 323.5 L216 323.6 L217.8 320.6 L218.6 320.8 L217.7 324 L218.4 324.3 L220.4 321.4 L221.2 321.6 L220.1 324.8 L220.8 325.1 L222.8 322.3 L223.6 322.7 L222.3 325.9 L223 326.3 L225.1 323.6 L225.8 324 L224.4 327.2 L225.1 327.6 L227.3 325 L227.9 325.5 L226.4 328.7 L227 329.2 L229.3 326.7 L229.9 327.3 L228.2 330.4 L228.8 331 L231.1 328.7 L231.7 329.3 L229.9 332.4 L230.4 333 L232.8 330.8 L233.3 331.6 L231.4 334.5 L231.9 335.3 L234.3 333.2 L234.7 334 L232.8 336.9 L233.2 337.7 L235.6 335.8 L236 336.7 L234 339.4 L234.3 340.3 L236.8 338.6 L237.1 339.5 L235 342.2 L235.2 343.1 L237.7 341.5 L238 342.5 L235.8 345.1 L236 346.1 L238.5 344.7 L238.7 345.7 L236.4 348.2 L236.6 349.2 L239 348 L239.2 349.1 L236.8 351.4 L236.9 352.4 L239.4 351.4 L239.5 352.6 L237.1 354.7 L237.1 355.8 L239.5 355 L239.6 356.2 L237.1 358.2 L237.1 359.3 L239.5 358.7 L239.5 359.9 L237 361.8 L236.9 362.9 L239.3 362.5 L239.2 363.8 L236.7 365.5 L236.6 366.6 L238.8 366.4 L238.7 367.7 L236.2 369.2 L236 370.4 L238.2 370.4 L238 371.7 L235.5 373 L235.2 374.3 L237.4 374.4 L237.1 375.7 L234.6 376.9 L234.3 378.1 L236.4 378.5 L236 379.8 L233.5 380.8 L233.2 382 L235.1 382.6 L234.7 383.9 L232.3 384.7 L231.9 386 L233.8 386.7 L233.3 388 L230.9 388.6 L230.4 389.9 L232.2 390.8 L231.6 392.2 L229.3 392.5 L228.8 393.8 L230.4 394.9 L229.9 396.2 L227.6 396.4 L227 397.7 L228.5 399 L227.9 400.3 L225.7 400.3 L225.1 401.5 L226.5 403 L225.8 404.3 L223.7 404Z" stroke-width="1.2" stroke="#3f3f3f" fill="#fff"/>
<ellipse cx="190.5" cy="387.5" rx="13.8" ry="24" transform="rotate(30 190.5 387.5)" stroke-width="1.2" stroke="#4a4a4a"/>
<path d="M199.4 365 C200.1 365.5 200.2 365.3 201.3 366.7 C202.4 368 202 367.3 202.7 369 C203.5 370.7 203.2 369.8 203.6 371.9 C204.1 373.9 203.9 372.8 204 375.2 C204.1 377.5 204.1 376.3 203.8 378.8 C203.5 381.3 203.7 380.1 203.1 382.7 C202.4 385.3 202.8 384 201.8 386.6 C200.8 389.2 201.4 388 200.1 390.5 C198.8 393.1 199.5 391.9 197.9 394.3 C196.3 396.7 197.1 395.6 195.4 397.7 C193.6 399.9 194.5 398.9 192.6 400.8 C190.7 402.7 191.6 401.9 189.6 403.4 C187.6 404.9 188.6 404.2 186.6 405.4 C184.5 406.5 185.5 406 183.5 406.7 C181.5 407.4 182.5 407.2 180.6 407.3 C178.7 407.5 179.6 407.6 177.9 407.3 C176.2 407 176.3 406.8 175.5 406.5" stroke-width="0.84" stroke="#666"/>
<ellipse cx="206.4" cy="414" rx="5.3" ry="9.2" transform="rotate(30 206.4 414)" stroke-width="1.14" stroke="#4a4a4a"/>
<path d="M209.8 405.5 C210.1 406.1 210.4 405.9 210.8 407.4 C211.1 408.8 211.1 408.1 210.9 409.8 C210.8 411.6 211 410.8 210.4 412.7 C209.7 414.6 210.1 413.8 209.1 415.6 C208 417.4 208.6 416.6 207.2 418.1 C205.9 419.6 206.5 419.1 205 420.1 C203.6 421.1 204.2 420.8 202.8 421.2 C201.4 421.5 201.4 421.2 200.7 421.2" stroke-width="0.84" stroke="#666"/>
<ellipse cx="188.7" cy="428.6" rx="5.3" ry="9.2" transform="rotate(30 188.7 428.6)" stroke-width="1.14" stroke="#4a4a4a"/>
<path d="M192.1 420.1 C192.4 420.7 192.7 420.5 193 421.9 C193.4 423.4 193.4 422.6 193.2 424.4 C193.1 426.2 193.3 425.4 192.6 427.3 C192 429.2 192.4 428.4 191.4 430.2 C190.3 432 190.8 431.2 189.5 432.7 C188.2 434.2 188.8 433.7 187.3 434.7 C185.8 435.7 186.5 435.4 185.1 435.7 C183.6 436.1 183.7 435.8 183 435.8" stroke-width="0.84" stroke="#666"/>
<ellipse cx="171.4" cy="432.1" rx="5.3" ry="9.2" transform="rotate(30 171.4 432.1)" stroke-width="1.14" stroke="#4a4a4a"/>
<path d="M174.9 423.6 C175.2 424.2 175.4 424 175.8 425.4 C176.2 426.9 176.1 426.1 176 427.9 C175.9 429.7 176 428.9 175.4 430.8 C174.8 432.7 175.2 431.8 174.1 433.7 C173.1 435.5 173.6 434.7 172.3 436.2 C170.9 437.7 171.6 437.2 170.1 438.2 C168.6 439.2 169.3 438.8 167.8 439.2 C166.4 439.6 166.5 439.3 165.8 439.3" stroke-width="0.84" stroke="#666"/>
<ellipse cx="159.3" cy="423.6" rx="5.3" ry="9.2" transform="rotate(30 159.3 423.6)" stroke-width="1.14" stroke="#4a4a4a"/>
<path d="M162.7 415.1 C163.1 415.7 163.3 415.5 163.7 416.9 C164.1 418.3 164 417.6 163.9 419.4 C163.8 421.1 163.9 420.3 163.3 422.2 C162.7 424.1 163.1 423.3 162 425.1 C161 426.9 161.5 426.2 160.2 427.7 C158.8 429.2 159.5 428.6 158 429.6 C156.5 430.6 157.2 430.3 155.7 430.7 C154.3 431.1 154.4 430.7 153.7 430.8" stroke-width="0.84" stroke="#666"/>
<ellipse cx="155.6" cy="405.3" rx="5.3" ry="9.2" transform="rotate(30 155.6 405.3)" stroke-width="1.14" stroke="#4a4a4a"/>
<path d="M159 396.8 C159.3 397.4 159.6 397.2 159.9 398.6 C160.3 400 160.3 399.3 160.1 401.1 C160 402.9 160.2 402 159.5 403.9 C158.9 405.9 159.3 405 158.2 406.8 C157.2 408.6 157.7 407.9 156.4 409.4 C155.1 410.9 155.7 410.3 154.2 411.3 C152.7 412.3 153.4 412 152 412.4 C150.5 412.8 150.6 412.5 149.9 412.5" stroke-width="0.84" stroke="#666"/>
<ellipse cx="161.2" cy="382.1" rx="5.3" ry="9.2" transform="rotate(30 161.2 382.1)" stroke-width="1.14" stroke="#4a4a4a"/>
<path d="M164.6 373.7 C164.9 374.3 165.2 374 165.5 375.5 C165.9 376.9 165.9 376.2 165.7 378 C165.6 379.7 165.8 378.9 165.1 380.8 C164.5 382.7 164.9 381.9 163.9 383.7 C162.8 385.5 163.3 384.8 162 386.3 C160.7 387.8 161.3 387.2 159.8 388.2 C158.3 389.2 159 388.9 157.6 389.3 C156.1 389.7 156.2 389.3 155.5 389.4" stroke-width="0.84" stroke="#666"/>
<ellipse cx="174.6" cy="360.4" rx="5.3" ry="9.2" transform="rotate(30 174.6 360.4)" stroke-width="1.14" stroke="#4a4a4a"/>
<path d="M178 351.9 C178.4 352.5 178.6 352.3 179 353.7 C179.4 355.1 179.3 354.4 179.2 356.2 C179.1 358 179.2 357.1 178.6 359 C178 361 178.4 360.1 177.3 361.9 C176.3 363.7 176.8 363 175.5 364.5 C174.1 366 174.8 365.4 173.3 366.4 C171.8 367.4 172.5 367.1 171 367.5 C169.6 367.9 169.7 367.6 169 367.6" stroke-width="0.84" stroke="#666"/>
<ellipse cx="192.3" cy="345.8" rx="5.3" ry="9.2" transform="rotate(30 192.3 345.8)" stroke-width="1.14" stroke="#4a4a4a"/>
<path d="M195.8 337.3 C196.1 337.9 196.3 337.7 196.7 339.1 C197.1 340.5 197 339.8 196.9 341.6 C196.8 343.4 197 342.5 196.3 344.5 C195.7 346.4 196.1 345.5 195 347.3 C194 349.2 194.5 348.4 193.2 349.9 C191.8 351.4 192.5 350.8 191 351.8 C189.5 352.8 190.2 352.5 188.8 352.9 C187.3 353.3 187.4 353 186.7 353" stroke-width="0.84" stroke="#666"/>
<ellipse cx="209.6" cy="342.3" rx="5.3" ry="9.2" transform="rotate(30 209.6 342.3)" stroke-width="1.14" stroke="#4a4a4a"/>
<path d="M213 333.8 C213.3 334.4 213.6 334.2 213.9 335.6 C214.3 337.1 214.3 336.3 214.1 338.1 C214 339.9 214.2 339.1 213.6 341 C212.9 342.9 213.3 342 212.3 343.9 C211.2 345.7 211.8 344.9 210.4 346.4 C209.1 347.9 209.7 347.4 208.2 348.4 C206.7 349.4 207.4 349 206 349.4 C204.5 349.8 204.6 349.5 203.9 349.5" stroke-width="0.84" stroke="#666"/>
<ellipse cx="221.7" cy="350.8" rx="5.3" ry="9.2" transform="rotate(30 221.7 350.8)" stroke-width="1.14" stroke="#4a4a4a"/>
<path d="M225.1 342.4 C225.4 343 225.7 342.7 226.1 344.2 C226.4 345.6 226.4 344.9 226.3 346.7 C226.1 348.4 226.3 347.6 225.7 349.5 C225 351.4 225.4 350.6 224.4 352.4 C223.3 354.2 223.9 353.5 222.5 355 C221.2 356.5 221.8 355.9 220.3 356.9 C218.9 357.9 219.5 357.6 218.1 358 C216.7 358.4 216.7 358 216 358.1" stroke-width="0.84" stroke="#666"/>
<ellipse cx="225.4" cy="369.1" rx="5.3" ry="9.2" transform="rotate(30 225.4 369.1)" stroke-width="1.14" stroke="#4a4a4a"/>
<path d="M228.9 360.6 C229.2 361.2 229.4 361 229.8 362.5 C230.2 363.9 230.1 363.2 230 364.9 C229.9 366.7 230.1 365.9 229.4 367.8 C228.8 369.7 229.2 368.9 228.1 370.7 C227.1 372.5 227.6 371.7 226.3 373.2 C224.9 374.7 225.6 374.2 224.1 375.2 C222.6 376.2 223.3 375.9 221.9 376.3 C220.4 376.6 220.5 376.3 219.8 376.3" stroke-width="0.84" stroke="#666"/>
<ellipse cx="219.8" cy="392.3" rx="5.3" ry="9.2" transform="rotate(30 219.8 392.3)" stroke-width="1.14" stroke="#4a4a4a"/>
<path d="M223.3 383.8 C223.6 384.4 223.8 384.2 224.2 385.6 C224.6 387 224.5 386.3 224.4 388.1 C224.3 389.8 224.5 389 223.8 390.9 C223.2 392.8 223.6 392 222.5 393.8 C221.5 395.6 222 394.9 220.7 396.4 C219.3 397.9 220 397.3 218.5 398.3 C217 399.3 217.7 399 216.2 399.4 C214.8 399.8 214.9 399.4 214.2 399.5" stroke-width="0.84" stroke="#666"/>
<path d="M155.2 481.7 L154.7 481.3 L154.3 480.7 L154 480 L153.9 479.2 L153.9 478.2 L154 477.2 L154.3 476.2 L154.7 475.1 L155.2 474.1 L155.8 473.1 L156.5 472.3 L157.3 471.5 L158.1 470.9 L158.9 470.4 L159.7 470.1 L160.5 470 L161.2 470 L161.8 470.3 L166.1 472.8 L166.7 473.2 L167.1 473.8 L167.3 474.5 L167.5 475.3 L167.5 476.3 L167.3 477.3 L167.1 478.3 L166.7 479.4 L166.1 480.4 L165.5 481.4 L164.8 482.2 L164 483 L163.2 483.6 L162.4 484.1 L161.6 484.4 L160.9 484.5 L160.2 484.5 L159.5 484.2Z" stroke-width="1.08" stroke="#444" fill="#f2f2f2"/>
<path d="M159.5 484.2 C159.4 484.1 159.3 484.1 159 483.8 C158.7 483.5 158.8 483.7 158.6 483.2 C158.4 482.8 158.5 483 158.3 482.5 C158.2 482 158.2 482.2 158.2 481.7 C158.1 481.1 158.1 481.4 158.2 480.7 C158.2 480.1 158.2 480.4 158.3 479.7 C158.5 479 158.4 479.4 158.6 478.7 C158.8 478 158.7 478.3 159 477.6 C159.3 476.9 159.2 477.3 159.5 476.6 C159.9 475.9 159.7 476.2 160.2 475.6 C160.6 475 160.4 475.3 160.9 474.8 C161.3 474.2 161.1 474.5 161.6 474 C162.1 473.5 161.9 473.7 162.4 473.4 C163 473 162.7 473.2 163.2 472.9 C163.8 472.6 163.5 472.7 164 472.6 C164.6 472.5 164.3 472.5 164.8 472.5 C165.3 472.5 165.1 472.4 165.5 472.5 C165.9 472.6 165.9 472.7 166.1 472.8" stroke-width="1.08" stroke="#444"/>
<path d="M156.2 482.3 C156.1 482.2 156 482.2 155.7 481.9 C155.4 481.6 155.5 481.8 155.3 481.3 C155.1 480.9 155.2 481.1 155 480.6 C154.9 480.1 154.9 480.3 154.9 479.8 C154.8 479.2 154.8 479.5 154.9 478.8 C154.9 478.2 154.9 478.5 155 477.8 C155.2 477.1 155.1 477.5 155.3 476.8 C155.5 476.1 155.4 476.4 155.7 475.7 C156 475 155.9 475.4 156.2 474.7 C156.6 474 156.4 474.3 156.9 473.7 C157.3 473.1 157.1 473.4 157.6 472.9 C158.1 472.3 157.8 472.6 158.3 472.1 C158.9 471.6 158.6 471.8 159.1 471.5 C159.7 471.1 159.4 471.3 159.9 471 C160.5 470.7 160.2 470.8 160.7 470.7 C161.3 470.6 161 470.6 161.5 470.6 C162 470.6 161.8 470.5 162.2 470.6 C162.7 470.7 162.6 470.8 162.8 470.9" stroke-width="0.6" stroke="#777"/>
<path d="M161.3 481.1 L161.1 480.9 L160.9 480.6 L160.8 480.3 L160.7 479.9 L160.7 479.5 L160.8 479 L160.9 478.6 L161.1 478.1 L161.3 477.6 L161.6 477.2 L161.9 476.8 L162.3 476.5 L162.6 476.2 L163 476 L163.4 475.8 L163.7 475.8 L164 475.8 L164.3 475.9 L173.5 481.2 L173.7 481.4 L173.9 481.6 L174 482 L174.1 482.3 L174.1 482.8 L174 483.2 L173.9 483.7 L173.7 484.2 L173.5 484.6 L173.2 485.1 L172.9 485.5 L172.5 485.8 L172.2 486.1 L171.8 486.3 L171.4 486.5 L171.1 486.5 L170.8 486.5 L170.5 486.4Z" stroke-width="0.96" stroke="#444" fill="#e9e9e9"/>
<path d="M169.9 486 L169.6 485.8 L169.4 485.6 L169.3 485.2 L169.2 484.9 L169.2 484.4 L169.3 484 L169.4 483.5 L169.6 483 L169.9 482.6 L170.1 482.1 L170.5 481.7 L170.8 481.4 L171.2 481.1 L171.5 480.9 L171.9 480.7 L172.3 480.7 L172.6 480.7 L172.9 480.8 L184.6 487.6 L184.9 487.8 L185.1 488.1 L185.2 488.4 L185.3 488.8 L185.3 489.2 L185.2 489.7 L185.1 490.2 L184.9 490.6 L184.6 491.1 L184.4 491.5 L184 491.9 L183.7 492.3 L183.3 492.6 L183 492.8 L182.6 492.9 L182.2 493 L181.9 492.9 L181.6 492.8Z" stroke-width="0.84" stroke="#444" fill="#8e8e8e"/>
<path d="M181.6 492.8 C181.6 492.8 181.5 492.8 181.4 492.6 C181.3 492.5 181.3 492.6 181.2 492.4 C181.1 492.2 181.2 492.3 181.1 492 C181 491.8 181.1 491.9 181 491.7 C181 491.4 181 491.5 181 491.2 C181.1 490.9 181 491.1 181.1 490.8 C181.2 490.5 181.1 490.6 181.2 490.3 C181.3 490 181.3 490.1 181.4 489.8 C181.5 489.5 181.5 489.7 181.6 489.4 C181.8 489.1 181.7 489.2 181.9 488.9 C182.1 488.6 182 488.8 182.2 488.5 C182.5 488.3 182.4 488.4 182.6 488.2 C182.8 488 182.7 488.1 183 487.9 C183.2 487.7 183.1 487.8 183.3 487.7 C183.6 487.6 183.5 487.6 183.7 487.5 C183.9 487.5 183.8 487.5 184 487.5 C184.3 487.5 184.2 487.5 184.4 487.5 C184.6 487.6 184.5 487.6 184.6 487.6" stroke-width="0.84" stroke="#444"/>
<path d="M172.9 480.8 C173.1 481.3 173.5 481 173.5 482.2 C173.5 483.4 173.6 483.1 172.9 484.3 C172.2 485.5 172.4 485.3 171.4 485.9 C170.4 486.5 170.4 486 169.9 486" stroke-width="0.6" stroke="#2f2f2f"/>
<path d="M174.2 481.6 C174.4 482 174.8 481.8 174.8 483 C174.8 484.1 174.9 483.8 174.2 485 C173.5 486.3 173.7 486.1 172.7 486.6 C171.7 487.2 171.7 486.7 171.2 486.8" stroke-width="0.6" stroke="#2f2f2f"/>
<path d="M175.5 482.3 C175.7 482.8 176.1 482.6 176.1 483.7 C176.1 484.9 176.2 484.6 175.5 485.8 C174.8 487 175 486.8 174 487.4 C173 488 173 487.5 172.5 487.5" stroke-width="0.6" stroke="#2f2f2f"/>
<path d="M176.8 483.1 C177 483.6 177.4 483.3 177.4 484.5 C177.4 485.6 177.5 485.3 176.8 486.6 C176.1 487.8 176.3 487.6 175.3 488.1 C174.3 488.7 174.3 488.2 173.8 488.3" stroke-width="0.6" stroke="#2f2f2f"/>
<path d="M178.1 483.9 C178.3 484.3 178.7 484.1 178.7 485.2 C178.7 486.4 178.8 486.1 178.1 487.3 C177.4 488.5 177.6 488.3 176.6 488.9 C175.6 489.5 175.6 489 175.1 489" stroke-width="0.6" stroke="#2f2f2f"/>
<path d="M179.4 484.6 C179.6 485.1 180 484.8 180 486 C180 487.1 180.1 486.8 179.4 488.1 C178.7 489.3 178.9 489.1 177.9 489.7 C176.9 490.2 176.9 489.8 176.4 489.8" stroke-width="0.6" stroke="#2f2f2f"/>
<path d="M180.7 485.4 C180.9 485.8 181.3 485.6 181.3 486.7 C181.3 487.9 181.4 487.6 180.7 488.8 C180 490.1 180.2 489.8 179.2 490.4 C178.2 491 178.2 490.5 177.7 490.6" stroke-width="0.6" stroke="#2f2f2f"/>
<path d="M182 486.1 C182.2 486.6 182.6 486.3 182.6 487.5 C182.6 488.6 182.7 488.4 182 489.6 C181.3 490.8 181.5 490.6 180.5 491.2 C179.5 491.7 179.5 491.3 179 491.3" stroke-width="0.6" stroke="#2f2f2f"/>
<path d="M183.3 486.9 C183.5 487.3 184 487.1 184 488.2 C184 489.4 184 489.1 183.3 490.3 C182.6 491.6 182.8 491.3 181.8 491.9 C180.8 492.5 180.8 492 180.3 492.1" stroke-width="0.6" stroke="#2f2f2f"/>
<path d="M232.7 483.9 L227.5 479.7 L223.4 473.9 L220.6 466.7 L219.2 458.2 L219.2 448.9 L220.6 438.8 L223.4 428.4 L227.5 417.9 L232.7 407.7 L239 398 L246 389.3 L253.6 381.6 L261.6 375.4 L269.8 370.7 L277.8 367.7 L285.4 366.5 L292.5 367.1 L298.7 369.5 L313 377.8 L318.2 382 L322.3 387.8 L325.1 395 L326.5 403.4 L326.5 412.8 L325.1 422.9 L322.3 433.3 L318.2 443.8 L313 454 L306.8 463.6 L299.7 472.4 L292.1 480 L284.1 486.3 L275.9 491 L267.9 494 L260.3 495.2 L253.2 494.6 L247 492.1Z" stroke-width="1.32" stroke="#3f3f3f" fill="#fff"/>
<path d="M247 492.2 C245.3 490.8 244.9 491.3 241.8 488 C238.7 484.7 240 486.5 237.7 482.2 C235.4 477.9 236.3 480.2 234.9 475 C233.5 469.8 234 472.5 233.5 466.5 C233.1 460.6 233.1 463.6 233.5 457.2 C234 450.7 233.5 453.9 234.9 447.1 C236.3 440.3 235.4 443.6 237.7 436.7 C240 429.7 238.7 433.1 241.8 426.2 C244.9 419.3 243.2 422.6 247 416 C250.8 409.3 248.8 412.5 253.3 406.3 C257.7 400.2 255.4 403 260.3 397.6 C265.2 392.1 262.7 394.6 267.9 389.9 C273.2 385.3 270.6 387.3 275.9 383.7 C281.3 380 278.7 381.5 284.1 379 C289.5 376.4 286.9 377.4 292.1 376 C297.3 374.6 294.8 375 299.7 374.8 C304.6 374.6 302.3 374.4 306.8 375.4 C311.2 376.4 310.9 377 313 377.8" stroke-width="0.84" stroke="#666"/>
<path d="M313 377.8 C314.7 379.2 315.1 378.7 318.2 382 C321.3 385.3 320 383.5 322.3 387.8 C324.6 392.1 323.7 389.8 325.1 395 C326.5 400.2 326 397.5 326.5 403.5 C326.9 409.4 326.9 406.4 326.5 412.8 C326 419.3 326.5 416.1 325.1 422.9 C323.7 429.7 324.6 426.4 322.3 433.3 C320 440.3 321.3 436.9 318.2 443.8 C315.1 450.7 316.8 447.4 313 454 C309.2 460.7 311.2 457.5 306.7 463.7 C302.3 469.8 304.6 467 299.7 472.4 C294.8 477.9 297.3 475.4 292.1 480.1 C286.8 484.7 289.4 482.7 284.1 486.3 C278.7 490 281.3 488.5 275.9 491 C270.5 493.6 273.1 492.6 267.9 494 C262.7 495.4 265.2 495 260.3 495.2 C255.4 495.4 257.7 495.6 253.2 494.6 C248.8 493.6 249.1 493 247 492.2" stroke-width="1.32" stroke="#3f3f3f"/>
<ellipse cx="274.6" cy="433.4" rx="22.8" ry="39.6" transform="rotate(30 274.6 433.4)" stroke-width="1.32" stroke="#3f3f3f"/>
<path d="M295.3 397 C296.6 397.5 296.9 397.2 299.3 398.6 C301.8 400 300.7 399.1 302.7 401.3 C304.7 403.4 303.8 402.2 305.3 405 C306.8 407.8 306.2 406.3 307.1 409.7 C308 413 307.7 411.3 308 415.1 C308.3 418.9 308.3 417 308 421.1 C307.7 425.3 308 423.2 307.1 427.6 C306.2 432 306.8 429.8 305.3 434.3 C303.8 438.8 304.7 436.6 302.7 441.1 C300.7 445.5 301.8 443.4 299.3 447.7 C296.8 451.9 298.1 449.9 295.3 453.9 C292.4 457.8 293.9 456 290.8 459.5 C287.6 463 289.2 461.4 285.8 464.4 C282.5 467.4 284.1 466.1 280.7 468.5 C277.2 470.8 278.9 469.8 275.4 471.5 C272 473.1 273.6 472.5 270.3 473.4 C266.9 474.3 268.5 474.1 265.4 474.2 C262.2 474.3 263.7 474.4 260.8 473.8 C258 473.1 259.3 473.6 256.8 472.2 C254.4 470.8 254.6 470.4 253.4 469.5" stroke-width="0.84" stroke="#666"/>
<path d="M290.7 399.2 C291.4 400.5 291.6 400.2 292.7 403 C293.8 405.9 293.4 404.4 294 407.7 C294.5 411 294.4 409.3 294.4 413 C294.4 416.7 294.5 414.8 294 418.7 C293.4 422.7 293.8 420.7 292.7 424.8 C291.6 428.9 292.3 426.9 290.7 431 C289.1 435.1 290 433.2 287.9 437.2 C285.9 441.2 287 439.3 284.5 443.1 C282.1 446.8 283.3 445.1 280.6 448.5 C277.8 451.9 279.2 450.4 276.2 453.4 C273.2 456.4 274.7 455 271.6 457.5 C268.4 459.9 270 458.9 266.8 460.7 C263.6 462.6 265.2 461.8 262 463 C258.9 464.2 260.4 463.8 257.4 464.3 C254.4 464.7 255.8 464.7 253 464.4 C250.3 464.2 251.5 464.5 249.1 463.5 C246.6 462.6 246.8 462.2 245.7 461.6" stroke-width="0.96" stroke="#555"/>
<ellipse cx="277.6" cy="390" rx="2.5" ry="4.4" transform="rotate(30 277.6 390)" stroke-width="1.08" stroke="#444"/>
<path d="M278.9 385.8 C279.1 386.2 279.3 386 279.5 387 C279.6 388 279.6 387.5 279.4 388.7 C279.1 389.9 279.3 389.4 278.6 390.6 C277.9 391.7 278.3 391.3 277.4 392.1 C276.5 393 276.9 392.7 275.9 393.1 C275 393.5 275.1 393.2 274.6 393.3" stroke-width="0.72" stroke="#666"/>
<ellipse cx="306.6" cy="387.6" rx="2.5" ry="4.4" transform="rotate(30 306.6 387.6)" stroke-width="1.08" stroke="#444"/>
<path d="M307.9 383.4 C308.1 383.8 308.3 383.6 308.5 384.6 C308.6 385.6 308.6 385.1 308.4 386.3 C308.1 387.5 308.3 387 307.6 388.2 C306.9 389.3 307.3 388.9 306.4 389.7 C305.5 390.6 305.9 390.3 304.9 390.7 C304 391.1 304.1 390.8 303.6 390.9" stroke-width="0.72" stroke="#666"/>
<ellipse cx="317" cy="413.6" rx="2.5" ry="4.4" transform="rotate(30 317 413.6)" stroke-width="1.08" stroke="#444"/>
<path d="M318.3 409.4 C318.5 409.8 318.7 409.6 318.9 410.6 C319 411.6 319 411.1 318.8 412.3 C318.5 413.5 318.7 413 318 414.2 C317.3 415.3 317.7 414.9 316.8 415.7 C315.9 416.6 316.3 416.3 315.3 416.7 C314.4 417.1 314.5 416.8 314 416.9" stroke-width="0.72" stroke="#666"/>
<ellipse cx="307" cy="449.6" rx="2.5" ry="4.4" transform="rotate(30 307 449.6)" stroke-width="1.08" stroke="#444"/>
<path d="M308.3 445.4 C308.5 445.8 308.7 445.6 308.9 446.6 C309 447.6 309 447.1 308.8 448.3 C308.5 449.5 308.7 449 308 450.2 C307.3 451.3 307.7 450.9 306.8 451.7 C305.9 452.6 306.3 452.3 305.3 452.7 C304.4 453.1 304.5 452.8 304 452.9" stroke-width="0.72" stroke="#666"/>
<ellipse cx="278" cy="481" rx="2.5" ry="4.4" transform="rotate(30 278 481)" stroke-width="1.08" stroke="#444"/>
<path d="M279.3 476.8 C279.5 477.2 279.7 477 279.9 478 C280 479 280 478.5 279.8 479.7 C279.5 480.9 279.7 480.4 279 481.6 C278.3 482.7 278.7 482.3 277.8 483.1 C276.9 484 277.3 483.7 276.3 484.1 C275.4 484.5 275.5 484.2 275 484.3" stroke-width="0.72" stroke="#666"/>
<ellipse cx="252.4" cy="485" rx="2.5" ry="4.4" transform="rotate(30 252.4 485)" stroke-width="1.08" stroke="#444"/>
<path d="M253.7 480.8 C253.9 481.2 254.1 481 254.3 482 C254.4 483 254.4 482.5 254.2 483.7 C253.9 484.9 254.1 484.4 253.4 485.6 C252.7 486.7 253.1 486.3 252.2 487.1 C251.3 488 251.7 487.7 250.7 488.1 C249.8 488.5 249.9 488.2 249.4 488.3" stroke-width="0.72" stroke="#666"/>
<ellipse cx="238.6" cy="459" rx="2.5" ry="4.4" transform="rotate(30 238.6 459)" stroke-width="1.08" stroke="#444"/>
<path d="M239.9 454.8 C240.1 455.2 240.3 455 240.5 456 C240.6 457 240.6 456.5 240.4 457.7 C240.1 458.9 240.3 458.4 239.6 459.6 C238.9 460.7 239.3 460.3 238.4 461.1 C237.5 462 237.9 461.7 236.9 462.1 C236 462.5 236.1 462.2 235.6 462.3" stroke-width="0.72" stroke="#666"/>
<ellipse cx="249" cy="422" rx="2.5" ry="4.4" transform="rotate(30 249 422)" stroke-width="1.08" stroke="#444"/>
<path d="M250.3 417.8 C250.5 418.2 250.7 418 250.9 419 C251 420 251 419.5 250.8 420.7 C250.5 421.9 250.7 421.4 250 422.6 C249.3 423.7 249.7 423.3 248.8 424.1 C247.9 425 248.3 424.7 247.3 425.1 C246.4 425.5 246.5 425.2 246 425.3" stroke-width="0.72" stroke="#666"/>
<path d="M316.5 514 L312.6 510.9 L309.6 506.6 L307.5 501.3 L306.5 495 L306.5 488 L307.5 480.6 L309.6 472.8 L312.6 465 L316.5 457.5 L321.1 450.3 L326.4 443.8 L332 438.1 L338 433.5 L344 430 L350 427.8 L355.6 426.9 L360.9 427.4 L365.5 429.2 L382.3 438.9 L386.2 442 L389.2 446.3 L391.3 451.6 L392.3 457.9 L392.3 464.9 L391.3 472.3 L389.2 480.1 L386.2 487.9 L382.3 495.4 L377.7 502.6 L372.5 509.1 L366.8 514.8 L360.8 519.4 L354.8 522.9 L348.8 525.1 L343.2 526 L337.9 525.6 L333.3 523.7Z" stroke-width="1.32" stroke="#3f3f3f" fill="#dcdcdc"/>
<path d="M316.5 513.6 L313.9 510.8 L325.2 517.3 L327.8 520.1Z" stroke-width="0.72" stroke="#555" fill="#fbfbfb"/>
<path d="M312.8 509.1 L311.1 505.3 L322.3 511.8 L324.1 515.6Z" stroke-width="0.72" stroke="#555" fill="#fbfbfb"/>
<path d="M310.4 503.1 L309.5 498.5 L320.7 505 L321.7 509.6Z" stroke-width="0.72" stroke="#555" fill="#fbfbfb"/>
<path d="M309.2 496 L309.2 490.8 L320.5 497.3 L320.5 502.5Z" stroke-width="0.72" stroke="#555" fill="#fbfbfb"/>
<path d="M309.4 488 L310.3 482.4 L321.6 488.9 L320.7 494.5Z" stroke-width="0.72" stroke="#555" fill="#fbfbfb"/>
<path d="M310.9 479.4 L312.7 473.6 L323.9 480.1 L322.2 485.9Z" stroke-width="0.72" stroke="#555" fill="#fbfbfb"/>
<path d="M313.8 470.6 L316.3 464.8 L327.5 471.3 L325 477.1Z" stroke-width="0.72" stroke="#555" fill="#fbfbfb"/>
<path d="M317.7 461.9 L320.9 456.3 L332.2 462.8 L329 468.4Z" stroke-width="0.72" stroke="#555" fill="#fbfbfb"/>
<path d="M322.7 453.6 L326.5 448.5 L337.8 455 L334 460.1Z" stroke-width="0.72" stroke="#555" fill="#fbfbfb"/>
<path d="M328.6 446.1 L332.7 441.7 L344 448.2 L339.8 452.6Z" stroke-width="0.72" stroke="#555" fill="#fbfbfb"/>
<path d="M335 439.6 L339.4 436 L350.7 442.6 L346.2 446.1Z" stroke-width="0.72" stroke="#555" fill="#fbfbfb"/>
<path d="M341.7 434.5 L346.2 431.9 L357.5 438.4 L353 441Z" stroke-width="0.72" stroke="#555" fill="#fbfbfb"/>
<path d="M348.6 430.8 L353 429.3 L364.3 435.8 L359.8 437.3Z" stroke-width="0.72" stroke="#555" fill="#fbfbfb"/>
<path d="M355.2 428.8 L359.4 428.5 L370.6 435 L366.5 435.3Z" stroke-width="0.72" stroke="#555" fill="#fbfbfb"/>
<path d="M361.4 428.6 L365.1 429.4 L376.4 435.9 L372.7 435.1Z" stroke-width="0.72" stroke="#555" fill="#fbfbfb"/>
<path d="M318.4 515.1 C317.1 514.1 316.8 514.5 314.5 512 C312.2 509.6 313.2 511 311.5 507.7 C309.8 504.5 310.5 506.3 309.4 502.4 C308.4 498.5 308.7 500.5 308.4 496.1 C308.1 491.7 308 494 308.4 489.1 C308.8 484.3 308.4 486.7 309.5 481.7 C310.5 476.6 309.8 479.1 311.5 473.9 C313.2 468.8 312.2 471.3 314.5 466.1 C316.8 461 315.6 463.5 318.4 458.6 C321.3 453.7 319.8 456 323 451.4 C326.3 446.9 324.6 449 328.3 444.9 C331.9 440.8 330.1 442.7 334 439.2 C337.8 435.8 335.9 437.3 339.9 434.6 C343.9 431.9 341.9 433 345.9 431.1 C349.9 429.2 348 429.9 351.9 428.9 C355.8 427.8 353.9 428.1 357.6 428 C361.2 427.8 359.5 427.7 362.8 428.5 C366.1 429.2 365.9 429.7 367.4 430.3" stroke-width="0.84" stroke="#555"/>
<path d="M331.6 522.3 C330.3 521.3 330 521.7 327.7 519.2 C325.4 516.8 326.4 518.2 324.7 514.9 C323 511.7 323.7 513.5 322.6 509.6 C321.6 505.7 321.9 507.7 321.6 503.3 C321.2 498.9 321.2 501.2 321.6 496.3 C321.9 491.5 321.6 493.9 322.6 488.9 C323.7 483.8 323 486.3 324.7 481.1 C326.4 476 325.4 478.5 327.7 473.3 C330 468.2 328.8 470.7 331.6 465.8 C334.4 460.9 333 463.2 336.2 458.6 C339.5 454.1 337.8 456.2 341.5 452.1 C345.1 448 343.3 449.9 347.1 446.4 C351 443 349.1 444.5 353.1 441.8 C357.1 439.1 355.1 440.2 359.1 438.3 C363.1 436.4 361.2 437.1 365.1 436.1 C368.9 435 367.1 435.3 370.7 435.2 C374.4 435 372.7 434.9 376 435.7 C379.3 436.4 379.1 436.9 380.6 437.5" stroke-width="0.84" stroke="#555"/>
<ellipse cx="358" cy="481" rx="28.3" ry="49" transform="rotate(30 358 481)" fill="#fff" stroke-width="1.32" stroke="#3f3f3f"/>
<ellipse cx="358" cy="481" rx="27.1" ry="47" transform="rotate(30 358 481)" stroke-width="0.72" stroke="#777"/>
<ellipse cx="357.5" cy="482.5" rx="21.3" ry="37" transform="rotate(30 357.5 482.5)" fill="#d8d8d8" stroke-width="1.2" stroke="#3f3f3f"/>
<path d="M368 448.6 L369.3 451.9 L380 458.1 L378.7 454.8Z" stroke-width="0.72" stroke="#555" fill="#f6f6f6"/>
<path d="M369.8 454.4 L370.3 458.4 L381 464.6 L380.6 460.6Z" stroke-width="0.72" stroke="#555" fill="#f6f6f6"/>
<path d="M370.3 461.3 L369.8 465.8 L380.6 472 L381 467.5Z" stroke-width="0.72" stroke="#555" fill="#f6f6f6"/>
<path d="M369.2 469 L367.9 473.8 L378.6 480 L380 475.2Z" stroke-width="0.72" stroke="#555" fill="#f6f6f6"/>
<path d="M366.7 477 L364.6 481.7 L375.4 488 L377.5 483.2Z" stroke-width="0.72" stroke="#555" fill="#f6f6f6"/>
<path d="M363 484.8 L360.2 489.3 L371 495.5 L373.7 491.1Z" stroke-width="0.72" stroke="#555" fill="#f6f6f6"/>
<path d="M358.2 492.2 L354.9 496.1 L365.6 502.3 L368.9 498.4Z" stroke-width="0.72" stroke="#555" fill="#f6f6f6"/>
<path d="M352.6 498.5 L349 501.7 L359.7 507.9 L363.3 504.7Z" stroke-width="0.72" stroke="#555" fill="#f6f6f6"/>
<path d="M346.5 503.5 L342.8 505.7 L353.5 512 L357.3 509.7Z" stroke-width="0.72" stroke="#555" fill="#f6f6f6"/>
<path d="M340.3 506.9 L336.6 508.1 L347.4 514.3 L351 513.1Z" stroke-width="0.72" stroke="#555" fill="#f6f6f6"/>
<path d="M334.3 508.5 L330.9 508.5 L341.7 514.7 L345.1 514.7Z" stroke-width="0.72" stroke="#555" fill="#f6f6f6"/>
<path d="M359.2 440.7 L362.1 443.1 L364.4 446.3 L365.9 450.4 L366.7 455.1 L366.7 460.4 L365.9 466 L364.4 471.9 L362.1 477.7 L359.2 483.5 L355.7 488.9 L351.7 493.8 L347.4 498.1 L342.9 501.6 L338.4 504.2 L333.9 505.9 L329.6 506.5 L325.7 506.2 L322.2 504.8 L339 514.5 L336.1 512.2 L333.8 509 L332.2 504.9 L331.4 500.2 L331.4 494.9 L332.2 489.3 L333.8 483.4 L336.1 477.6 L339 471.8 L342.5 466.4 L346.5 461.5 L350.7 457.2 L355.2 453.7 L359.8 451.1 L364.3 449.4 L368.6 448.7 L372.5 449.1 L376 450.5Z" stroke-width="0" stroke="none" fill="#fff"/>
<path d="M359.2 440.7 C360.2 441.5 360.4 441.2 362.1 443.1 C363.8 444.9 363.1 443.9 364.4 446.3 C365.7 448.8 365.2 447.4 365.9 450.4 C366.7 453.3 366.5 451.8 366.7 455.1 C367 458.4 367 456.7 366.7 460.4 C366.5 464 366.7 462.2 365.9 466 C365.2 469.8 365.7 468 364.4 471.9 C363.1 475.8 363.8 473.9 362.1 477.7 C360.4 481.6 361.3 479.8 359.2 483.5 C357 487.2 358.2 485.4 355.7 488.9 C353.2 492.3 354.5 490.7 351.7 493.8 C349 496.8 350.4 495.5 347.4 498.1 C344.5 500.6 346 499.5 342.9 501.6 C339.9 503.6 341.4 502.8 338.4 504.2 C335.4 505.6 336.8 505.1 333.9 505.9 C331 506.7 332.4 506.4 329.6 506.5 C326.9 506.7 328.1 506.8 325.7 506.2 C323.2 505.6 323.3 505.3 322.2 504.8" stroke-width="0.96" stroke="#444"/>
<path d="M339 514.5 C338 513.8 337.8 514.1 336.1 512.2 C334.3 510.3 335.1 511.4 333.8 509 C332.5 506.5 333 507.8 332.2 504.9 C331.5 502 331.7 503.5 331.4 500.2 C331.2 496.9 331.2 498.6 331.4 494.9 C331.7 491.3 331.5 493.1 332.2 489.3 C333 485.4 332.5 487.3 333.8 483.4 C335.1 479.5 334.3 481.4 336.1 477.6 C337.8 473.7 336.9 475.5 339 471.8 C341.2 468.1 340 469.9 342.5 466.4 C345 463 343.7 464.6 346.5 461.5 C349.2 458.4 347.8 459.8 350.7 457.2 C353.7 454.6 352.2 455.8 355.2 453.7 C358.2 451.7 356.8 452.5 359.8 451.1 C362.8 449.7 361.4 450.2 364.3 449.4 C367.2 448.6 365.8 448.8 368.6 448.7 C371.3 448.6 370 448.5 372.5 449.1 C375 449.7 374.8 450 376 450.5" stroke-width="1.2" stroke="#3f3f3f"/>
</g>
<!-- p30_flywheel -->
<g fill="none" stroke="#505050" stroke-width="1.05" stroke-linecap="round" stroke-linejoin="round">
<path d="M394 583.6 L388.6 579.3 L384.4 573.3 L381.6 565.9 L380.1 557.2 L380.1 547.5 L381.6 537.2 L384.4 526.4 L388.6 515.6 L394 505.1 L400.4 495.2 L407.7 486.1 L415.6 478.3 L423.8 471.8 L432.2 467 L440.5 463.9 L448.3 462.7 L455.6 463.3 L462 465.8 L492 483.1 L497.4 487.4 L501.6 493.4 L504.4 500.8 L505.9 509.5 L505.9 519.2 L504.4 529.6 L501.5 540.3 L497.4 551.1 L492 561.6 L485.6 571.6 L478.3 580.6 L470.4 588.4 L462.2 594.9 L453.8 599.7 L445.5 602.8 L437.7 604.1 L430.4 603.4 L424 600.9Z" stroke-width="1.44" stroke="#3f3f3f" fill="#fff"/>
<path d="M393.2 581.6 L389.1 575.2 L399.5 581.2 L403.5 587.6Z" stroke-width="1.08" stroke="#444" fill="#fff"/>
<path d="M387.1 570.2 L385.4 561.5 L395.8 567.5 L397.5 576.2Z" stroke-width="1.08" stroke="#444" fill="#fff"/>
<path d="M385.1 555.1 L386 544.8 L396.3 550.8 L395.5 561.1Z" stroke-width="1.08" stroke="#444" fill="#fff"/>
<path d="M387.3 537.6 L390.6 526.6 L401 532.6 L397.7 543.6Z" stroke-width="1.08" stroke="#444" fill="#fff"/>
<path d="M393.5 519.2 L399 508.5 L409.4 514.5 L403.9 525.2Z" stroke-width="1.08" stroke="#444" fill="#fff"/>
<path d="M403.2 501.6 L410.3 492.1 L420.7 498.1 L413.6 507.6Z" stroke-width="1.08" stroke="#444" fill="#fff"/>
<path d="M415.5 486.3 L423.7 478.8 L434.1 484.8 L425.9 492.3Z" stroke-width="1.08" stroke="#444" fill="#fff"/>
<path d="M429.4 474.6 L437.9 469.7 L448.3 475.7 L439.7 480.6Z" stroke-width="1.08" stroke="#444" fill="#fff"/>
<path d="M443.5 467.5 L451.7 465.8 L462.1 471.8 L453.9 473.5Z" stroke-width="1.08" stroke="#444" fill="#fff"/>
<path d="M456.8 465.7 L463.8 467.2 L474.2 473.2 L467.2 471.7Z" stroke-width="1.08" stroke="#444" fill="#fff"/>
<path d="M396.3 580.4 L402.8 584.2" stroke-width="0.6" stroke="#777"/>
<path d="M391 568.8 L397.5 572.5" stroke-width="0.6" stroke="#777"/>
<path d="M389.6 553.7 L396.1 557.5" stroke-width="0.6" stroke="#777"/>
<path d="M392.3 536.5 L398.8 540.3" stroke-width="0.6" stroke="#777"/>
<path d="M398.9 518.7 L405.4 522.5" stroke-width="0.6" stroke="#777"/>
<path d="M408.7 501.9 L415.2 505.6" stroke-width="0.6" stroke="#777"/>
<path d="M420.9 487.4 L427.4 491.2" stroke-width="0.6" stroke="#777"/>
<path d="M434.5 476.6 L441 480.4" stroke-width="0.6" stroke="#777"/>
<path d="M448.2 470.5 L454.7 474.2" stroke-width="0.6" stroke="#777"/>
<path d="M460.8 469.5 L467.3 473.2" stroke-width="0.6" stroke="#777"/>
<path d="M416 596 C414.4 594.2 413.9 594.8 411.2 590.8 C408.4 586.8 409.5 589 407.6 584.1 C405.7 579.1 406.4 581.8 405.5 576 C404.5 570.2 404.7 573.2 404.7 566.8 C404.7 560.3 404.5 563.6 405.5 556.7 C406.4 549.8 405.7 553.2 407.6 546.1 C409.5 539 408.4 542.5 411.2 535.3 C414 528.1 412.4 531.6 416 524.6 C419.6 517.6 417.7 520.9 421.9 514.3 C426.2 507.7 424 510.8 428.8 504.8 C433.6 498.8 431.1 501.6 436.4 496.3 C441.6 491.1 439 493.4 444.5 489.2 C450 484.9 447.3 486.7 452.8 483.5 C458.4 480.3 455.7 481.6 461.2 479.5 C466.6 477.5 464 478.2 469.3 477.3 C474.5 476.5 472 476.6 476.9 477 C481.7 477.5 481.4 478.1 483.7 478.6" stroke-width="0.84" stroke="#666"/>
<ellipse cx="458" cy="542" rx="39.2" ry="68" transform="rotate(30 458 542)" fill="#fff" stroke-width="1.44" stroke="#3f3f3f"/>
<ellipse cx="458" cy="542" rx="38" ry="65.8" transform="rotate(30 458 542)" stroke-width="0.84" stroke="#666"/>
<ellipse cx="458" cy="542" rx="36.7" ry="63.6" transform="rotate(30 458 542)" stroke-width="1.2" stroke="#444"/>
<path d="M471.7 477.3 C473.2 478.9 473.6 478.4 476.3 482 C478.9 485.5 477.8 483.6 479.7 488 C481.5 492.5 480.8 490.2 481.8 495.4 C482.8 500.7 482.5 498 482.6 503.9 C482.7 509.8 482.9 506.8 482.1 513.1 C481.3 519.5 481.9 516.3 480.2 522.9 C478.5 529.5 479.5 526.3 477 532.9 C474.5 539.6 475.9 536.4 472.7 542.9 C469.4 549.4 471.2 546.3 467.3 552.4 C463.4 558.6 465.4 555.7 461 561.3 C456.6 567 458.8 564.4 454 569.3 C449.2 574.2 451.6 572 446.6 576.1 C441.5 580.1 444 578.4 438.8 581.5 C433.7 584.6 436.2 583.3 431.1 585.3 C426 587.3 428.4 586.6 423.6 587.5 C418.7 588.4 421 588.2 416.5 588 C412 587.7 412.2 587.1 410 586.7" stroke-width="0.96" stroke="#555"/>
<path d="M479.4 486.6 C480.3 488.8 480.7 488.4 482.1 493.4 C483.4 498.3 483 495.8 483.4 501.4 C483.8 507 483.8 504.1 483.4 510.3 C482.9 516.4 483.4 513.3 482.1 519.8 C480.7 526.3 481.6 523.1 479.4 529.7 C477.3 536.3 478.5 533.1 475.6 539.6 C472.6 546.1 474.2 543 470.6 549.3 C467 555.5 468.9 552.6 464.7 558.4 C460.5 564.2 462.7 561.5 458 566.7 C453.4 571.9 455.7 569.5 450.8 573.9 C445.9 578.3 448.3 576.4 443.2 579.9 C438.1 583.3 440.6 581.9 435.5 584.3 C430.4 586.7 430.5 586.2 427.9 587.1" stroke-width="0.6" stroke="#888"/>
<ellipse cx="442" cy="533" rx="10.4" ry="18" transform="rotate(30 442 533)" stroke-width="1.32" stroke="#3f3f3f"/>
<path d="M449.2 516.4 C449.6 516.9 449.7 516.7 450.4 517.8 C451.2 518.8 450.9 518.3 451.4 519.6 C451.9 520.9 451.7 520.2 451.9 521.7 C452.2 523.2 452.1 522.4 452.1 524.1 C452.1 525.9 452.2 525 451.9 526.8 C451.7 528.6 451.9 527.7 451.4 529.6 C450.9 531.5 451.2 530.6 450.4 532.5 C449.7 534.4 450.1 533.5 449.1 535.3 C448.2 537.2 448.7 536.3 447.6 538 C446.4 539.8 447 539 445.8 540.6 C444.5 542.1 445.1 541.4 443.8 542.8 C442.4 544.2 443.1 543.6 441.6 544.7 C440.2 545.8 440.9 545.3 439.4 546.2 C437.9 547 438.6 546.7 437.2 547.2 C435.7 547.8 436.4 547.6 435 547.8 C433.7 548 434.3 548 433 547.9 C431.8 547.8 431.8 547.6 431.2 547.5" stroke-width="0.84" stroke="#666"/>
<ellipse cx="475" cy="513" rx="3.6" ry="6.2" transform="rotate(30 475 513)" stroke-width="1.2" stroke="#3f3f3f"/>
<path d="M477.3 507.3 C477.5 507.9 477.8 507.6 478 509 C478.2 510.4 478.3 509.8 477.9 511.4 C477.4 513.1 477.7 512.4 476.8 514 C475.9 515.6 476.3 515.1 475.1 516.3 C473.8 517.5 474.4 517.1 473.1 517.6 C471.8 518.2 471.8 517.8 471.2 517.8" stroke-width="0.72" stroke="#666"/>
<ellipse cx="441.6" cy="571" rx="3.6" ry="6.2" transform="rotate(30 441.6 571)" stroke-width="1.2" stroke="#3f3f3f"/>
<path d="M443.9 565.3 C444.1 565.9 444.4 565.6 444.6 567 C444.8 568.4 444.9 567.8 444.5 569.4 C444 571.1 444.3 570.4 443.4 572 C442.5 573.6 442.9 573.1 441.7 574.3 C440.4 575.5 441 575.1 439.7 575.6 C438.4 576.2 438.4 575.8 437.8 575.8" stroke-width="0.72" stroke="#666"/>
<path d="M396 585 L399 589 L404 588" stroke-width="0.96" stroke="#444"/>
<path d="M403 591 L407 595 L412 594" stroke-width="0.96" stroke="#444"/>
<path d="M498.2 581.3 C497.8 581 497.7 581.1 497 580.3 C496.3 579.6 496.6 580 496 579 C495.5 578 495.7 578.5 495.4 577.3 C495 576.1 495.2 576.7 495 575.3 C494.9 573.9 494.9 574.6 495 573.1 C495.2 571.6 495 572.3 495.4 570.7 C495.7 569.1 495.5 569.9 496 568.3 C496.6 566.7 496.3 567.4 497 565.8 C497.7 564.2 497.3 565 498.2 563.4 C499.1 561.9 498.6 562.6 499.7 561.2 C500.7 559.7 500.2 560.4 501.3 559.1 C502.5 557.8 501.9 558.4 503.1 557.3 C504.4 556.2 503.7 556.7 505 555.8 C506.3 555 505.7 555.3 506.9 554.7 C508.2 554.1 507.6 554.4 508.8 554 C510 553.7 509.4 553.8 510.6 553.8 C511.7 553.7 511.2 553.7 512.2 553.9 C513.3 554.1 513.2 554.3 513.7 554.5" stroke-width="0.96" stroke="#444"/>
<ellipse cx="507" cy="568.5" rx="8.9" ry="15.5" transform="rotate(30 507 568.5)" fill="#fff" stroke-width="1.32" stroke="#3f3f3f"/>
<ellipse cx="507" cy="568.5" rx="5" ry="8.6" transform="rotate(30 507 568.5)" stroke-width="1.2" stroke="#3f3f3f"/>
<path d="M510.9 561 C511.1 561.2 511.2 561.2 511.5 561.7 C511.8 562.3 511.7 562 511.8 562.7 C512 563.4 512 563 512 563.8 C512.1 564.6 512.1 564.2 512 565 C512 565.9 512 565.4 511.8 566.3 C511.7 567.2 511.8 566.8 511.5 567.7 C511.2 568.6 511.3 568.2 510.9 569.1 C510.5 569.9 510.8 569.5 510.3 570.4 C509.8 571.2 510 570.8 509.4 571.6 C508.9 572.4 509.2 572.1 508.5 572.8 C507.9 573.5 508.2 573.2 507.5 573.8 C506.9 574.4 507.2 574.1 506.5 574.6 C505.8 575.1 506.1 574.9 505.4 575.2 C504.7 575.5 505.1 575.4 504.4 575.6 C503.7 575.8 504 575.7 503.4 575.7 C502.8 575.8 502.8 575.7 502.5 575.7" stroke-width="0.72" stroke="#666"/>
<path d="M520.2 592.7 L519.1 591.8 L518.3 590.7 L517.7 589.2 L517.4 587.5 L517.4 585.5 L517.7 583.5 L518.3 581.3 L519.1 579.2 L520.2 577.1 L521.5 575.1 L522.9 573.3 L524.5 571.8 L526.1 570.5 L527.8 569.5 L529.4 568.9 L531 568.7 L532.4 568.8 L533.7 569.3 L535.6 570.4 L536.7 571.3 L537.5 572.4 L538.1 573.9 L538.4 575.6 L538.3 577.6 L538.1 579.6 L537.5 581.8 L536.7 583.9 L535.6 586 L534.3 588 L532.9 589.8 L531.3 591.3 L529.7 592.6 L528 593.6 L526.4 594.2 L524.8 594.4 L523.4 594.3 L522.1 593.8Z" stroke-width="1.08" stroke="#3f3f3f" fill="#d5d5d5"/>
<path d="M522.1 593.8 C521.7 593.5 521.7 593.6 521 592.9 C520.4 592.3 520.7 592.6 520.2 591.8 C519.7 590.9 519.9 591.3 519.6 590.3 C519.3 589.2 519.4 589.8 519.3 588.6 C519.2 587.3 519.2 588 519.3 586.6 C519.4 585.3 519.3 586 519.6 584.6 C519.9 583.2 519.7 583.9 520.2 582.4 C520.7 581 520.4 581.7 521 580.3 C521.7 578.9 521.3 579.6 522.1 578.2 C522.9 576.9 522.5 577.5 523.4 576.2 C524.3 575 523.8 575.6 524.8 574.4 C525.8 573.3 525.3 573.8 526.4 572.9 C527.4 571.9 526.9 572.3 528 571.6 C529.1 570.9 528.6 571.2 529.7 570.6 C530.8 570.1 530.2 570.3 531.3 570 C532.4 569.7 531.9 569.8 532.9 569.8 C533.9 569.7 533.4 569.7 534.3 569.9 C535.2 570.1 535.2 570.2 535.6 570.4" stroke-width="1.08" stroke="#3f3f3f"/>
<path d="M534.5 585.3 L526.5 592.4 L520.7 589 L522.9 578.7 L530.8 571.6 L536.6 575Z" stroke-width="0.96" stroke="#3f3f3f" fill="#bdbdbd"/>
<path d="M534.5 585.3 L526.5 592.4 L530.9 594.9 L538.8 587.8Z" stroke-width="0.84" stroke="#3f3f3f" fill="#e6e6e6"/>
<path d="M526.5 592.4 L520.7 589 L525.1 591.5 L530.9 594.9Z" stroke-width="0.84" stroke="#3f3f3f" fill="#c9c9c9"/>
<path d="M520.7 589 L522.9 578.7 L527.2 581.2 L525.1 591.5Z" stroke-width="0.84" stroke="#3f3f3f" fill="#c9c9c9"/>
<path d="M522.9 578.7 L530.8 571.6 L535.1 574.1 L527.2 581.2Z" stroke-width="0.84" stroke="#3f3f3f" fill="#e6e6e6"/>
<path d="M530.8 571.6 L536.6 575 L540.9 577.5 L535.1 574.1Z" stroke-width="0.84" stroke="#3f3f3f" fill="#e6e6e6"/>
<path d="M536.6 575 L534.5 585.3 L538.8 587.8 L540.9 577.5Z" stroke-width="0.84" stroke="#3f3f3f" fill="#e6e6e6"/>
<path d="M538.8 587.8 L530.9 594.9 L525.1 591.5 L527.2 581.2 L535.1 574.1 L540.9 577.5Z" stroke-width="1.08" stroke="#3f3f3f" fill="#efefef"/>
<ellipse cx="533" cy="584.5" rx="4.8" ry="8.4" transform="rotate(30 533 584.5)" fill="#bbb" stroke-width="0.96" stroke="#3f3f3f"/>
<ellipse cx="533" cy="584.5" rx="3.3" ry="5.7" transform="rotate(30 533 584.5)" fill="#e8e8e8" stroke-width="0.96" stroke="#3f3f3f"/>
<path d="M535 579.2 C535.1 579.4 535.1 579.3 535.3 579.7 C535.5 580.1 535.5 579.9 535.6 580.3 C535.7 580.8 535.7 580.5 535.7 581 C535.7 581.6 535.7 581.3 535.7 581.8 C535.7 582.4 535.7 582.1 535.6 582.7 C535.5 583.3 535.5 583 535.3 583.6 C535.1 584.2 535.2 583.9 535 584.5 C534.7 585.1 534.9 584.8 534.5 585.4 C534.2 586 534.4 585.7 534 586.2 C533.6 586.7 533.8 586.5 533.4 587 C533 587.4 533.2 587.2 532.7 587.6 C532.3 588 532.5 587.8 532 588.2 C531.6 588.5 531.8 588.3 531.4 588.6 C530.9 588.8 531.1 588.7 530.7 588.8 C530.2 588.9 530.4 588.9 530 588.9 C529.6 588.9 529.6 588.9 529.4 588.9" stroke-width="0.72" stroke="#555"/>
<path d="M518.5 626 L530 631.6" stroke-width="6.72" stroke="#4a4a4a"/>
<path d="M518.5 626 L530 631.6" stroke-width="4.56" stroke="#e2e2e2"/>
<path d="M519 627.2 L530.5 632.8" stroke-width="0.72" stroke="#777"/>
<path d="M532.5 508.5 L531.9 508 L531.5 507.4 L531.2 506.6 L531.1 505.7 L531.1 504.7 L531.2 503.7 L531.5 502.6 L531.9 501.5 L532.5 500.4 L533.2 499.4 L533.9 498.4 L534.7 497.6 L535.6 497 L536.4 496.5 L537.3 496.1 L538.1 496 L538.8 496.1 L539.5 496.3 L544.7 499.3 L545.3 499.8 L545.7 500.4 L546 501.2 L546.1 502.1 L546.1 503.1 L546 504.1 L545.7 505.2 L545.2 506.3 L544.7 507.4 L544 508.4 L543.3 509.4 L542.5 510.2 L541.6 510.8 L540.8 511.3 L539.9 511.7 L539.1 511.8 L538.4 511.7 L537.7 511.5Z" stroke-width="1.08" stroke="#444" fill="#f2f2f2"/>
<path d="M537.7 511.5 C537.5 511.3 537.5 511.4 537.1 511 C536.8 510.7 537 510.9 536.7 510.4 C536.5 509.9 536.6 510.2 536.4 509.6 C536.3 509.1 536.3 509.4 536.3 508.7 C536.2 508.1 536.2 508.4 536.3 507.7 C536.3 507.1 536.3 507.4 536.4 506.7 C536.6 506 536.5 506.3 536.7 505.6 C537 504.8 536.8 505.2 537.1 504.5 C537.5 503.7 537.3 504.1 537.7 503.4 C538.1 502.7 537.9 503 538.4 502.4 C538.8 501.7 538.6 502 539.1 501.4 C539.6 500.8 539.4 501.1 539.9 500.6 C540.5 500.1 540.2 500.3 540.8 500 C541.3 499.6 541.1 499.7 541.6 499.5 C542.2 499.2 541.9 499.3 542.5 499.1 C543 499 542.8 499 543.3 499 C543.8 499 543.6 499 544 499.1 C544.5 499.2 544.5 499.3 544.7 499.3" stroke-width="1.08" stroke="#444"/>
<path d="M533.5 509.1 C533.4 508.9 533.3 509 533 508.6 C532.7 508.3 532.8 508.5 532.6 508 C532.3 507.5 532.4 507.8 532.3 507.2 C532.1 506.7 532.2 507 532.1 506.3 C532.1 505.7 532.1 506 532.1 505.3 C532.2 504.7 532.1 505 532.3 504.3 C532.4 503.6 532.3 503.9 532.6 503.2 C532.8 502.4 532.7 502.8 533 502.1 C533.3 501.3 533.1 501.7 533.5 501 C533.9 500.3 533.7 500.6 534.2 500 C534.7 499.3 534.4 499.6 534.9 499 C535.5 498.4 535.2 498.7 535.8 498.2 C536.3 497.7 536 497.9 536.6 497.6 C537.2 497.2 536.9 497.3 537.5 497.1 C538 496.8 537.8 496.9 538.3 496.7 C538.9 496.6 538.6 496.6 539.1 496.6 C539.7 496.6 539.4 496.6 539.9 496.7 C540.3 496.8 540.3 496.9 540.5 496.9" stroke-width="0.6" stroke="#777"/>
<path d="M539.6 508.2 L539.3 508 L539.1 507.7 L539 507.3 L538.9 506.9 L538.9 506.5 L539 506 L539.1 505.5 L539.3 505 L539.6 504.5 L539.9 504 L540.2 503.6 L540.6 503.2 L541 502.9 L541.4 502.7 L541.8 502.5 L542.2 502.5 L542.5 502.5 L542.8 502.6 L553.9 509 L554.1 509.2 L554.3 509.5 L554.5 509.9 L554.5 510.3 L554.5 510.7 L554.5 511.2 L554.3 511.7 L554.1 512.2 L553.9 512.7 L553.6 513.2 L553.2 513.6 L552.9 514 L552.5 514.3 L552.1 514.5 L551.7 514.7 L551.3 514.7 L551 514.7 L550.7 514.6Z" stroke-width="0.96" stroke="#444" fill="#e9e9e9"/>
<path d="M549.9 514.1 L549.7 513.9 L549.5 513.7 L549.4 513.3 L549.3 512.9 L549.3 512.4 L549.4 512 L549.5 511.5 L549.7 510.9 L549.9 510.5 L550.2 510 L550.6 509.6 L551 509.2 L551.3 508.9 L551.7 508.7 L552.1 508.5 L552.5 508.5 L552.8 508.5 L553.1 508.6 L567.4 516.9 L567.7 517.1 L567.9 517.3 L568 517.7 L568.1 518.1 L568.1 518.5 L568 519 L567.9 519.5 L567.7 520.1 L567.4 520.5 L567.1 521 L566.8 521.4 L566.4 521.8 L566 522.1 L565.6 522.3 L565.2 522.5 L564.9 522.5 L564.5 522.5 L564.2 522.4Z" stroke-width="0.84" stroke="#444" fill="#8e8e8e"/>
<path d="M564.2 522.4 C564.1 522.3 564.1 522.4 564 522.2 C563.8 522 563.9 522.1 563.8 521.9 C563.7 521.7 563.7 521.8 563.6 521.6 C563.6 521.3 563.6 521.4 563.6 521.2 C563.6 520.9 563.6 521 563.6 520.7 C563.6 520.4 563.6 520.5 563.6 520.2 C563.7 519.9 563.7 520 563.8 519.7 C563.9 519.4 563.8 519.5 564 519.2 C564.1 518.9 564 519 564.2 518.7 C564.4 518.4 564.3 518.5 564.5 518.2 C564.8 517.9 564.6 518.1 564.9 517.8 C565.1 517.5 565 517.7 565.2 517.4 C565.5 517.2 565.4 517.3 565.6 517.1 C565.9 517 565.8 517 566 516.9 C566.3 516.8 566.2 516.8 566.4 516.8 C566.7 516.7 566.6 516.7 566.8 516.7 C567 516.7 566.9 516.7 567.1 516.7 C567.3 516.8 567.3 516.8 567.4 516.9" stroke-width="0.84" stroke="#444"/>
<path d="M553.1 508.6 C553.4 509.1 553.8 508.8 553.8 510.1 C553.8 511.3 553.9 511 553.1 512.3 C552.4 513.6 552.6 513.4 551.5 514 C550.5 514.6 550.5 514.1 549.9 514.1" stroke-width="0.6" stroke="#2f2f2f"/>
<path d="M554.6 509.4 C554.8 509.9 555.2 509.7 555.2 510.9 C555.2 512.1 555.3 511.8 554.6 513.1 C553.8 514.4 554 514.2 553 514.8 C551.9 515.4 551.9 514.9 551.4 515" stroke-width="0.6" stroke="#2f2f2f"/>
<path d="M556 510.3 C556.2 510.7 556.7 510.5 556.7 511.7 C556.7 512.9 556.8 512.6 556 513.9 C555.2 515.3 555.5 515 554.4 515.6 C553.3 516.3 553.3 515.7 552.8 515.8" stroke-width="0.6" stroke="#2f2f2f"/>
<path d="M557.4 511.1 C557.7 511.6 558.1 511.3 558.1 512.5 C558.1 513.8 558.2 513.5 557.4 514.8 C556.7 516.1 556.9 515.8 555.8 516.5 C554.8 517.1 554.8 516.6 554.2 516.6" stroke-width="0.6" stroke="#2f2f2f"/>
<path d="M558.9 511.9 C559.1 512.4 559.5 512.1 559.5 513.4 C559.5 514.6 559.6 514.3 558.9 515.6 C558.1 516.9 558.3 516.7 557.3 517.3 C556.2 517.9 556.2 517.4 555.7 517.4" stroke-width="0.6" stroke="#2f2f2f"/>
<path d="M560.3 512.7 C560.5 513.2 561 513 561 514.2 C560.9 515.4 561 515.1 560.3 516.4 C559.5 517.7 559.8 517.5 558.7 518.1 C557.6 518.7 557.6 518.2 557.1 518.3" stroke-width="0.6" stroke="#2f2f2f"/>
<path d="M561.7 513.6 C561.9 514 562.4 513.8 562.4 515 C562.4 516.2 562.5 515.9 561.7 517.2 C561 518.6 561.2 518.3 560.1 518.9 C559.1 519.6 559.1 519 558.5 519.1" stroke-width="0.6" stroke="#2f2f2f"/>
<path d="M563.1 514.4 C563.4 514.9 563.8 514.6 563.8 515.8 C563.8 517.1 563.9 516.8 563.1 518.1 C562.4 519.4 562.6 519.1 561.5 519.8 C560.5 520.4 560.5 519.9 559.9 519.9" stroke-width="0.6" stroke="#2f2f2f"/>
<path d="M564.6 515.2 C564.8 515.7 565.2 515.4 565.2 516.7 C565.2 517.9 565.3 517.6 564.6 518.9 C563.8 520.2 564 520 563 520.6 C561.9 521.2 561.9 520.7 561.4 520.7" stroke-width="0.6" stroke="#2f2f2f"/>
<path d="M566 516 C566.2 516.5 566.7 516.3 566.7 517.5 C566.7 518.7 566.8 518.4 566 519.7 C565.2 521 565.5 520.8 564.4 521.4 C563.3 522 563.3 521.5 562.8 521.6" stroke-width="0.6" stroke="#2f2f2f"/>
<path d="M574.2 532.8 L573.5 532.3 L573 531.5 L572.6 530.5 L572.4 529.4 L572.4 528.2 L572.6 526.8 L573 525.4 L573.5 524 L574.2 522.7 L575 521.4 L576 520.2 L577 519.2 L578.1 518.4 L579.2 517.7 L580.2 517.3 L581.2 517.2 L582.2 517.3 L583 517.6 L584.6 518.5 L585.3 519 L585.8 519.8 L586.2 520.8 L586.4 521.9 L586.4 523.1 L586.2 524.5 L585.8 525.9 L585.3 527.3 L584.6 528.6 L583.7 529.9 L582.8 531.1 L581.8 532.1 L580.7 532.9 L579.6 533.6 L578.6 534 L577.5 534.1 L576.6 534 L575.8 533.7Z" stroke-width="0.96" stroke="#444" fill="#9a9a9a"/>
<ellipse cx="580.2" cy="526.1" rx="5.1" ry="8.8" transform="rotate(30 580.2 526.1)" fill="#c4c4c4" stroke-width="1.08" stroke="#444"/>
<ellipse cx="580.2" cy="526.1" rx="2.7" ry="4.6" transform="rotate(30 580.2 526.1)" fill="#fff" stroke-width="1.08" stroke="#444"/>
</g>
<!-- p32_stator -->
<g fill="none" stroke="#505050" stroke-width="1.05" stroke-linecap="round" stroke-linejoin="round">
<path d="M607.7 649.7 L614.4 662.7 L598.8 653.7 L592.1 640.7Z" stroke-width="0.84" stroke="#4a4a4a" fill="#a9a9a9"/>
<path d="M609.1 652.3 L593.5 643.3" stroke-width="0.48" stroke="#8a8a8a"/>
<path d="M610.4 654.9 L594.8 645.9" stroke-width="0.48" stroke="#8a8a8a"/>
<path d="M611.7 657.5 L596.1 648.5" stroke-width="0.48" stroke="#8a8a8a"/>
<path d="M613.1 660.1 L597.5 651.1" stroke-width="0.48" stroke="#8a8a8a"/>
<path d="M620.4 634 L629.7 643.7 L614.4 662.7 L607.7 649.7Z" stroke-width="0.96" stroke="#444" fill="#9a9a9a"/>
<path d="M618.6 636.2 L627.5 646.4" stroke-width="0.72" stroke="#e6e6e6"/>
<path d="M616.8 638.5 L625.3 649.1" stroke-width="0.72" stroke="#e6e6e6"/>
<path d="M615 640.7 L623.1 651.8" stroke-width="0.72" stroke="#e6e6e6"/>
<path d="M613.1 643 L620.9 654.6" stroke-width="0.72" stroke="#e6e6e6"/>
<path d="M611.3 645.2 L618.8 657.3" stroke-width="0.72" stroke="#e6e6e6"/>
<path d="M609.5 647.4 L616.6 660" stroke-width="0.72" stroke="#e6e6e6"/>
<path d="M627.7 615.1 L642.3 614.4 L626.7 605.4 L612.1 606.1Z" stroke-width="0.84" stroke="#4a4a4a" fill="#a9a9a9"/>
<path d="M630.6 615 L615 606" stroke-width="0.48" stroke="#8a8a8a"/>
<path d="M633.5 614.8 L618 605.8" stroke-width="0.48" stroke="#8a8a8a"/>
<path d="M636.5 614.7 L620.9 605.7" stroke-width="0.48" stroke="#8a8a8a"/>
<path d="M639.4 614.5 L623.8 605.5" stroke-width="0.48" stroke="#8a8a8a"/>
<path d="M627.7 615.1 L642.3 614.4 L633.5 637.1 L620.4 633.9Z" stroke-width="0.96" stroke="#444" fill="#9a9a9a"/>
<path d="M626.7 617.8 L641 617.6" stroke-width="0.72" stroke="#e6e6e6"/>
<path d="M625.6 620.5 L639.8 620.9" stroke-width="0.72" stroke="#e6e6e6"/>
<path d="M624.6 623.2 L638.5 624.1" stroke-width="0.72" stroke="#e6e6e6"/>
<path d="M623.5 625.9 L637.3 627.4" stroke-width="0.72" stroke="#e6e6e6"/>
<path d="M622.5 628.5 L636 630.6" stroke-width="0.72" stroke="#e6e6e6"/>
<path d="M621.4 631.2 L634.7 633.8" stroke-width="0.72" stroke="#e6e6e6"/>
<path d="M593.1 658.2 L591.6 677.5 L576 668.5 L577.5 649.2Z" stroke-width="0.84" stroke="#4a4a4a" fill="#a9a9a9"/>
<path d="M592.8 662 L577.2 653" stroke-width="0.48" stroke="#8a8a8a"/>
<path d="M592.5 665.9 L576.9 656.9" stroke-width="0.48" stroke="#8a8a8a"/>
<path d="M592.2 669.8 L576.6 660.8" stroke-width="0.48" stroke="#8a8a8a"/>
<path d="M591.9 673.6 L576.3 664.6" stroke-width="0.48" stroke="#8a8a8a"/>
<path d="M607.7 649.7 L609.2 667.3 L591.6 677.5 L593.1 658.2Z" stroke-width="0.96" stroke="#444" fill="#9a9a9a"/>
<path d="M605.6 650.9 L606.7 668.8" stroke-width="0.72" stroke="#e6e6e6"/>
<path d="M603.5 652.1 L604.2 670.2" stroke-width="0.72" stroke="#e6e6e6"/>
<path d="M601.4 653.3 L601.6 671.7" stroke-width="0.72" stroke="#e6e6e6"/>
<path d="M599.3 654.6 L599.1 673.1" stroke-width="0.72" stroke="#e6e6e6"/>
<path d="M597.3 655.8 L596.6 674.6" stroke-width="0.72" stroke="#e6e6e6"/>
<path d="M595.2 657 L594.1 676" stroke-width="0.72" stroke="#e6e6e6"/>
<path d="M627.7 598.2 L643.7 587.2 L628.1 578.2 L612.1 589.2Z" stroke-width="0.84" stroke="#4a4a4a" fill="#a9a9a9"/>
<path d="M630.9 596 L615.3 587" stroke-width="0.48" stroke="#8a8a8a"/>
<path d="M634.1 593.8 L618.5 584.8" stroke-width="0.48" stroke="#8a8a8a"/>
<path d="M637.3 591.6 L621.7 582.6" stroke-width="0.48" stroke="#8a8a8a"/>
<path d="M640.5 589.4 L624.9 580.4" stroke-width="0.48" stroke="#8a8a8a"/>
<path d="M627.7 598.2 L643.7 587.2 L643.7 607.6 L627.7 615Z" stroke-width="0.96" stroke="#444" fill="#9a9a9a"/>
<path d="M627.7 600.6 L643.7 590.1" stroke-width="0.72" stroke="#e6e6e6"/>
<path d="M627.7 603 L643.7 593" stroke-width="0.72" stroke="#e6e6e6"/>
<path d="M627.7 605.4 L643.7 595.9" stroke-width="0.72" stroke="#e6e6e6"/>
<path d="M627.7 607.8 L643.7 598.8" stroke-width="0.72" stroke="#e6e6e6"/>
<path d="M627.7 610.2 L643.7 601.7" stroke-width="0.72" stroke="#e6e6e6"/>
<path d="M627.7 612.6 L643.7 604.7" stroke-width="0.72" stroke="#e6e6e6"/>
<path d="M580.4 657.1 L571.1 677.5 L555.5 668.5 L564.8 648.1Z" stroke-width="0.84" stroke="#4a4a4a" fill="#a9a9a9"/>
<path d="M578.6 661.1 L563 652.1" stroke-width="0.48" stroke="#8a8a8a"/>
<path d="M576.7 665.2 L561.1 656.2" stroke-width="0.48" stroke="#8a8a8a"/>
<path d="M574.8 669.3 L559.2 660.3" stroke-width="0.48" stroke="#8a8a8a"/>
<path d="M573 673.4 L557.4 664.4" stroke-width="0.48" stroke="#8a8a8a"/>
<path d="M593 658.2 L586.4 678.9 L571.1 677.5 L580.4 657.1Z" stroke-width="0.96" stroke="#444" fill="#9a9a9a"/>
<path d="M591.2 658 L584.2 678.7" stroke-width="0.72" stroke="#e6e6e6"/>
<path d="M589.4 657.9 L582 678.5" stroke-width="0.72" stroke="#e6e6e6"/>
<path d="M587.6 657.7 L579.8 678.3" stroke-width="0.72" stroke="#e6e6e6"/>
<path d="M585.8 657.5 L577.7 678.1" stroke-width="0.72" stroke="#e6e6e6"/>
<path d="M584 657.4 L575.5 677.9" stroke-width="0.72" stroke="#e6e6e6"/>
<path d="M582.2 657.2 L573.3 677.7" stroke-width="0.72" stroke="#e6e6e6"/>
<path d="M620.4 587.8 L633.5 569.5 L617.9 560.5 L604.8 578.8Z" stroke-width="0.84" stroke="#4a4a4a" fill="#a9a9a9"/>
<path d="M623 584.1 L607.4 575.1" stroke-width="0.48" stroke="#8a8a8a"/>
<path d="M625.6 580.5 L610.1 571.5" stroke-width="0.48" stroke="#8a8a8a"/>
<path d="M628.3 576.8 L612.7 567.8" stroke-width="0.48" stroke="#8a8a8a"/>
<path d="M630.9 573.1 L615.3 564.1" stroke-width="0.48" stroke="#8a8a8a"/>
<path d="M620.4 587.8 L633.5 569.5 L642.3 582 L627.7 598.1Z" stroke-width="0.96" stroke="#444" fill="#9a9a9a"/>
<path d="M621.5 589.3 L634.8 571.3" stroke-width="0.72" stroke="#e6e6e6"/>
<path d="M622.5 590.7 L636 573.1" stroke-width="0.72" stroke="#e6e6e6"/>
<path d="M623.5 592.2 L637.3 574.8" stroke-width="0.72" stroke="#e6e6e6"/>
<path d="M624.6 593.7 L638.5 576.6" stroke-width="0.72" stroke="#e6e6e6"/>
<path d="M625.6 595.2 L639.8 578.4" stroke-width="0.72" stroke="#e6e6e6"/>
<path d="M626.7 596.7 L641 580.2" stroke-width="0.72" stroke="#e6e6e6"/>
<path d="M607.8 586.6 L614.4 565.9 L598.8 556.9 L592.2 577.6Z" stroke-width="0.84" stroke="#4a4a4a" fill="#a9a9a9"/>
<path d="M609.1 582.5 L593.5 573.5" stroke-width="0.48" stroke="#8a8a8a"/>
<path d="M610.4 578.3 L594.8 569.3" stroke-width="0.48" stroke="#8a8a8a"/>
<path d="M611.8 574.2 L596.2 565.2" stroke-width="0.48" stroke="#8a8a8a"/>
<path d="M613.1 570.1 L597.5 561.1" stroke-width="0.48" stroke="#8a8a8a"/>
<path d="M614.4 565.9 L629.7 567.3 L614.1 558.3 L598.8 556.9Z" stroke-width="1.2" stroke="#3f3f3f" fill="#fff"/>
<path d="M607.8 586.6 L614.4 565.9 L629.7 567.3 L620.4 587.7Z" stroke-width="0.96" stroke="#444" fill="#9a9a9a"/>
<path d="M609.6 586.8 L616.6 566.1" stroke-width="0.72" stroke="#e6e6e6"/>
<path d="M611.4 586.9 L618.8 566.3" stroke-width="0.72" stroke="#e6e6e6"/>
<path d="M613.2 587.1 L621 566.5" stroke-width="0.72" stroke="#e6e6e6"/>
<path d="M615 587.3 L623.1 566.7" stroke-width="0.72" stroke="#e6e6e6"/>
<path d="M616.8 587.4 L625.3 566.9" stroke-width="0.72" stroke="#e6e6e6"/>
<path d="M618.6 587.6 L627.5 567.1" stroke-width="0.72" stroke="#e6e6e6"/>
<path d="M573.1 646.7 L558.5 662.8 L542.9 653.8 L557.5 637.7Z" stroke-width="0.84" stroke="#4a4a4a" fill="#a9a9a9"/>
<path d="M570.2 649.9 L554.6 640.9" stroke-width="0.48" stroke="#8a8a8a"/>
<path d="M567.3 653.1 L551.7 644.1" stroke-width="0.48" stroke="#8a8a8a"/>
<path d="M564.3 656.3 L548.7 647.3" stroke-width="0.48" stroke="#8a8a8a"/>
<path d="M561.4 659.6 L545.8 650.6" stroke-width="0.48" stroke="#8a8a8a"/>
<path d="M567.3 675.3 L558.5 662.8 L542.9 653.8 L551.7 666.3Z" stroke-width="1.2" stroke="#3f3f3f" fill="#fff"/>
<path d="M580.4 657 L567.3 675.3 L558.5 662.8 L573.1 646.7Z" stroke-width="0.96" stroke="#444" fill="#9a9a9a"/>
<path d="M579.3 655.5 L566 673.5" stroke-width="0.72" stroke="#e6e6e6"/>
<path d="M578.3 654.1 L564.8 671.7" stroke-width="0.72" stroke="#e6e6e6"/>
<path d="M577.3 652.6 L563.5 670" stroke-width="0.72" stroke="#e6e6e6"/>
<path d="M576.2 651.1 L562.3 668.2" stroke-width="0.72" stroke="#e6e6e6"/>
<path d="M575.2 649.6 L561 666.4" stroke-width="0.72" stroke="#e6e6e6"/>
<path d="M574.1 648.1 L559.8 664.6" stroke-width="0.72" stroke="#e6e6e6"/>
<path d="M573.1 629.8 L557.1 637.2 L541.5 628.2 L557.5 620.8Z" stroke-width="0.84" stroke="#4a4a4a" fill="#a9a9a9"/>
<path d="M569.9 631.3 L554.3 622.3" stroke-width="0.48" stroke="#8a8a8a"/>
<path d="M566.7 632.8 L551.1 623.8" stroke-width="0.48" stroke="#8a8a8a"/>
<path d="M563.5 634.2 L547.9 625.2" stroke-width="0.48" stroke="#8a8a8a"/>
<path d="M560.3 635.7 L544.7 626.7" stroke-width="0.48" stroke="#8a8a8a"/>
<path d="M557.1 657.6 L557.1 637.2 L541.5 628.2 L541.5 648.6Z" stroke-width="1.2" stroke="#3f3f3f" fill="#fff"/>
<path d="M573.1 646.6 L557.1 657.6 L557.1 637.2 L573.1 629.8Z" stroke-width="0.96" stroke="#444" fill="#9a9a9a"/>
<path d="M573.1 644.2 L557.1 654.7" stroke-width="0.72" stroke="#e6e6e6"/>
<path d="M573.1 641.8 L557.1 651.8" stroke-width="0.72" stroke="#e6e6e6"/>
<path d="M573.1 639.4 L557.1 648.9" stroke-width="0.72" stroke="#e6e6e6"/>
<path d="M573.1 637 L557.1 646" stroke-width="0.72" stroke="#e6e6e6"/>
<path d="M573.1 634.6 L557.1 643.1" stroke-width="0.72" stroke="#e6e6e6"/>
<path d="M573.1 632.2 L557.1 640.1" stroke-width="0.72" stroke="#e6e6e6"/>
<path d="M593.1 595.1 L591.6 577.5 L576 568.5 L577.5 586.1Z" stroke-width="0.84" stroke="#4a4a4a" fill="#a9a9a9"/>
<path d="M592.8 591.5 L577.2 582.5" stroke-width="0.48" stroke="#8a8a8a"/>
<path d="M592.5 588 L576.9 579" stroke-width="0.48" stroke="#8a8a8a"/>
<path d="M592.2 584.5 L576.6 575.5" stroke-width="0.48" stroke="#8a8a8a"/>
<path d="M591.9 581 L576.3 572" stroke-width="0.48" stroke="#8a8a8a"/>
<path d="M591.6 577.5 L609.2 567.3 L593.6 558.3 L576 568.5Z" stroke-width="1.2" stroke="#3f3f3f" fill="#fff"/>
<path d="M593.1 595.1 L591.6 577.5 L609.2 567.3 L607.7 586.6Z" stroke-width="0.96" stroke="#444" fill="#9a9a9a"/>
<path d="M595.2 593.9 L594.1 576" stroke-width="0.72" stroke="#e6e6e6"/>
<path d="M597.3 592.7 L596.6 574.6" stroke-width="0.72" stroke="#e6e6e6"/>
<path d="M599.4 591.5 L599.2 573.1" stroke-width="0.72" stroke="#e6e6e6"/>
<path d="M601.5 590.2 L601.7 571.7" stroke-width="0.72" stroke="#e6e6e6"/>
<path d="M603.5 589 L604.2 570.2" stroke-width="0.72" stroke="#e6e6e6"/>
<path d="M605.6 587.8 L606.7 568.8" stroke-width="0.72" stroke="#e6e6e6"/>
<path d="M580.4 610.9 L567.3 607.7 L551.7 598.7 L564.8 601.9Z" stroke-width="0.84" stroke="#4a4a4a" fill="#a9a9a9"/>
<path d="M577.8 610.3 L562.2 601.3" stroke-width="0.48" stroke="#8a8a8a"/>
<path d="M575.2 609.6 L559.6 600.6" stroke-width="0.48" stroke="#8a8a8a"/>
<path d="M572.5 609 L557 600" stroke-width="0.48" stroke="#8a8a8a"/>
<path d="M569.9 608.3 L554.3 599.3" stroke-width="0.48" stroke="#8a8a8a"/>
<path d="M558.5 630.4 L567.3 607.7 L551.7 598.7 L542.9 621.4Z" stroke-width="1.2" stroke="#3f3f3f" fill="#fff"/>
<path d="M573.1 629.7 L558.5 630.4 L567.3 607.7 L580.4 610.9Z" stroke-width="0.96" stroke="#444" fill="#9a9a9a"/>
<path d="M574.1 627 L559.8 627.2" stroke-width="0.72" stroke="#e6e6e6"/>
<path d="M575.2 624.3 L561 623.9" stroke-width="0.72" stroke="#e6e6e6"/>
<path d="M576.2 621.6 L562.3 620.7" stroke-width="0.72" stroke="#e6e6e6"/>
<path d="M577.3 618.9 L563.5 617.4" stroke-width="0.72" stroke="#e6e6e6"/>
<path d="M578.3 616.3 L564.8 614.2" stroke-width="0.72" stroke="#e6e6e6"/>
<path d="M579.4 613.6 L566.1 611" stroke-width="0.72" stroke="#e6e6e6"/>
<path d="M580.4 610.8 L571.1 601.1 L555.5 592.1 L564.8 601.8Z" stroke-width="0.84" stroke="#4a4a4a" fill="#a9a9a9"/>
<path d="M578.6 608.9 L563 599.9" stroke-width="0.48" stroke="#8a8a8a"/>
<path d="M576.7 606.9 L561.1 597.9" stroke-width="0.48" stroke="#8a8a8a"/>
<path d="M574.9 605 L559.3 596" stroke-width="0.48" stroke="#8a8a8a"/>
<path d="M573 603 L557.4 594" stroke-width="0.48" stroke="#8a8a8a"/>
<path d="M571.1 601.1 L586.4 582.1 L570.8 573.1 L555.5 592.1Z" stroke-width="1.2" stroke="#3f3f3f" fill="#fff"/>
<path d="M580.4 610.8 L571.1 601.1 L586.4 582.1 L593.1 595.1Z" stroke-width="0.96" stroke="#444" fill="#9a9a9a"/>
<path d="M582.2 608.6 L573.3 598.4" stroke-width="0.72" stroke="#e6e6e6"/>
<path d="M584 606.3 L575.5 595.7" stroke-width="0.72" stroke="#e6e6e6"/>
<path d="M585.8 604.1 L577.7 593" stroke-width="0.72" stroke="#e6e6e6"/>
<path d="M587.7 601.8 L579.9 590.2" stroke-width="0.72" stroke="#e6e6e6"/>
<path d="M589.5 599.6 L582 587.5" stroke-width="0.72" stroke="#e6e6e6"/>
<path d="M591.3 597.4 L584.2 584.8" stroke-width="0.72" stroke="#e6e6e6"/>
<ellipse cx="600.4" cy="622.4" rx="24.2" ry="42" transform="rotate(30 600.4 622.4)" fill="#fff" stroke-width="1.32" stroke="#3f3f3f"/>
<ellipse cx="601.4" cy="623.4" rx="15.3" ry="26.5" transform="rotate(30 601.4 623.4)" fill="#fff" stroke-width="1.32" stroke="#3f3f3f"/>
<path d="M609.8 598.1 C610.4 598.9 610.5 598.7 611.5 600.4 C612.4 602.2 612 601.3 612.6 603.3 C613.1 605.4 612.9 604.3 613.1 606.7 C613.3 609.1 613.3 607.9 613.1 610.5 C612.9 613.1 613.1 611.8 612.6 614.5 C612 617.3 612.4 615.9 611.4 618.7 C610.5 621.5 611.1 620.2 609.8 622.9 C608.6 625.7 609.2 624.4 607.7 627 C606.2 629.7 607 628.5 605.2 630.9 C603.4 633.4 604.3 632.2 602.4 634.4 C600.4 636.6 601.4 635.6 599.3 637.5 C597.2 639.4 598.3 638.5 596.1 640 C593.9 641.5 595 640.9 592.8 641.9 C590.7 642.9 591.7 642.5 589.6 643.1 C587.5 643.7 588.5 643.5 586.5 643.6 C584.6 643.7 585.5 643.7 583.7 643.3 C581.9 642.9 582.8 643.2 581.2 642.3 C579.7 641.5 579.8 641.2 579.1 640.7" stroke-width="0.96" stroke="#555"/>
<ellipse cx="618" cy="594" rx="3" ry="5.2" transform="rotate(30 618 594)" stroke-width="1.2" stroke="#3f3f3f"/>
<path d="M619.9 589.2 C620.1 589.7 620.4 589.5 620.5 590.6 C620.7 591.8 620.7 591.3 620.4 592.7 C620 594.1 620.3 593.5 619.5 594.9 C618.7 596.2 619.1 595.7 618 596.7 C617 597.7 617.4 597.4 616.3 597.9 C615.3 598.3 615.3 598 614.8 598" stroke-width="0.72" stroke="#666"/>
<ellipse cx="577.6" cy="626" rx="3" ry="5.2" transform="rotate(30 577.6 626)" stroke-width="1.2" stroke="#3f3f3f"/>
<path d="M579.5 621.2 C579.7 621.7 580 621.5 580.1 622.6 C580.3 623.8 580.3 623.3 580 624.7 C579.6 626.1 579.9 625.5 579.1 626.9 C578.3 628.2 578.7 627.7 577.6 628.7 C576.6 629.7 577 629.4 575.9 629.9 C574.9 630.3 574.9 630 574.4 630" stroke-width="0.72" stroke="#666"/>
<ellipse cx="613" cy="641" rx="3" ry="5.2" transform="rotate(30 613 641)" stroke-width="1.2" stroke="#3f3f3f"/>
<path d="M614.9 636.2 C615.1 636.7 615.4 636.5 615.5 637.6 C615.7 638.8 615.7 638.3 615.4 639.7 C615 641.1 615.3 640.5 614.5 641.9 C613.7 643.2 614.1 642.7 613 643.7 C612 644.7 612.4 644.4 611.3 644.9 C610.3 645.3 610.3 645 609.8 645" stroke-width="0.72" stroke="#666"/>
<path d="M676.5 580 C676.7 584.7 678.2 584 677 594 C675.8 604 677.3 600 673 610 C668.7 620 671.7 616 664 624 C656.3 632 660 628.5 650 634 C640 639.5 639.3 638.3 634 640.5" stroke-width="6.24" stroke="#4a4a4a"/>
<path d="M676.5 580 C676.7 584.7 678.2 584 677 594 C675.8 604 677.3 600 673 610 C668.7 620 671.7 616 664 624 C656.3 632 660 628.5 650 634 C640 639.5 639.3 638.3 634 640.5" stroke-width="4.08" stroke="#fff"/>
<path d="M663 486 L664.5 502 L668 507 L682 514 L696 506 L698 485" stroke-width="1.2" stroke="#3f3f3f" fill="#fff"/>
<path d="M663 486 L681 476 L698 485 L679.5 497Z" stroke-width="1.2" stroke="#3f3f3f" fill="#fff"/>
<path d="M679.5 497 L681 514" stroke-width="1.08" stroke="#3f3f3f"/>
<path d="M667 486 L672.6 482.8 L678 485.8 L672.4 489.4Z" stroke-width="0.96" stroke="#444" fill="#e9e9e9"/>
<path d="M675.6 481.2 L681.2 478 L686.6 481 L681 484.6Z" stroke-width="0.96" stroke="#444" fill="#e9e9e9"/>
<path d="M675.4 490.4 L681 487.2 L686.4 490.2 L680.8 493.8Z" stroke-width="0.96" stroke="#444" fill="#e9e9e9"/>
<path d="M684 485.6 L689.6 482.4 L695 485.4 L689.4 489Z" stroke-width="0.96" stroke="#444" fill="#e9e9e9"/>
<path d="M686 494 L687 510" stroke-width="0.84" stroke="#555"/>
<path d="M690 491.5 L691 508" stroke-width="0.84" stroke="#555"/>
<path d="M694 489 L694.6 506.4" stroke-width="0.84" stroke="#555"/>
<path d="M668 507 L670 511 L678 515 L682 514" stroke-width="0.96" stroke="#444"/>
<path d="M678 516 L678.6 547" stroke-width="1.08" stroke="#444"/>
<path d="M683.4 516 L684 547" stroke-width="1.08" stroke="#444"/>
<path d="M678.6 552 L679 568" stroke-width="1.08" stroke="#444"/>
<path d="M684 552 L684.2 568" stroke-width="1.08" stroke="#444"/>
<ellipse cx="681" cy="517.5" rx="2.8" ry="1.3" stroke-width="0.96" stroke="#444" fill="#aaa"/>
<path d="M707.5 473 C707.8 466.7 707.3 470.1 709 468.5 C710.7 466.9 711.3 466.9 714 467 C716.7 467.1 717.4 467.1 719 469 C720.6 470.9 719.9 468.9 720 474 C720.1 479.1 720.2 482.7 719.4 488 C718.6 493.3 719.1 492 717 494 C714.9 496 713.8 496.1 711.4 495.6 C709 495.1 709 498 708 492 C707 486 707.2 479.3 707.5 473Z" stroke-width="1.2" stroke="#3f3f3f" fill="#d0d0d0"/>
<path d="M709.5 474 L713 472.6 L713.6 486 L710 487.4Z" stroke-width="0.72" stroke="#333" fill="#8a8a8a"/>
<path d="M715.5 470 L716.6 489" stroke-width="1.44" stroke="#333"/>
<path d="M708 489 L713 491.4 L719.4 488" stroke-width="0.96" stroke="#333"/>
<path d="M714 496 C714.2 501.3 714.7 502 714.6 512 C714.5 522 715.8 517.3 713.6 526 C711.4 534.7 712.9 532 708 538 C703.1 544 704.7 543 699 544 C693.3 545 695.3 545 691 541 C686.7 537 688.2 537.7 686 532 C683.8 526.3 684.9 526.7 684.4 524" stroke-width="4.32" stroke="#4a4a4a"/>
<path d="M714 496 C714.2 501.3 714.7 502 714.6 512 C714.5 522 715.8 517.3 713.6 526 C711.4 534.7 712.9 532 708 538 C703.1 544 704.7 543 699 544 C693.3 545 695.3 545 691 541 C686.7 537 688.2 537.7 686 532 C683.8 526.3 684.9 526.7 684.4 524" stroke-width="2.4" stroke="#fff"/>
<ellipse cx="679.5" cy="578.1" rx="13" ry="6" fill="#777" stroke-width="1.08" stroke="#333"/>
<path d="M666.5 574.5 L666.5 578 M692.5 574.5 L692.5 578" stroke-width="1.08" stroke="#333"/>
<ellipse cx="679.5" cy="574.5" rx="13" ry="6" fill="#e3e3e3" stroke-width="1.2" stroke="#333"/>
<ellipse cx="680.5" cy="573.5" rx="4.2" ry="2.2" fill="#9a9a9a" stroke-width="0.96" stroke="#333"/>
</g>
<!-- p40_pickup -->
<g fill="none" stroke="#505050" stroke-width="1.05" stroke-linecap="round" stroke-linejoin="round">
<path d="M744.6 427.9 L744.2 427.6 L743.9 427.1 L743.6 426.5 L743.5 425.9 L743.5 425.1 L743.6 424.4 L743.9 423.5 L744.2 422.7 L744.6 421.9 L745.1 421.1 L745.6 420.5 L746.2 419.8 L746.9 419.4 L747.5 419 L748.2 418.7 L748.8 418.7 L749.3 418.7 L749.8 418.9 L757.1 423.1 L757.5 423.4 L757.8 423.9 L758 424.5 L758.1 425.1 L758.1 425.9 L758 426.6 L757.8 427.5 L757.5 428.3 L757.1 429.1 L756.6 429.9 L756 430.5 L755.4 431.2 L754.8 431.6 L754.2 432 L753.5 432.3 L752.9 432.3 L752.4 432.3 L751.9 432.1Z" stroke-width="1.2" stroke="#3f3f3f" fill="#fff"/>
<path d="M751.9 432.1 C751.7 432 751.7 432 751.5 431.8 C751.2 431.5 751.3 431.7 751.1 431.3 C751 431 751 431.2 750.9 430.7 C750.8 430.3 750.8 430.6 750.8 430.1 C750.8 429.6 750.8 429.9 750.8 429.3 C750.9 428.8 750.8 429.1 750.9 428.6 C751 428 751 428.3 751.1 427.7 C751.3 427.2 751.2 427.4 751.5 426.9 C751.7 426.4 751.6 426.6 751.9 426.1 C752.2 425.6 752 425.8 752.4 425.3 C752.7 424.9 752.5 425.1 752.9 424.7 C753.3 424.2 753.1 424.4 753.5 424 C753.9 423.7 753.7 423.8 754.2 423.6 C754.6 423.3 754.4 423.4 754.8 423.2 C755.2 423 755 423.1 755.4 422.9 C755.8 422.8 755.6 422.9 756 422.9 C756.4 422.8 756.2 422.8 756.6 422.9 C756.9 423 756.9 423 757.1 423.1" stroke-width="1.2" stroke="#3f3f3f"/>
<ellipse cx="754.5" cy="427.6" rx="3" ry="5.2" transform="rotate(30 754.5 427.6)" fill="#e8e8e8" stroke-width="1.2" stroke="#3f3f3f"/>
<ellipse cx="754.5" cy="427.6" rx="2" ry="3.4" transform="rotate(30 754.5 427.6)" fill="#fff" stroke-width="1.08" stroke="#444"/>
<path d="M776.5 441.9 C777.2 439.9 776.4 440.3 780.4 436.8 C784.3 433.3 793.9 426.4 798.2 422.8 C802.5 419.2 802.3 418.4 803.9 417.1 C805.5 415.8 806 415.8 807.1 415.8 C808.2 415.8 809.1 416 809.9 417.1 C810.6 418.1 811.1 419.9 811.2 421.5 C811.2 423.2 812.7 423 810.3 426 C807.9 429 802.1 434.1 798.2 438.1 C794.2 442.1 791.1 445.5 788.6 447.6 C786.2 449.8 786.5 449.2 784.8 449.8 C783.2 450.4 781.2 451.5 779.7 451.1 C778.3 450.7 777.5 449.3 776.9 447.6 C776.3 446 775.9 443.9 776.5 441.9Z" stroke-width="1.44" stroke="#3f3f3f" fill="#fff"/>
<ellipse cx="783.5" cy="444.5" rx="2.4" ry="3" transform="rotate(30 783.5 444.5)" stroke-width="1.08" stroke="#555" fill="#ddd"/>
<ellipse cx="805.3" cy="420.9" rx="2.6" ry="2" stroke-width="1.08" stroke="#555"/>
<path d="M802 424.1 C802.6 422.6 802 421.3 803.9 419.6 C805.8 417.9 806 417.9 807.7 419 C809.4 420.1 808.6 421.5 809 422.8" stroke-width="0.84" stroke="#666"/>
<path d="M787.4 436.2 L798.2 424.1 L809.6 426.6 L816 447 L803.3 461 L789.9 455.9Z" stroke-width="1.32" stroke="#3f3f3f" fill="#fff"/>
<path d="M787.4 436.2 L796.3 438.7 L809.6 426.6" stroke-width="1.2" stroke="#3f3f3f"/>
<path d="M796.3 438.7 L803.3 461" stroke-width="1.2" stroke="#3f3f3f"/>
<path d="M796 455.7 L798.2 454.9 L804.8 459.7 L803.9 463.3 L801.4 462.5Z" stroke-width="0.96" stroke="#333" fill="#5a5a5a"/>
<path d="M789.9 455.9 L790.5 457.8 L796.3 460" stroke-width="1.08" stroke="#444"/>
<path d="M803.9 462.3 L818.8 448 L817.9 445.5 L816 447" stroke-width="1.92" stroke="#444"/>
<path d="M809.9 458.2 C811.5 459.5 811.4 459.4 814.7 462 C818 464.6 816.2 462.8 819.8 466.1 C823.4 469.4 821.9 467.9 825.5 471.8 C829.2 475.7 828.9 475.8 830.6 477.8" stroke-width="4.08" stroke="#4a4a4a"/>
<path d="M809.9 458.2 C811.5 459.5 811.4 459.4 814.7 462 C818 464.6 816.2 462.8 819.8 466.1 C823.4 469.4 821.9 467.9 825.5 471.8 C829.2 475.7 828.9 475.8 830.6 477.8" stroke-width="2.16" stroke="#f4f4f4"/>
<path d="M791.7 484.2 L791.3 483.8 L790.9 483.3 L790.6 482.6 L790.5 481.9 L790.5 481 L790.6 480.1 L790.9 479.2 L791.3 478.2 L791.7 477.3 L792.3 476.4 L792.9 475.6 L793.6 474.9 L794.4 474.3 L795.1 473.9 L795.8 473.6 L796.5 473.5 L797.2 473.6 L797.7 473.8 L798.8 474.4 L799.2 474.8 L799.6 475.3 L799.9 476 L800 476.7 L800 477.6 L799.9 478.5 L799.6 479.4 L799.2 480.4 L798.8 481.3 L798.2 482.2 L797.6 483 L796.9 483.7 L796.1 484.3 L795.4 484.7 L794.7 485 L794 485.1 L793.3 485 L792.8 484.8Z" stroke-width="0.96" stroke="#555" fill="#b5b5b5"/>
<ellipse cx="795.6" cy="479.5" rx="3.5" ry="6" transform="rotate(30 795.6 479.5)" fill="#e2e2e2" stroke-width="0.96" stroke="#555"/>
<ellipse cx="795.6" cy="479.5" rx="1.7" ry="3" transform="rotate(30 795.6 479.5)" fill="#fff" stroke-width="0.96" stroke="#555"/>
<path d="M799.9 484.7 L799.7 484.6 L799.6 484.4 L799.5 484.1 L799.5 483.9 L799.5 483.5 L799.5 483.2 L799.6 482.9 L799.7 482.5 L799.9 482.2 L800.1 481.8 L800.3 481.6 L800.6 481.3 L800.9 481.1 L801.1 480.9 L801.4 480.8 L801.7 480.8 L801.9 480.8 L802.1 480.9 L814.8 488.2 L815 488.4 L815.1 488.5 L815.2 488.8 L815.2 489.1 L815.2 489.4 L815.2 489.7 L815.1 490.1 L815 490.4 L814.8 490.8 L814.6 491.1 L814.3 491.4 L814.1 491.6 L813.8 491.8 L813.5 492 L813.3 492.1 L813 492.1 L812.8 492.1 L812.6 492Z" stroke-width="0.84" stroke="#444" fill="#8a8a8a"/>
<path d="M801.3 485.5 C801.2 485.2 800.9 485.4 800.9 484.5 C800.9 483.7 800.8 483.9 801.3 483 C801.8 482.1 801.7 482.2 802.4 481.8 C803.1 481.4 803.1 481.7 803.5 481.7" stroke-width="0.6" stroke="#333"/>
<path d="M802.7 486.3 C802.6 486 802.3 486.2 802.3 485.3 C802.3 484.5 802.2 484.7 802.7 483.8 C803.2 482.9 803.1 483.1 803.8 482.6 C804.6 482.2 804.6 482.6 804.9 482.5" stroke-width="0.6" stroke="#333"/>
<path d="M804.1 487.1 C804 486.8 803.7 487 803.7 486.1 C803.7 485.3 803.6 485.5 804.1 484.6 C804.6 483.7 804.5 483.9 805.2 483.4 C806 483 806 483.4 806.3 483.3" stroke-width="0.6" stroke="#333"/>
<path d="M805.5 488 C805.4 487.6 805.1 487.8 805.1 487 C805.1 486.1 805 486.3 805.5 485.4 C806.1 484.5 805.9 484.7 806.6 484.3 C807.4 483.8 807.4 484.2 807.7 484.1" stroke-width="0.6" stroke="#333"/>
<path d="M806.9 488.8 C806.8 488.4 806.5 488.6 806.5 487.8 C806.5 486.9 806.4 487.1 806.9 486.2 C807.5 485.3 807.3 485.5 808 485.1 C808.8 484.6 808.8 485 809.1 485" stroke-width="0.6" stroke="#333"/>
<path d="M808.4 489.6 C808.2 489.2 807.9 489.4 807.9 488.6 C807.9 487.7 807.8 487.9 808.4 487 C808.9 486.1 808.7 486.3 809.5 485.9 C810.2 485.5 810.2 485.8 810.6 485.8" stroke-width="0.6" stroke="#333"/>
<path d="M809.8 490.4 C809.6 490.1 809.3 490.2 809.3 489.4 C809.3 488.5 809.2 488.8 809.8 487.9 C810.3 487 810.1 487.1 810.9 486.7 C811.6 486.3 811.6 486.6 812 486.6" stroke-width="0.6" stroke="#333"/>
<path d="M811.2 491.2 C811 490.9 810.7 491.1 810.7 490.2 C810.7 489.4 810.7 489.6 811.2 488.7 C811.7 487.8 811.5 487.9 812.3 487.5 C813 487.1 813 487.4 813.4 487.4" stroke-width="0.6" stroke="#333"/>
<path d="M811.5 493.9 L811.1 493.6 L810.9 493.2 L810.7 492.7 L810.6 492.1 L810.6 491.4 L810.7 490.7 L810.9 490 L811.1 489.3 L811.5 488.6 L811.9 487.9 L812.4 487.3 L813 486.8 L813.5 486.3 L814.1 486 L814.6 485.8 L815.2 485.7 L815.7 485.7 L816.1 485.9 L818.7 487.4 L819.1 487.7 L819.3 488.1 L819.5 488.6 L819.6 489.2 L819.6 489.9 L819.5 490.6 L819.3 491.3 L819.1 492 L818.7 492.7 L818.3 493.4 L817.8 494 L817.2 494.5 L816.7 495 L816.1 495.3 L815.6 495.5 L815 495.6 L814.5 495.6 L814.1 495.4Z" stroke-width="0.96" stroke="#444" fill="#b5b5b5"/>
<ellipse cx="816.4" cy="491.4" rx="2.7" ry="4.6" transform="rotate(30 816.4 491.4)" fill="#d2d2d2" stroke-width="0.96" stroke="#444"/>
<ellipse cx="816.4" cy="491.4" rx="1.3" ry="2.3" transform="rotate(30 816.4 491.4)" fill="#8c8c8c" stroke-width="0.72" stroke="#444"/>
<path d="M861.8 435.7 L861.4 435.4 L861.1 434.9 L860.8 434.3 L860.7 433.7 L860.7 432.9 L860.8 432.2 L861.1 431.3 L861.4 430.5 L861.8 429.7 L862.3 428.9 L862.8 428.3 L863.4 427.6 L864.1 427.2 L864.7 426.8 L865.4 426.5 L866 426.5 L866.5 426.5 L867 426.7 L870.5 428.7 L870.9 429 L871.2 429.5 L871.4 430.1 L871.5 430.7 L871.5 431.5 L871.4 432.2 L871.2 433.1 L870.9 433.9 L870.5 434.7 L870 435.5 L869.4 436.1 L868.8 436.8 L868.2 437.2 L867.5 437.6 L866.9 437.9 L866.3 437.9 L865.8 437.9 L865.3 437.7Z" stroke-width="1.08" stroke="#444" fill="#f2f2f2"/>
<path d="M865.3 437.7 C865.1 437.6 865.1 437.6 864.9 437.4 C864.6 437.1 864.7 437.3 864.5 436.9 C864.4 436.6 864.4 436.8 864.3 436.3 C864.2 435.9 864.2 436.2 864.2 435.7 C864.2 435.2 864.2 435.5 864.2 434.9 C864.2 434.4 864.2 434.7 864.3 434.2 C864.4 433.6 864.4 433.9 864.5 433.3 C864.7 432.8 864.6 433 864.9 432.5 C865.1 432 865 432.2 865.3 431.7 C865.6 431.2 865.4 431.4 865.8 430.9 C866.1 430.5 865.9 430.7 866.3 430.3 C866.7 429.8 866.5 430 866.9 429.6 C867.3 429.3 867.1 429.4 867.5 429.2 C868 428.9 867.8 429 868.2 428.8 C868.6 428.6 868.4 428.7 868.8 428.5 C869.2 428.4 869 428.5 869.4 428.5 C869.8 428.4 869.6 428.4 870 428.5 C870.3 428.6 870.3 428.6 870.5 428.7" stroke-width="1.08" stroke="#444"/>
<path d="M862.8 436.3 C862.7 436.2 862.7 436.2 862.4 436 C862.2 435.7 862.3 435.9 862.1 435.5 C861.9 435.2 862 435.4 861.9 434.9 C861.8 434.5 861.8 434.8 861.8 434.3 C861.7 433.8 861.7 434.1 861.8 433.5 C861.8 433 861.8 433.3 861.9 432.8 C862 432.2 861.9 432.5 862.1 431.9 C862.3 431.4 862.2 431.6 862.4 431.1 C862.7 430.6 862.5 430.8 862.8 430.3 C863.1 429.8 863 430 863.3 429.5 C863.7 429.1 863.5 429.3 863.9 428.9 C864.3 428.4 864.1 428.6 864.5 428.2 C864.9 427.9 864.7 428 865.1 427.8 C865.5 427.5 865.3 427.6 865.8 427.4 C866.2 427.2 866 427.3 866.4 427.1 C866.8 427 866.6 427.1 867 427.1 C867.4 427 867.2 427 867.5 427.1 C867.9 427.2 867.9 427.2 868 427.3" stroke-width="0.6" stroke="#777"/>
<path d="M866.8 435.1 L866.6 435 L866.5 434.8 L866.4 434.5 L866.3 434.3 L866.3 433.9 L866.4 433.6 L866.5 433.3 L866.6 432.9 L866.8 432.6 L867 432.2 L867.2 432 L867.5 431.7 L867.7 431.5 L868 431.3 L868.3 431.2 L868.5 431.2 L868.8 431.2 L869 431.3 L873.8 434.1 L874 434.2 L874.1 434.4 L874.2 434.7 L874.3 435 L874.3 435.3 L874.2 435.6 L874.1 436 L874 436.3 L873.8 436.6 L873.6 437 L873.4 437.3 L873.1 437.5 L872.9 437.7 L872.6 437.9 L872.3 438 L872.1 438 L871.8 438 L871.6 437.9Z" stroke-width="0.96" stroke="#444" fill="#e9e9e9"/>
<path d="M871.3 437.7 L871.1 437.6 L871 437.4 L870.9 437.2 L870.9 436.9 L870.9 436.6 L870.9 436.2 L871 435.9 L871.1 435.5 L871.3 435.2 L871.5 434.9 L871.8 434.6 L872 434.3 L872.3 434.1 L872.5 434 L872.8 433.9 L873.1 433.8 L873.3 433.8 L873.5 433.9 L879.8 437.5 L880 437.7 L880.1 437.9 L880.2 438.1 L880.2 438.4 L880.2 438.7 L880.2 439 L880.1 439.4 L880 439.7 L879.8 440.1 L879.6 440.4 L879.3 440.7 L879.1 440.9 L878.8 441.2 L878.5 441.3 L878.3 441.4 L878 441.5 L877.8 441.4 L877.6 441.4Z" stroke-width="0.84" stroke="#444" fill="#8e8e8e"/>
<path d="M877.6 441.4 C877.5 441.3 877.5 441.3 877.4 441.2 C877.3 441.1 877.4 441.2 877.3 441 C877.2 440.9 877.2 441 877.2 440.8 C877.1 440.6 877.2 440.7 877.1 440.5 C877.1 440.3 877.1 440.4 877.1 440.2 C877.2 440 877.1 440.1 877.2 439.9 C877.2 439.6 877.2 439.7 877.3 439.5 C877.4 439.3 877.3 439.4 877.4 439.2 C877.5 438.9 877.5 439 877.6 438.8 C877.7 438.6 877.6 438.7 877.8 438.5 C877.9 438.3 877.9 438.4 878 438.2 C878.2 438 878.1 438.1 878.3 437.9 C878.5 437.8 878.4 437.9 878.5 437.7 C878.7 437.6 878.6 437.7 878.8 437.6 C879 437.5 878.9 437.5 879.1 437.5 C879.3 437.4 879.2 437.4 879.3 437.4 C879.5 437.4 879.4 437.4 879.6 437.5 C879.7 437.5 879.7 437.5 879.8 437.5" stroke-width="0.84" stroke="#444"/>
<path d="M873.5 433.9 C873.7 434.3 874 434.1 874 434.9 C874 435.8 874 435.6 873.5 436.5 C873 437.4 873.1 437.2 872.4 437.6 C871.7 438 871.7 437.7 871.3 437.7" stroke-width="0.6" stroke="#2f2f2f"/>
<path d="M875.1 434.8 C875.2 435.2 875.5 435 875.5 435.8 C875.5 436.7 875.6 436.5 875.1 437.4 C874.6 438.3 874.7 438.1 874 438.5 C873.2 438.9 873.2 438.6 872.9 438.6" stroke-width="0.6" stroke="#2f2f2f"/>
<path d="M876.6 435.7 C876.8 436.1 877.1 435.9 877.1 436.7 C877.1 437.6 877.2 437.4 876.6 438.3 C876.1 439.2 876.3 439 875.5 439.4 C874.8 439.9 874.8 439.5 874.4 439.5" stroke-width="0.6" stroke="#2f2f2f"/>
<path d="M878.2 436.6 C878.4 437 878.7 436.8 878.7 437.6 C878.7 438.5 878.7 438.3 878.2 439.2 C877.7 440.1 877.8 439.9 877.1 440.3 C876.4 440.8 876.4 440.4 876 440.4" stroke-width="0.6" stroke="#2f2f2f"/>
<path d="M883.2 443.2 C883.7 441.2 884 439.6 885.4 438.3 C886.7 437.1 888.2 436.6 889.8 436.8 C891.5 437 892.7 437.6 893.6 439.4 C894.5 441.1 894.3 441.9 894.3 445.7 C894.3 449.5 893.2 455 893.6 458.5 C894.1 461.9 896 460.4 896.4 462.9 C896.9 465.5 896.2 468.1 895.9 471.2 C895.6 474.2 896 476.1 894.9 478.2 C893.8 480.3 891.9 481.4 890.5 481.6 C889.1 481.9 888.5 480.4 887.9 479.5 C887.3 478.5 888 477.5 887.3 476.9 C886.5 476.3 885 477.4 884.1 476.3 C883.2 475.1 883 473.5 882.9 471.2 C882.9 468.9 883.7 467.4 883.7 464.8 C883.8 462.3 883.1 460.6 883.2 458.5 C883.3 456.3 884.1 456 884.1 454 C884 452 883.1 450.4 882.9 448.3 C882.8 446.1 882.7 445.2 883.2 443.2Z" stroke-width="1.44" stroke="#3f3f3f" fill="#fff"/>
<ellipse cx="888.8" cy="443.6" rx="3.4" ry="4.4" transform="rotate(20 888.8 443.6)" fill="#fff" stroke-width="1.2" stroke="#3f3f3f"/>
<path d="M884.1 454 L888.5 453.4 L893 459.1" stroke-width="1.08" stroke="#444"/>
<path d="M883.7 464.8 L887.3 462.3 L893.6 459.1" stroke-width="1.08" stroke="#444"/>
<path d="M887.9 479.5 L887.3 471.2 L889.2 466.1" stroke-width="1.08" stroke="#444"/>
<path d="M891.7 480.1 L891.1 471.2 L895.9 464.8" stroke-width="0.96" stroke="#555"/>
<path d="M885.4 449.5 L887.9 452.1" stroke-width="1.68" stroke="#444"/>
</g>
<!-- p50_cover -->
<g fill="none" stroke="#505050" stroke-width="1.05" stroke-linecap="round" stroke-linejoin="round">
<path d="M952 419 C955.3 413.6 955.2 414 960 408 C964.8 402 962.6 403.8 968 399 C973.4 394.2 972 394.8 978 392 C984 389.2 982 389.6 988 389.6 C994 389.6 993.2 389.5 998 392 C1002.8 394.5 1001 394.4 1004 398 C1007 401.6 1005.6 401.3 1008 404 C1010.4 406.7 1009.9 404 1012 407 C1014.1 410 1014.4 409.2 1015 414 C1015.6 418.8 1015.5 418.2 1014 423 C1012.5 427.8 1013 426.4 1010 430 C1007 433.6 1007 432.6 1004 435 C1001 437.4 1003 435.3 1000 438 C997 440.7 997 440.1 994 444 C991 447.9 992.1 447.4 990 451 C987.9 454.6 988.8 453 987 456 C985.2 459 985.2 457.4 984 461 C982.8 464.6 982.7 462.9 983 468 C983.3 473.1 983.5 473.2 985 478 C986.5 482.8 986 480.7 988 484 C990 487.3 989 484.6 991.5 489 C994 493.4 992.7 493.7 996.3 498.8 C999.9 503.9 999.9 500.2 1003.5 506 C1007.1 511.8 1006.1 510.1 1008.3 518 C1010.5 525.9 1010.3 523.1 1010.7 532.4 C1011.1 541.7 1011.7 538.9 1009.5 549 C1007.3 559.1 1008.9 555.9 1003.5 566 C998.1 576.1 999.5 572.7 991.5 582.7 C983.5 592.8 985.6 590.9 977 599.5 C968.4 608.1 972 605 962.7 611.5 C953.4 618 956.1 616.4 946 621 C935.9 625.6 939.1 624.3 929 627 C918.9 629.7 921.7 629.7 912.4 630 C903.1 630.3 905.9 630 898 628 C890.1 626 893.9 628.5 886 623.5 C878.1 618.5 878.1 618.7 871.6 611.5 C865.1 604.3 867.3 607.5 864.4 599.5 C861.5 591.5 864.7 591.8 862 585 C859.3 578.2 857.5 581 855.3 576.7 C853.1 572.4 853.5 575.4 854.8 570.7 C856.1 566 856 569 859.6 561 C863.2 553 862.2 554.8 866.8 544 C871.4 533.2 869.2 536.4 875 525 C880.8 513.6 879.1 516.8 886 506 C892.9 495.2 891.2 497.6 898 489 C904.8 480.4 902.7 480.6 908.7 477.2 C914.7 473.8 913.4 478.5 918 477.5 C922.6 476.5 921 478.1 924 474 C927 469.9 925.3 471.2 928 464 C930.7 456.8 929.4 457.8 933 450 C936.6 442.2 935.2 445.2 940 438 C944.8 430.8 945.4 431.7 949 426 C952.6 420.3 948.7 424.4 952 419Z" stroke-width="1.5" stroke="#3f3f3f" fill="#fff"/>
<path d="M985.8 485.3 C986.8 486.8 986.7 485.8 989.2 490.3 C991.8 494.8 990.6 495.2 994.2 500.3 C997.8 505.4 997.8 501.9 1001.3 507.4 C1004.8 512.9 1003.7 511.1 1005.8 518.7 C1007.8 526.2 1007.8 523.6 1008.1 532.5 C1008.5 541.4 1009 538.8 1007 548.5 C1004.9 558.1 1006.5 555 1001.2 564.8 C996 574.6 997.3 571.2 989.5 581.1 C981.6 591 983.6 589.2 975.2 597.7 C966.7 606.1 970.3 603.1 961.2 609.4 C952.1 615.7 954.8 614.1 944.9 618.6 C935 623.2 938.1 621.9 928.3 624.5 C918.5 627.1 921.2 627.1 912.3 627.4 C903.4 627.7 906.1 627.3 898.6 625.5 C891.1 623.6 894.9 626 887.4 621.3 C879.9 616.6 879.7 616.6 873.5 609.8 C867.4 603 869.6 606.3 866.8 598.6 C864.1 590.9 867.2 591 864.4 584 C861.6 577.1 859.8 579.3 857.6 575.5 C855.5 571.7 856 575.4 857.3 571.4 C858.6 567.3 858.4 570 862 562.1 C865.5 554.2 864.6 555.8 869.2 545 C873.8 534.3 871.6 537.5 877.3 526.2 C883 514.9 881.4 518.1 888.2 507.4 C895 496.7 893.5 499 900 490.6 C906.6 482.2 907 482.8 910 479.5" stroke-width="0.96" stroke="#5a5a5a"/>
<path d="M954.1 420.5 C956.5 417.3 957.3 415.5 962 409.6 C966.7 403.7 964.6 405.5 969.7 400.9 C974.9 396.4 973.6 397 979.1 394.4 C984.6 391.7 982.7 392.2 988 392.2 C993.3 392.2 992.6 392.1 996.8 394.3 C1001 396.5 999.2 396.2 1002 399.7 C1004.8 403.1 1004.8 403.9 1006.1 405.7" stroke-width="0.96" stroke="#5a5a5a"/>
<path d="M918.5 480 C920.8 478.7 922.5 480.1 926.1 475.5 C929.7 471 927.7 472.3 930.4 464.9 C933.2 457.6 931.8 458.7 935.4 451.1 C938.9 443.4 937.4 446.6 942.2 439.4 C946.9 432.3 947.6 433.1 951.2 427.4 C954.8 421.7 953.2 422.6 954.1 420.5" stroke-width="0.96" stroke="#5a5a5a"/>
<path d="M957 414 C959.3 413.3 959 415.3 964 412 C969 408.7 966 408.7 972 404 C978 399.3 975.3 400.3 982 398 C988.7 395.7 986 396 992 397 C998 398 996 396.7 1000 401 C1004 405.3 1002.7 403 1004 410 C1005.3 417 1005 414.7 1004 422 C1003 429.3 1002 428.7 1001 432" stroke-width="0.96" stroke="#5a5a5a"/>
<path d="M1008 404 C1009 406 1009.7 404.7 1011 410 C1012.3 415.3 1012.7 414 1012 420 C1011.3 426 1010 425.3 1009 428" stroke-width="0.96" stroke="#5a5a5a"/>
<path d="M953.7 430 L953.1 429.5 L952.6 428.9 L952.3 428 L952.1 427.1 L952.1 426 L952.3 424.9 L952.6 423.7 L953.1 422.5 L953.7 421.3 L954.4 420.2 L955.2 419.2 L956 418.4 L956.9 417.7 L957.9 417.1 L958.8 416.8 L959.6 416.7 L960.4 416.7 L961.2 417 L963.8 418.5 L964.3 419 L964.8 419.6 L965.1 420.5 L965.3 421.4 L965.3 422.5 L965.1 423.6 L964.8 424.8 L964.3 426 L963.7 427.2 L963 428.3 L962.2 429.3 L961.4 430.1 L960.5 430.8 L959.5 431.4 L958.6 431.7 L957.8 431.8 L957 431.8 L956.2 431.5Z" stroke-width="1.2" stroke="#3f3f3f" fill="#fff"/>
<path d="M956.2 431.5 C956.1 431.3 956 431.4 955.7 431 C955.3 430.6 955.5 430.9 955.2 430.4 C954.9 429.9 955 430.1 954.9 429.5 C954.7 429 954.8 429.3 954.7 428.6 C954.7 427.9 954.7 428.3 954.7 427.5 C954.8 426.8 954.7 427.2 954.9 426.4 C955 425.6 954.9 426 955.2 425.2 C955.5 424.4 955.3 424.8 955.7 424 C956 423.2 955.8 423.6 956.3 422.8 C956.7 422.1 956.5 422.4 957 421.7 C957.5 421 957.2 421.4 957.8 420.7 C958.3 420.1 958 420.4 958.6 419.9 C959.2 419.4 958.9 419.6 959.5 419.2 C960.2 418.8 959.9 418.9 960.5 418.6 C961.1 418.3 960.8 418.5 961.4 418.3 C962 418.1 961.7 418.2 962.2 418.2 C962.8 418.1 962.5 418.1 963 418.2 C963.5 418.3 963.5 418.4 963.8 418.5" stroke-width="1.2" stroke="#3f3f3f"/>
<ellipse cx="960" cy="425" rx="4.3" ry="7.5" transform="rotate(30 960 425)" fill="#f4f4f4" stroke-width="1.2" stroke="#3f3f3f"/>
<ellipse cx="960" cy="425" rx="3" ry="5.2" transform="rotate(30 960 425)" fill="#e2e2e2" stroke-width="0.84" stroke="#666"/>
<ellipse cx="960.5" cy="425.3" rx="1.6" ry="2.8" transform="rotate(30 960.5 425.3)" fill="#fff" stroke-width="1.08" stroke="#3f3f3f"/>
<ellipse cx="987" cy="426.5" rx="6.6" ry="11.5" transform="rotate(30 987 426.5)" fill="#fafafa" stroke-width="1.2" stroke="#4a4a4a"/>
<ellipse cx="987" cy="426.5" rx="5.2" ry="9" transform="rotate(30 987 426.5)" fill="#ececec" stroke-width="0.84" stroke="#777"/>
<ellipse cx="987.9" cy="427" rx="1.8" ry="3.2" transform="rotate(30 987.9 427)" fill="#fff" stroke-width="1.2" stroke="#3f3f3f"/>
<path d="M958.5 467.7 L957.7 467 L957.1 466.2 L956.7 465.1 L956.5 463.8 L956.5 462.4 L956.7 460.8 L957.1 459.3 L957.7 457.7 L958.5 456.1 L959.5 454.7 L960.6 453.3 L961.7 452.2 L962.9 451.2 L964.2 450.5 L965.4 450.1 L966.5 449.9 L967.6 450 L968.5 450.3 L972 452.3 L972.8 453 L973.4 453.8 L973.8 454.9 L974 456.2 L974 457.6 L973.8 459.2 L973.4 460.7 L972.8 462.3 L972 463.9 L971.1 465.3 L970 466.7 L968.8 467.8 L967.6 468.8 L966.4 469.5 L965.2 469.9 L964 470.1 L962.9 470 L962 469.7Z" stroke-width="1.2" stroke="#3f3f3f" fill="#fff"/>
<path d="M962 469.7 C961.7 469.4 961.7 469.5 961.2 469 C960.7 468.5 960.9 468.8 960.6 468.2 C960.2 467.5 960.4 467.8 960.2 467.1 C960 466.3 960 466.7 960 465.8 C959.9 464.9 959.9 465.3 960 464.4 C960 463.4 960 463.9 960.2 462.8 C960.4 461.8 960.2 462.3 960.6 461.3 C960.9 460.2 960.7 460.7 961.2 459.7 C961.7 458.6 961.4 459.1 962 458.1 C962.6 457.1 962.3 457.6 962.9 456.7 C963.6 455.7 963.3 456.2 964 455.3 C964.8 454.5 964.4 454.9 965.2 454.2 C966 453.5 965.6 453.8 966.4 453.2 C967.2 452.7 966.8 452.9 967.6 452.5 C968.4 452.1 968 452.3 968.8 452.1 C969.6 451.8 969.2 451.9 970 451.9 C970.7 451.8 970.4 451.8 971.1 452 C971.7 452.1 971.7 452.2 972 452.3" stroke-width="1.2" stroke="#3f3f3f"/>
<ellipse cx="967" cy="461" rx="5.8" ry="10" transform="rotate(30 967 461)" fill="#f6f6f6" stroke-width="1.2" stroke="#3f3f3f"/>
<ellipse cx="967" cy="461" rx="4.4" ry="7.6" transform="rotate(30 967 461)" fill="#e4e4e4" stroke-width="0.84" stroke="#666"/>
<ellipse cx="967.7" cy="461.4" rx="2.1" ry="3.6" transform="rotate(30 967.7 461.4)" fill="#fff" stroke-width="1.2" stroke="#3f3f3f"/>
<ellipse cx="985.6" cy="457" rx="2.6" ry="4.2" transform="rotate(30 985.6 457)" fill="#fff" stroke-width="1.2" stroke="#3f3f3f"/>
<path d="M952 426 C950.7 430 950 430 948 438 C946 446 944.7 443.3 946 450 C947.3 456.7 950 455.3 952 458" stroke-width="0.96" stroke="#5a5a5a"/>
<path d="M946 450 C948.3 448.7 949 445.3 953 446 C957 446.7 956.3 450 958 452" stroke-width="0.96" stroke="#5a5a5a"/>
<path d="M976 458 C978 458.7 979.3 456 982 460 C984.7 464 982 462 984 470 C986 478 986.7 479.3 988 484" stroke-width="0.96" stroke="#5a5a5a"/>
<path d="M934 464 C936 465.3 935.3 466 940 468 C944.7 470 943.3 467.3 948 470 C952.7 472.7 952.3 470 954 476 C955.7 482 953.3 484 953 488" stroke-width="0.96" stroke="#5a5a5a"/>
<path d="M928 470 C930 471 928.7 471 934 473 C939.3 475 938.7 472.3 944 476 C949.3 479.7 948 481.3 950 484" stroke-width="0.96" stroke="#5a5a5a"/>
<path d="M958 452 C956.7 455.3 954.7 456 954 462 C953.3 468 955.3 467.3 956 470" stroke-width="0.96" stroke="#5a5a5a"/>
<ellipse cx="965" cy="570.7" rx="26.5" ry="46" transform="rotate(30 965 570.7)" stroke-width="0.96" stroke="#5a5a5a"/>
<ellipse cx="965" cy="570.7" rx="25" ry="43.4" transform="rotate(30 965 570.7)" stroke-width="0.96" stroke="#5a5a5a"/>
<ellipse cx="965" cy="570.7" rx="19" ry="33" transform="rotate(30 965 570.7)" stroke-width="0.84" stroke="#6a6a6a"/>
<path d="M925.9 498.6 C921.6 505.9 920.3 504.9 913 520.5 C905.7 536 908.7 528.7 904.1 545.3 C899.4 561.9 901.1 554.6 899.1 570.1 C897.1 585.7 897.1 578 898.1 591.9 C899.1 605.8 900.8 605.2 902.1 611.8" stroke-width="0.96" stroke="#5a5a5a"/>
<path d="M924.1 497.4 C919.7 504.8 918.4 503.8 911 519.5 C903.6 535.3 906.6 527.9 901.9 544.7 C897.2 561.5 898.9 554.1 896.9 569.9 C894.9 585.7 894.9 578 895.9 592.1 C896.9 606.2 898.6 605.5 899.9 612.2" stroke-width="0.96" stroke="#5a5a5a"/>
<path d="M931.8 499.4 C936.2 505.4 938.2 505.4 944.9 517.5 C951.6 529.6 949.3 524.3 952 535.8 C954.7 547.2 952.7 546.5 953 551.9" stroke-width="0.96" stroke="#5a5a5a"/>
<path d="M930.2 500.6 C934.5 506.6 936.5 506.6 943.1 518.5 C949.7 530.4 947.4 525 950 536.2 C952.7 547.4 950.7 546.8 951 552.1" stroke-width="0.96" stroke="#5a5a5a"/>
<path d="M873.9 575.9 C882.6 574.9 882.9 574.2 899.9 572.9 C916.9 571.6 911.3 572.9 924.9 571.9 C938.6 570.9 935.5 570.6 940.9 569.9" stroke-width="0.96" stroke="#5a5a5a"/>
<path d="M874.1 578.1 C882.8 577.1 883.1 576.4 900.1 575.1 C917.1 573.8 911.4 575.1 925.1 574.1 C938.8 573.1 935.8 572.8 941.1 572.1" stroke-width="0.96" stroke="#5a5a5a"/>
<path d="M868.1 590.9 C877.1 591.6 877.1 591.2 895.1 592.9 C913.1 594.6 905.4 596.6 922 595.9 C938.5 595.2 937.2 592.6 944.8 590.9" stroke-width="0.96" stroke="#5a5a5a"/>
<path d="M867.9 593.1 C876.9 593.8 876.9 593.4 894.9 595.1 C912.9 596.8 905.3 598.8 922 598.1 C938.8 597.4 937.5 594.7 945.2 593.1" stroke-width="0.96" stroke="#5a5a5a"/>
<path d="M949 590.2 C948 595.2 948.6 595.2 946 605.3 C943.3 615.3 942.6 615.3 940.9 620.3" stroke-width="0.96" stroke="#5a5a5a"/>
<path d="M947 589.8 C946 594.8 946.7 594.8 944 604.7 C941.4 614.7 940.7 614.7 939.1 619.7" stroke-width="0.96" stroke="#5a5a5a"/>
<path d="M981.3 549.3 C984.6 546 985.3 545.3 991.3 539.3 C997.3 533.3 996.6 534 999.3 531.3" stroke-width="0.96" stroke="#5a5a5a"/>
<path d="M982.7 550.7 C986 547.4 986.7 546.7 992.7 540.7 C998.7 534.7 998 535.4 1000.7 532.7" stroke-width="0.96" stroke="#5a5a5a"/>
<path d="M975 548.2 C973.7 542.3 975 542.2 971.1 530.3 C967.1 518.4 969.7 523.1 963.2 512.5 C956.6 502 957.9 504.6 951.3 498.7 C944.8 492.9 946.1 496.2 943.6 494.9" stroke-width="0.96" stroke="#5a5a5a"/>
<path d="M977 547.8 C975.6 541.7 977 541.8 972.9 529.7 C968.9 517.6 971.6 522.3 964.8 511.5 C958.1 500.7 959.5 503.4 952.7 497.3 C945.9 491.1 947.2 494.5 944.4 493.1" stroke-width="0.96" stroke="#5a5a5a"/>
<path d="M999.1 531.8 L1003.1 511.8" stroke-width="0.96" stroke="#5a5a5a"/>
<path d="M1000.9 532.2 L1004.9 512.2" stroke-width="0.96" stroke="#5a5a5a"/>
<path d="M984.3 584.4 C987.3 581.1 987.6 582.8 993.3 574.5 C998.9 566.2 998.6 564.5 1001.2 559.6" stroke-width="0.96" stroke="#5a5a5a"/>
<path d="M985.7 585.6 C988.7 582.2 989 583.9 994.7 575.5 C1000.5 567.1 1000.1 565.5 1002.8 560.4" stroke-width="0.96" stroke="#5a5a5a"/>
<path d="M886 510 C890.7 512 891.3 512.7 900 516 C908.7 519.3 908 518.7 912 520" stroke-width="0.96" stroke="#5a5a5a"/>
<path d="M869 545 C874 547.3 874 548.3 884 552 C894 555.7 894 554.7 899 556" stroke-width="0.96" stroke="#5a5a5a"/>
<path d="M944 494 C949.3 495 949.3 497 960 497 C970.7 497 966 497.3 976 494 C986 490.7 985.3 489.3 990 487" stroke-width="0.96" stroke="#5a5a5a"/>
<path d="M956 500 C961.3 501 961.3 503 972 503 C982.7 503 978.7 499 988 500 C997.3 501 996 504 1000 506" stroke-width="0.96" stroke="#5a5a5a"/>
<ellipse cx="965" cy="570.7" rx="13.8" ry="24" transform="rotate(30 965 570.7)" fill="#fff" stroke-width="1.2" stroke="#3f3f3f"/>
<ellipse cx="965" cy="570.7" rx="12.4" ry="21.5" transform="rotate(30 965 570.7)" stroke-width="0.84" stroke="#666"/>
<ellipse cx="965" cy="570.7" rx="10.7" ry="18.6" transform="rotate(30 965 570.7)" fill="#ececec" stroke-width="1.56" stroke="#4a4a4a"/>
<ellipse cx="964.1" cy="570.2" rx="8.4" ry="14.5" transform="rotate(30 964.1 570.2)" fill="#fff" stroke-width="1.08" stroke="#444"/>
<path d="M968.5 556.1 C968.9 556.4 969 556.3 969.5 557.2 C970.1 558 969.9 557.5 970.3 558.6 C970.7 559.6 970.6 559.1 970.8 560.3 C971 561.5 970.9 560.9 970.9 562.3 C970.9 563.6 971 563 970.8 564.4 C970.6 565.9 970.7 565.2 970.3 566.7 C969.9 568.2 970.1 567.5 969.5 569 C969 570.5 969.3 569.8 968.5 571.3 C967.8 572.8 968.2 572.1 967.3 573.5 C966.3 574.9 966.8 574.2 965.8 575.5 C964.8 576.8 965.3 576.2 964.2 577.3 C963.1 578.4 963.6 577.9 962.4 578.8 C961.3 579.7 961.9 579.4 960.7 580 C959.5 580.7 960.1 580.4 958.9 580.9 C957.7 581.3 958.3 581.2 957.2 581.3 C956 581.5 956.6 581.5 955.5 581.4 C954.5 581.3 955 581.4 954.1 581.1 C953.2 580.7 953.2 580.6 952.8 580.3" stroke-width="0.96" stroke="#555"/>
<path d="M965.6 556.3 C965.9 556.6 966 556.5 966.4 557.4 C966.9 558.3 966.7 557.8 966.9 558.8 C967.2 559.9 967.1 559.3 967.2 560.5 C967.3 561.7 967.3 561.1 967.2 562.3 C967.1 563.6 967.2 563 966.9 564.3 C966.7 565.7 966.8 565 966.4 566.4 C965.9 567.7 966.2 567.1 965.6 568.4 C965 569.8 965.3 569.1 964.6 570.5 C963.8 571.8 964.2 571.1 963.3 572.3 C962.5 573.6 962.9 573 962 574.1 C961 575.2 961.5 574.7 960.4 575.6 C959.4 576.5 959.9 576.1 958.9 576.8 C957.8 577.5 958.3 577.2 957.3 577.7 C956.2 578.2 956.7 578 955.7 578.3 C954.7 578.6 955.1 578.5 954.2 578.6 C953.2 578.6 953.7 578.6 952.8 578.4 C951.9 578.2 952 578.1 951.6 578" stroke-width="0.84" stroke="#666"/>
<ellipse cx="925.5" cy="492.5" rx="18" ry="7.4" transform="rotate(28 925.5 492.5)" fill="#fff" stroke-width="1.2" stroke="#3f3f3f"/>
<ellipse cx="926.5" cy="493.1" rx="15" ry="5.2" transform="rotate(28 926.5 493.1)" stroke-width="0.84" stroke="#666"/>
<path d="M912.7 490.8 L912.3 490.5 L912.1 490.1 L911.9 489.6 L911.8 489 L911.8 488.3 L911.9 487.6 L912.1 486.9 L912.3 486.2 L912.7 485.5 L913.1 484.8 L913.6 484.2 L914.2 483.7 L914.7 483.2 L915.3 482.9 L915.8 482.7 L916.4 482.6 L916.9 482.6 L917.3 482.8 L919.9 484.3 L920.3 484.6 L920.5 485 L920.7 485.5 L920.8 486.1 L920.8 486.8 L920.7 487.5 L920.5 488.2 L920.3 488.9 L919.9 489.6 L919.5 490.3 L919 490.9 L918.4 491.4 L917.9 491.9 L917.3 492.2 L916.8 492.4 L916.2 492.5 L915.7 492.5 L915.3 492.3Z" stroke-width="1.08" stroke="#3f3f3f" fill="#e6e6e6"/>
<path d="M915.3 492.3 C915.2 492.2 915.1 492.2 914.9 492 C914.7 491.8 914.8 491.9 914.7 491.6 C914.5 491.3 914.6 491.5 914.5 491.1 C914.4 490.7 914.4 490.9 914.4 490.5 C914.3 490.1 914.3 490.3 914.4 489.8 C914.4 489.4 914.4 489.6 914.5 489.1 C914.6 488.7 914.5 488.9 914.7 488.4 C914.8 487.9 914.7 488.2 914.9 487.7 C915.2 487.2 915 487.4 915.3 487 C915.6 486.5 915.4 486.7 915.7 486.3 C916 485.9 915.9 486.1 916.2 485.7 C916.6 485.3 916.4 485.5 916.8 485.2 C917.1 484.8 916.9 485 917.3 484.7 C917.7 484.5 917.5 484.6 917.9 484.4 C918.3 484.2 918.1 484.3 918.4 484.2 C918.8 484.1 918.6 484.1 919 484.1 C919.3 484.1 919.2 484.1 919.5 484.1 C919.8 484.2 919.8 484.3 919.9 484.3" stroke-width="1.08" stroke="#3f3f3f"/>
<ellipse cx="917.6" cy="488.3" rx="1.5" ry="2.6" transform="rotate(30 917.6 488.3)" fill="#999" stroke-width="0.96" stroke="#333"/>
<path d="M922 489 L933 496" stroke-width="0.96" stroke="#555"/>
<path d="M920 492.5 L931 499" stroke-width="0.96" stroke="#555"/>
<ellipse cx="877" cy="578.5" rx="18" ry="7.4" transform="rotate(28 877 578.5)" fill="#fff" stroke-width="1.2" stroke="#3f3f3f"/>
<ellipse cx="878" cy="579.1" rx="15" ry="5.2" transform="rotate(28 878 579.1)" stroke-width="0.84" stroke="#666"/>
<path d="M863.7 577.1 L863.3 576.8 L863.1 576.4 L862.9 575.9 L862.8 575.3 L862.8 574.6 L862.9 573.9 L863.1 573.2 L863.3 572.5 L863.7 571.8 L864.1 571.1 L864.6 570.5 L865.2 570 L865.7 569.5 L866.3 569.2 L866.8 569 L867.4 568.9 L867.9 568.9 L868.3 569.1 L870.9 570.6 L871.3 570.9 L871.5 571.3 L871.7 571.8 L871.8 572.4 L871.8 573.1 L871.7 573.8 L871.5 574.5 L871.3 575.2 L870.9 575.9 L870.5 576.6 L870 577.2 L869.4 577.7 L868.9 578.2 L868.3 578.5 L867.8 578.7 L867.2 578.8 L866.7 578.8 L866.3 578.6Z" stroke-width="1.08" stroke="#3f3f3f" fill="#e6e6e6"/>
<path d="M866.3 578.6 C866.2 578.5 866.1 578.5 865.9 578.3 C865.7 578.1 865.8 578.2 865.7 577.9 C865.5 577.6 865.6 577.8 865.5 577.4 C865.4 577 865.4 577.2 865.4 576.8 C865.3 576.4 865.3 576.6 865.4 576.1 C865.4 575.7 865.4 575.9 865.5 575.4 C865.6 575 865.5 575.2 865.7 574.7 C865.8 574.2 865.7 574.5 865.9 574 C866.2 573.5 866 573.7 866.3 573.3 C866.6 572.8 866.4 573 866.7 572.6 C867 572.2 866.9 572.4 867.2 572 C867.6 571.6 867.4 571.8 867.8 571.5 C868.1 571.1 867.9 571.3 868.3 571 C868.7 570.8 868.5 570.9 868.9 570.7 C869.3 570.5 869.1 570.6 869.4 570.5 C869.8 570.4 869.6 570.4 870 570.4 C870.3 570.4 870.2 570.4 870.5 570.4 C870.8 570.5 870.8 570.6 870.9 570.6" stroke-width="1.08" stroke="#3f3f3f"/>
<ellipse cx="868.6" cy="574.6" rx="1.5" ry="2.6" transform="rotate(30 868.6 574.6)" fill="#999" stroke-width="0.96" stroke="#333"/>
<path d="M873 575.3 L884 582.3" stroke-width="0.96" stroke="#555"/>
<path d="M871 578.8 L882 585.3" stroke-width="0.96" stroke="#555"/>
<path d="M856 577 C857.3 580.7 858 580.3 860 588 C862 595.7 860 594 862 600 C864 606 864.7 604 866 606" stroke-width="1.08" stroke="#444"/>
<path d="M866 584 C867.3 588 868 588.7 870 596 C872 603.3 871.3 602.7 872 606" stroke-width="0.96" stroke="#5a5a5a"/>
<path d="M1003 500 C1005 501.3 1005.7 499.7 1009 504 C1012.3 508.3 1012 506.7 1013 513 C1014 519.3 1013.3 518.7 1012 523 C1010.7 527.3 1010 525 1009 526" stroke-width="1.44" stroke="#3f3f3f"/>
<path d="M884 622 C885.3 624 884 625.3 888 628 C892 630.7 892 630 896 630 C900 630 898.7 628.7 900 628" stroke-width="1.2" stroke="#3f3f3f"/>
<path d="M910 630 C912 631 911.3 632.7 916 633 C920.7 633.3 921.3 631.7 924 631" stroke-width="1.08" stroke="#3f3f3f"/>
<ellipse cx="1001.8" cy="594" rx="7.8" ry="13.6" transform="rotate(30 1001.8 594)" stroke-width="2.04" stroke="#3d3d3d"/>
<path d="M1014.3 617 L1013.2 616.1 L1012.3 614.8 L1011.7 613.2 L1011.4 611.4 L1011.4 609.3 L1011.7 607.1 L1012.3 604.9 L1013.2 602.6 L1014.3 600.3 L1015.7 598.2 L1017.2 596.3 L1018.9 594.7 L1020.6 593.3 L1022.4 592.3 L1024.1 591.6 L1025.8 591.4 L1027.3 591.5 L1028.7 592 L1037.4 597 L1038.5 597.9 L1039.4 599.2 L1040 600.8 L1040.3 602.6 L1040.3 604.7 L1040 606.9 L1039.4 609.1 L1038.5 611.4 L1037.4 613.7 L1036 615.8 L1034.5 617.7 L1032.8 619.3 L1031 620.7 L1029.3 621.7 L1027.5 622.4 L1025.9 622.6 L1024.3 622.5 L1023 622Z" stroke-width="1.2" stroke="#3f3f3f" fill="#fff"/>
<path d="M1023 622 C1022.6 621.7 1022.5 621.8 1021.8 621.1 C1021.1 620.3 1021.4 620.7 1020.9 619.8 C1020.4 618.9 1020.6 619.4 1020.3 618.2 C1020 617.1 1020.1 617.7 1020 616.4 C1019.9 615.1 1019.9 615.7 1020 614.3 C1020.1 612.9 1020 613.6 1020.3 612.1 C1020.6 610.6 1020.4 611.4 1020.9 609.9 C1021.4 608.3 1021.1 609.1 1021.8 607.6 C1022.5 606.1 1022.1 606.8 1023 605.3 C1023.8 603.9 1023.4 604.6 1024.3 603.2 C1025.3 601.9 1024.8 602.5 1025.9 601.3 C1026.9 600.1 1026.4 600.7 1027.5 599.7 C1028.7 598.7 1028.1 599.1 1029.3 598.3 C1030.5 597.5 1029.9 597.8 1031.1 597.3 C1032.2 596.7 1031.7 596.9 1032.8 596.6 C1033.9 596.3 1033.4 596.4 1034.5 596.4 C1035.5 596.3 1035 596.3 1036 596.5 C1037 596.7 1036.9 596.9 1037.4 597" stroke-width="1.2" stroke="#3f3f3f"/>
<path d="M1016.8 618.5 C1016.4 618.2 1016.3 618.3 1015.7 617.6 C1015 616.8 1015.3 617.2 1014.8 616.3 C1014.3 615.4 1014.5 615.9 1014.2 614.7 C1013.9 613.6 1014 614.2 1013.9 612.9 C1013.8 611.6 1013.8 612.2 1013.9 610.8 C1014 609.4 1013.9 610.1 1014.2 608.6 C1014.5 607.1 1014.3 607.9 1014.8 606.4 C1015.3 604.8 1015 605.6 1015.7 604.1 C1016.3 602.6 1016 603.3 1016.8 601.8 C1017.6 600.4 1017.2 601.1 1018.2 599.7 C1019.1 598.4 1018.6 599 1019.7 597.8 C1020.8 596.6 1020.2 597.2 1021.4 596.2 C1022.5 595.2 1021.9 595.6 1023.1 594.8 C1024.3 594 1023.7 594.3 1024.9 593.8 C1026.1 593.2 1025.5 593.4 1026.6 593.1 C1027.8 592.8 1027.2 592.9 1028.3 592.9 C1029.4 592.8 1028.9 592.8 1029.8 593 C1030.8 593.2 1030.7 593.4 1031.2 593.5" stroke-width="1.92" stroke="#4a4a4a"/>
<path d="M1019.8 620.1 C1019.4 619.8 1019.3 619.9 1018.7 619.2 C1018 618.4 1018.3 618.8 1017.8 617.9 C1017.3 617 1017.5 617.5 1017.2 616.3 C1016.9 615.2 1017 615.8 1016.9 614.5 C1016.8 613.2 1016.8 613.8 1016.9 612.4 C1017 611 1016.9 611.7 1017.2 610.2 C1017.5 608.7 1017.3 609.5 1017.8 608 C1018.3 606.4 1018 607.2 1018.7 605.7 C1019.3 604.2 1019 604.9 1019.8 603.4 C1020.6 602 1020.2 602.7 1021.2 601.3 C1022.1 600 1021.6 600.6 1022.7 599.4 C1023.8 598.2 1023.2 598.8 1024.4 597.8 C1025.5 596.8 1024.9 597.2 1026.1 596.4 C1027.3 595.6 1026.7 595.9 1027.9 595.4 C1029.1 594.8 1028.5 595 1029.6 594.7 C1030.8 594.4 1030.2 594.5 1031.3 594.5 C1032.4 594.4 1031.9 594.4 1032.8 594.6 C1033.8 594.8 1033.7 595 1034.2 595.1" stroke-width="0.96" stroke="#555"/>
<path d="M1024.9 629.3 L1023.3 628 L1022 626.2 L1021.2 624 L1020.8 621.4 L1020.8 618.5 L1021.2 615.4 L1022.1 612.2 L1023.3 609 L1024.9 605.8 L1026.8 602.9 L1029 600.2 L1031.3 597.8 L1033.8 595.9 L1036.3 594.5 L1038.8 593.5 L1041.1 593.2 L1043.3 593.4 L1045.2 594.1 L1048.2 595.8 L1049.8 597.1 L1051 598.9 L1051.9 601.1 L1052.3 603.7 L1052.3 606.6 L1051.9 609.7 L1051 612.9 L1049.8 616.1 L1048.1 619.3 L1046.2 622.2 L1044.1 624.9 L1041.7 627.3 L1039.2 629.2 L1036.7 630.6 L1034.3 631.6 L1031.9 631.9 L1029.8 631.7 L1027.8 631Z" stroke-width="1.2" stroke="#3f3f3f" fill="#fff"/>
<path d="M1027.8 631 C1027.3 630.6 1027.2 630.7 1026.2 629.7 C1025.3 628.7 1025.7 629.3 1025 627.9 C1024.3 626.6 1024.6 627.3 1024.1 625.7 C1023.7 624.1 1023.8 624.9 1023.7 623.1 C1023.6 621.3 1023.6 622.2 1023.7 620.2 C1023.9 618.2 1023.7 619.2 1024.1 617.1 C1024.6 615 1024.3 616.1 1025 613.9 C1025.7 611.8 1025.3 612.8 1026.2 610.7 C1027.2 608.6 1026.7 609.6 1027.9 607.5 C1029 605.5 1028.4 606.5 1029.8 604.6 C1031.1 602.7 1030.4 603.6 1031.9 601.9 C1033.4 600.2 1032.7 601 1034.3 599.5 C1035.9 598.1 1035.1 598.7 1036.8 597.6 C1038.4 596.5 1037.6 597 1039.3 596.2 C1040.9 595.4 1040.1 595.7 1041.7 595.2 C1043.3 594.8 1042.6 594.9 1044.1 594.9 C1045.6 594.8 1044.9 594.8 1046.2 595.1 C1047.6 595.4 1047.5 595.6 1048.2 595.8" stroke-width="1.2" stroke="#3f3f3f"/>
<ellipse cx="1038" cy="613.4" rx="11.7" ry="20.3" transform="rotate(30 1038 613.4)" fill="#fff" stroke-width="1.32" stroke="#3f3f3f"/>
<ellipse cx="1038" cy="613.4" rx="8.4" ry="14.6" transform="rotate(30 1038 613.4)" stroke-width="1.08" stroke="#444"/>
<ellipse cx="1038" cy="613.4" rx="7.3" ry="12.6" transform="rotate(30 1038 613.4)" stroke-width="0.84" stroke="#666"/>
<ellipse cx="1037.1" cy="612.9" rx="5" ry="8.6" transform="rotate(30 1037.1 612.9)" fill="#eee" stroke-width="1.08" stroke="#444"/>
<ellipse cx="1034.9" cy="611.6" rx="3.2" ry="5.6" transform="rotate(30 1034.9 611.6)" fill="#fff" stroke-width="1.08" stroke="#444"/>
<path d="M1036.4 605.4 C1036.5 605.6 1036.6 605.6 1036.8 606 C1037 606.4 1036.9 606.2 1037 606.6 C1037.2 607.1 1037.1 606.9 1037.2 607.4 C1037.2 608 1037.2 607.7 1037.2 608.3 C1037.1 608.9 1037.2 608.6 1037 609.3 C1036.9 609.9 1037 609.6 1036.8 610.2 C1036.6 610.9 1036.7 610.6 1036.4 611.2 C1036.1 611.9 1036.3 611.6 1035.9 612.2 C1035.5 612.8 1035.7 612.5 1035.3 613.1 C1034.9 613.7 1035.1 613.4 1034.7 613.9 C1034.2 614.4 1034.4 614.2 1033.9 614.6 C1033.4 615.1 1033.7 614.9 1033.2 615.2 C1032.7 615.6 1032.9 615.4 1032.4 615.7 C1031.9 615.9 1032.2 615.8 1031.7 615.9 C1031.2 616.1 1031.4 616 1031 616.1 C1030.5 616.1 1030.7 616.1 1030.3 616 C1029.9 615.9 1029.9 615.8 1029.7 615.8" stroke-width="0.84" stroke="#555"/>
<path d="M1040.8 504.8 L1040.6 504.6 L1040.4 504.4 L1040.3 504.1 L1040.2 503.8 L1040.2 503.4 L1040.3 503.1 L1040.4 502.7 L1040.6 502.3 L1040.8 501.9 L1041 501.5 L1041.3 501.2 L1041.5 500.9 L1041.8 500.7 L1042.2 500.5 L1042.5 500.4 L1042.7 500.3 L1043 500.3 L1043.2 500.4 L1060.7 510.5 L1060.9 510.7 L1061.1 510.9 L1061.2 511.2 L1061.2 511.5 L1061.2 511.9 L1061.2 512.2 L1061.1 512.6 L1060.9 513 L1060.7 513.4 L1060.5 513.8 L1060.2 514.1 L1059.9 514.4 L1059.6 514.6 L1059.3 514.8 L1059 514.9 L1058.7 515 L1058.5 515 L1058.2 514.9Z" stroke-width="0.84" stroke="#444" fill="#8a8a8a"/>
<path d="M1042.2 505.6 C1042 505.2 1041.7 505.4 1041.7 504.5 C1041.7 503.5 1041.6 503.7 1042.2 502.7 C1042.8 501.7 1042.6 501.9 1043.5 501.4 C1044.3 500.9 1044.3 501.3 1044.7 501.3" stroke-width="0.6" stroke="#333"/>
<path d="M1043.7 506.4 C1043.5 506.1 1043.1 506.3 1043.1 505.3 C1043.1 504.3 1043.1 504.6 1043.7 503.6 C1044.3 502.5 1044.1 502.7 1044.9 502.2 C1045.7 501.8 1045.7 502.2 1046.2 502.1" stroke-width="0.6" stroke="#333"/>
<path d="M1045.1 507.3 C1044.9 506.9 1044.6 507.1 1044.6 506.1 C1044.6 505.2 1044.5 505.4 1045.1 504.4 C1045.7 503.4 1045.5 503.6 1046.4 503.1 C1047.2 502.6 1047.2 503 1047.6 503" stroke-width="0.6" stroke="#333"/>
<path d="M1046.6 508.1 C1046.4 507.7 1046.1 507.9 1046.1 507 C1046.1 506 1046 506.3 1046.6 505.2 C1047.2 504.2 1047 504.4 1047.8 503.9 C1048.7 503.4 1048.7 503.8 1049.1 503.8" stroke-width="0.6" stroke="#333"/>
<path d="M1048 509 C1047.9 508.6 1047.5 508.8 1047.5 507.8 C1047.5 506.9 1047.4 507.1 1048 506.1 C1048.6 505.1 1048.5 505.2 1049.3 504.8 C1050.1 504.3 1050.1 504.7 1050.5 504.6" stroke-width="0.6" stroke="#333"/>
<path d="M1049.5 509.8 C1049.3 509.4 1049 509.6 1049 508.7 C1049 507.7 1048.9 507.9 1049.5 506.9 C1050.1 505.9 1049.9 506.1 1050.7 505.6 C1051.6 505.1 1051.6 505.5 1052 505.5" stroke-width="0.6" stroke="#333"/>
<path d="M1050.9 510.7 C1050.8 510.3 1050.4 510.5 1050.4 509.5 C1050.4 508.5 1050.4 508.8 1050.9 507.8 C1051.5 506.7 1051.4 506.9 1052.2 506.4 C1053 506 1053 506.4 1053.4 506.3" stroke-width="0.6" stroke="#333"/>
<path d="M1052.4 511.5 C1052.2 511.1 1051.9 511.3 1051.9 510.3 C1051.9 509.4 1051.8 509.6 1052.4 508.6 C1053 507.6 1052.8 507.8 1053.7 507.3 C1054.5 506.8 1054.5 507.2 1054.9 507.2" stroke-width="0.6" stroke="#333"/>
<path d="M1053.9 512.3 C1053.7 512 1053.3 512.2 1053.3 511.2 C1053.3 510.2 1053.3 510.5 1053.9 509.4 C1054.5 508.4 1054.3 508.6 1055.1 508.1 C1055.9 507.6 1055.9 508 1056.4 508" stroke-width="0.6" stroke="#333"/>
<path d="M1055.3 513.2 C1055.1 512.8 1054.8 513 1054.8 512 C1054.8 511.1 1054.7 511.3 1055.3 510.3 C1055.9 509.3 1055.7 509.5 1056.6 509 C1057.4 508.5 1057.4 508.9 1057.8 508.8" stroke-width="0.6" stroke="#333"/>
<path d="M1056.8 514 C1056.6 513.6 1056.3 513.8 1056.3 512.9 C1056.3 511.9 1056.2 512.2 1056.8 511.1 C1057.4 510.1 1057.2 510.3 1058 509.8 C1058.9 509.3 1058.9 509.7 1059.3 509.7" stroke-width="0.6" stroke="#333"/>
<path d="M1057.2 516.6 L1056.9 516.3 L1056.6 515.9 L1056.4 515.4 L1056.3 514.8 L1056.3 514.1 L1056.4 513.4 L1056.6 512.7 L1056.9 512 L1057.2 511.3 L1057.7 510.6 L1058.2 510 L1058.7 509.5 L1059.3 509 L1059.8 508.7 L1060.4 508.5 L1060.9 508.4 L1061.4 508.4 L1061.8 508.6 L1065.3 510.6 L1065.7 510.9 L1065.9 511.3 L1066.1 511.8 L1066.2 512.4 L1066.2 513.1 L1066.1 513.8 L1065.9 514.5 L1065.7 515.2 L1065.3 515.9 L1064.9 516.6 L1064.4 517.2 L1063.8 517.7 L1063.3 518.2 L1062.7 518.5 L1062.2 518.7 L1061.6 518.8 L1061.1 518.8 L1060.7 518.6Z" stroke-width="0.96" stroke="#444" fill="#b5b5b5"/>
<ellipse cx="1063" cy="514.6" rx="2.7" ry="4.6" transform="rotate(30 1063 514.6)" fill="#d2d2d2" stroke-width="0.96" stroke="#444"/>
<ellipse cx="1063" cy="514.6" rx="1.3" ry="2.3" transform="rotate(30 1063 514.6)" fill="#8c8c8c" stroke-width="0.72" stroke="#444"/>
<path d="M954.1 627.7 L953.9 627.5 L953.7 627.3 L953.6 627 L953.6 626.6 L953.6 626.3 L953.6 625.9 L953.7 625.5 L953.9 625.1 L954.1 624.6 L954.3 624.3 L954.6 623.9 L954.9 623.6 L955.2 623.4 L955.6 623.2 L955.9 623.1 L956.2 623 L956.5 623.1 L956.7 623.1 L975.5 634 L975.7 634.2 L975.8 634.4 L975.9 634.7 L976 635 L976 635.4 L975.9 635.8 L975.8 636.2 L975.7 636.6 L975.5 637 L975.2 637.4 L974.9 637.7 L974.6 638 L974.3 638.3 L974 638.4 L973.7 638.6 L973.4 638.6 L973.1 638.6 L972.9 638.5Z" stroke-width="0.84" stroke="#444" fill="#8a8a8a"/>
<path d="M955.5 628.5 C955.4 628.1 955 628.3 955 627.3 C955 626.3 954.9 626.5 955.5 625.5 C956.2 624.4 956 624.6 956.8 624.1 C957.7 623.6 957.7 624 958.1 624" stroke-width="0.6" stroke="#333"/>
<path d="M957 629.3 C956.8 628.9 956.4 629.1 956.5 628.1 C956.5 627.1 956.4 627.4 957 626.3 C957.6 625.3 957.4 625.4 958.3 624.9 C959.2 624.4 959.2 624.9 959.6 624.8" stroke-width="0.6" stroke="#333"/>
<path d="M958.4 630.2 C958.3 629.8 957.9 630 957.9 629 C957.9 628 957.8 628.2 958.4 627.2 C959 626.1 958.9 626.3 959.7 625.8 C960.6 625.3 960.6 625.7 961 625.6" stroke-width="0.6" stroke="#333"/>
<path d="M959.9 631 C959.7 630.6 959.3 630.8 959.3 629.8 C959.3 628.8 959.3 629 959.9 628 C960.5 626.9 960.3 627.1 961.2 626.6 C962 626.1 962 626.5 962.5 626.5" stroke-width="0.6" stroke="#333"/>
<path d="M961.3 631.8 C961.1 631.4 960.8 631.6 960.8 630.6 C960.8 629.6 960.7 629.9 961.3 628.8 C961.9 627.8 961.8 627.9 962.6 627.4 C963.5 626.9 963.5 627.4 963.9 627.3" stroke-width="0.6" stroke="#333"/>
<path d="M962.8 632.7 C962.6 632.3 962.2 632.5 962.2 631.5 C962.2 630.5 962.2 630.7 962.8 629.7 C963.4 628.6 963.2 628.8 964.1 628.3 C964.9 627.8 964.9 628.2 965.4 628.2" stroke-width="0.6" stroke="#333"/>
<path d="M964.2 633.5 C964 633.1 963.7 633.3 963.7 632.3 C963.7 631.3 963.6 631.5 964.2 630.5 C964.8 629.4 964.6 629.6 965.5 629.1 C966.4 628.6 966.4 629 966.8 629" stroke-width="0.6" stroke="#333"/>
<path d="M965.7 634.3 C965.5 633.9 965.1 634.1 965.1 633.1 C965.1 632.1 965 632.4 965.7 631.3 C966.3 630.3 966.1 630.4 967 629.9 C967.8 629.4 967.8 629.9 968.3 629.8" stroke-width="0.6" stroke="#333"/>
<path d="M967.1 635.2 C966.9 634.8 966.6 635 966.6 634 C966.6 633 966.5 633.2 967.1 632.2 C967.7 631.1 967.5 631.3 968.4 630.8 C969.3 630.3 969.3 630.7 969.7 630.7" stroke-width="0.6" stroke="#333"/>
<path d="M968.5 636 C968.4 635.6 968 635.8 968 634.8 C968 633.8 967.9 634 968.5 633 C969.2 631.9 969 632.1 969.8 631.6 C970.7 631.1 970.7 631.5 971.1 631.5" stroke-width="0.6" stroke="#333"/>
<path d="M970 636.8 C969.8 636.4 969.4 636.6 969.4 635.6 C969.4 634.6 969.4 634.9 970 633.8 C970.6 632.8 970.4 632.9 971.3 632.4 C972.2 631.9 972.2 632.4 972.6 632.3" stroke-width="0.6" stroke="#333"/>
<path d="M971.4 637.7 C971.2 637.3 970.9 637.5 970.9 636.5 C970.9 635.5 970.8 635.7 971.4 634.7 C972 633.6 971.9 633.8 972.7 633.3 C973.6 632.8 973.6 633.2 974 633.2" stroke-width="0.6" stroke="#333"/>
<path d="M972 640.1 L971.6 639.8 L971.3 639.3 L971.1 638.8 L971 638.2 L971 637.5 L971.1 636.8 L971.3 636 L971.6 635.3 L972 634.5 L972.4 633.8 L972.9 633.2 L973.5 632.6 L974.1 632.2 L974.7 631.8 L975.2 631.6 L975.8 631.5 L976.3 631.6 L976.8 631.7 L980.4 633.8 L980.8 634.1 L981.1 634.6 L981.3 635.1 L981.4 635.7 L981.4 636.4 L981.3 637.1 L981.1 637.9 L980.8 638.6 L980.4 639.4 L979.9 640.1 L979.4 640.7 L978.9 641.3 L978.3 641.7 L977.7 642.1 L977.1 642.3 L976.6 642.4 L976.1 642.3 L975.6 642.2Z" stroke-width="0.96" stroke="#444" fill="#b5b5b5"/>
<ellipse cx="978" cy="638" rx="2.8" ry="4.8" transform="rotate(30 978 638)" fill="#d2d2d2" stroke-width="0.96" stroke="#444"/>
<ellipse cx="978" cy="638" rx="1.4" ry="2.4" transform="rotate(30 978 638)" fill="#8c8c8c" stroke-width="0.72" stroke="#444"/>
</g>
<!-- p60_gasket -->
<g fill="none" stroke="#505050" stroke-width="1.05" stroke-linecap="round" stroke-linejoin="round">
<path d="M653 237 C653.8 235.8 654.1 236.1 656 232.4 C657.9 228.7 658.7 229 660 223 C661.3 217 661.8 216.4 661 210 C660.2 203.6 659.9 203.3 657 199 C654.1 194.7 654.5 195.1 650 194 C645.5 192.9 645.3 192.9 640 195 C634.7 197.1 635.3 196.4 630 202 C624.7 207.6 624.5 209.7 620 216 C615.5 222.3 617 220.8 613 225.6 C609 230.4 609.5 228.6 605 234 C600.5 239.4 600.3 239.1 596 246 C591.7 252.9 591.7 253.1 589 260 C586.3 266.9 588.9 266.9 586 272 C583.1 277.1 583.1 275.3 578 279 C572.9 282.7 571.8 282.5 567 286 C562.2 289.5 564.5 286.1 560 292 C555.5 297.9 555.9 300 550 308 C544.1 316 542.8 315.6 538 322 C533.2 328.4 534.9 326.1 532 332 C529.1 337.9 529.7 337.6 527 344 C524.3 350.4 524.4 350.1 522 356 C519.6 361.9 519.3 362 518 366 C516.7 370 517 367.3 517 371 C517 374.7 517.2 374.9 518 380 C518.8 385.1 518.1 384.1 520 390 C521.9 395.9 521.8 396.1 525 402 C528.2 407.9 528 407.5 532 412 C536 416.5 536.3 415.5 540 419 C543.7 422.5 543.4 423.4 546 425 C548.6 426.6 546.9 425.8 549.6 425 C552.3 424.2 551.6 424.4 556 422 C560.4 419.6 560.7 418.7 566 416 C571.3 413.3 569.6 413.9 576 412 C582.4 410.1 582.5 410.3 590 409 C597.5 407.7 598.1 408.6 604 407 C609.9 405.4 608.3 405.4 612 403 C615.7 400.6 615.6 399.3 618 398 C620.4 396.7 618.9 400.1 621 398 C623.1 395.9 623.6 394.3 626 390 C628.4 385.7 627.6 386.8 630 382 C632.4 377.2 632.9 376.3 635 372 C637.1 367.7 637.2 367.6 638 366" stroke-width="3.96" stroke="#555"/>
<path d="M653 237 C653.8 235.8 654.1 236.1 656 232.4 C657.9 228.7 658.7 229 660 223 C661.3 217 661.8 216.4 661 210 C660.2 203.6 659.9 203.3 657 199 C654.1 194.7 654.5 195.1 650 194 C645.5 192.9 645.3 192.9 640 195 C634.7 197.1 635.3 196.4 630 202 C624.7 207.6 624.5 209.7 620 216 C615.5 222.3 617 220.8 613 225.6 C609 230.4 609.5 228.6 605 234 C600.5 239.4 600.3 239.1 596 246 C591.7 252.9 591.7 253.1 589 260 C586.3 266.9 588.9 266.9 586 272 C583.1 277.1 583.1 275.3 578 279 C572.9 282.7 571.8 282.5 567 286 C562.2 289.5 564.5 286.1 560 292 C555.5 297.9 555.9 300 550 308 C544.1 316 542.8 315.6 538 322 C533.2 328.4 534.9 326.1 532 332 C529.1 337.9 529.7 337.6 527 344 C524.3 350.4 524.4 350.1 522 356 C519.6 361.9 519.3 362 518 366 C516.7 370 517 367.3 517 371 C517 374.7 517.2 374.9 518 380 C518.8 385.1 518.1 384.1 520 390 C521.9 395.9 521.8 396.1 525 402 C528.2 407.9 528 407.5 532 412 C536 416.5 536.3 415.5 540 419 C543.7 422.5 543.4 423.4 546 425 C548.6 426.6 546.9 425.8 549.6 425 C552.3 424.2 551.6 424.4 556 422 C560.4 419.6 560.7 418.7 566 416 C571.3 413.3 569.6 413.9 576 412 C582.4 410.1 582.5 410.3 590 409 C597.5 407.7 598.1 408.6 604 407 C609.9 405.4 608.3 405.4 612 403 C615.7 400.6 615.6 399.3 618 398 C620.4 396.7 618.9 400.1 621 398 C623.1 395.9 623.6 394.3 626 390 C628.4 385.7 627.6 386.8 630 382 C632.4 377.2 632.9 376.3 635 372 C637.1 367.7 637.2 367.6 638 366" stroke-width="1.8" stroke="#a4a4a4"/>
<path d="M648 242 C646.4 244.1 644.9 245.8 642 250 C639.1 254.2 639.1 253.9 637 257.6 C634.9 261.3 635.6 261.2 634 264 C632.4 266.8 631.8 266.9 631 268" stroke-width="3.96" stroke="#555"/>
<path d="M648 242 C646.4 244.1 644.9 245.8 642 250 C639.1 254.2 639.1 253.9 637 257.6 C634.9 261.3 635.6 261.2 634 264 C632.4 266.8 631.8 266.9 631 268" stroke-width="1.8" stroke="#a4a4a4"/>
<path d="M627 276 C626.7 279.2 625.7 282.1 626 288 C626.3 293.9 626.4 293.5 628 298 C629.6 302.5 630.4 301.3 632 305 C633.6 308.7 634.5 308.3 634 312 C633.5 315.7 631.1 317.1 630 319" stroke-width="3.96" stroke="#555"/>
<path d="M627 276 C626.7 279.2 625.7 282.1 626 288 C626.3 293.9 626.4 293.5 628 298 C629.6 302.5 630.4 301.3 632 305 C633.6 308.7 634.5 308.3 634 312 C633.5 315.7 631.1 317.1 630 319" stroke-width="1.8" stroke="#a4a4a4"/>
<path d="M642 326 C641.2 326.8 640.6 326.3 639 329 C637.4 331.7 637.1 331.5 636 336 C634.9 340.5 635.1 340.7 635 346 C634.9 351.3 635.4 353.3 635.6 356" stroke-width="3.96" stroke="#555"/>
<path d="M642 326 C641.2 326.8 640.6 326.3 639 329 C637.4 331.7 637.1 331.5 636 336 C634.9 340.5 635.1 340.7 635 346 C634.9 351.3 635.4 353.3 635.6 356" stroke-width="1.8" stroke="#a4a4a4"/>
<ellipse cx="613" cy="225.6" rx="4.4" ry="5.6" transform="rotate(30 613 225.6)" fill="#a8a8a8" stroke-width="1.68" stroke="#505050"/>
<ellipse cx="613" cy="225.6" rx="1.9" ry="2.7" transform="rotate(30 613 225.6)" fill="#fff" stroke-width="0.96" stroke="#4a4a4a"/>
<ellipse cx="567" cy="286" rx="4.4" ry="5.6" transform="rotate(30 567 286)" fill="#a8a8a8" stroke-width="1.68" stroke="#505050"/>
<ellipse cx="567" cy="286" rx="1.9" ry="2.7" transform="rotate(30 567 286)" fill="#fff" stroke-width="0.96" stroke="#4a4a4a"/>
<ellipse cx="517" cy="371" rx="4.4" ry="5.6" transform="rotate(30 517 371)" fill="#a8a8a8" stroke-width="1.68" stroke="#505050"/>
<ellipse cx="517" cy="371" rx="1.9" ry="2.7" transform="rotate(30 517 371)" fill="#fff" stroke-width="0.96" stroke="#4a4a4a"/>
<ellipse cx="549.6" cy="425" rx="4.4" ry="5.6" transform="rotate(30 549.6 425)" fill="#a8a8a8" stroke-width="1.68" stroke="#505050"/>
<ellipse cx="549.6" cy="425" rx="1.9" ry="2.7" transform="rotate(30 549.6 425)" fill="#fff" stroke-width="0.96" stroke="#4a4a4a"/>
<ellipse cx="621" cy="398" rx="4.4" ry="5.6" transform="rotate(30 621 398)" fill="#a8a8a8" stroke-width="1.68" stroke="#505050"/>
<ellipse cx="621" cy="398" rx="1.9" ry="2.7" transform="rotate(30 621 398)" fill="#fff" stroke-width="0.96" stroke="#4a4a4a"/>
<ellipse cx="637" cy="257.6" rx="4.4" ry="5.6" transform="rotate(30 637 257.6)" fill="#a8a8a8" stroke-width="1.68" stroke="#505050"/>
<ellipse cx="637" cy="257.6" rx="1.9" ry="2.7" transform="rotate(30 637 257.6)" fill="#fff" stroke-width="0.96" stroke="#4a4a4a"/>
<ellipse cx="632.4" cy="305.6" rx="4.4" ry="5.6" transform="rotate(30 632.4 305.6)" fill="#a8a8a8" stroke-width="1.68" stroke="#505050"/>
<ellipse cx="632.4" cy="305.6" rx="1.9" ry="2.7" transform="rotate(30 632.4 305.6)" fill="#fff" stroke-width="0.96" stroke="#4a4a4a"/>
<path d="M587.4 300.2 L587.1 299.9 L586.9 299.6 L586.7 299.2 L586.7 298.7 L586.7 298.1 L586.7 297.5 L586.9 296.9 L587.1 296.3 L587.5 295.7 L587.8 295.1 L588.2 294.6 L588.7 294.1 L589.2 293.8 L589.6 293.5 L590.1 293.3 L590.6 293.2 L591 293.3 L591.4 293.4 L597.1 296.7 L597.4 297 L597.6 297.3 L597.8 297.7 L597.9 298.2 L597.9 298.8 L597.8 299.4 L597.6 300 L597.4 300.6 L597.1 301.2 L596.7 301.8 L596.3 302.3 L595.8 302.8 L595.4 303.1 L594.9 303.4 L594.4 303.6 L593.9 303.7 L593.5 303.6 L593.2 303.5Z" stroke-width="1.2" stroke="#444" fill="#fff"/>
<path d="M593.2 303.5 C593.1 303.4 593 303.4 592.9 303.2 C592.7 303 592.8 303.1 592.6 302.9 C592.5 302.6 592.5 302.8 592.5 302.5 C592.4 302.2 592.4 302.3 592.4 302 C592.3 301.6 592.3 301.8 592.4 301.4 C592.4 301 592.4 301.2 592.5 300.8 C592.5 300.4 592.5 300.6 592.6 300.2 C592.8 299.8 592.7 300 592.9 299.6 C593 299.2 592.9 299.4 593.2 299 C593.4 298.6 593.3 298.8 593.5 298.4 C593.8 298 593.7 298.2 594 297.9 C594.2 297.6 594.1 297.7 594.4 297.4 C594.7 297.2 594.6 297.3 594.9 297.1 C595.2 296.9 595 296.9 595.4 296.8 C595.7 296.6 595.5 296.7 595.8 296.6 C596.1 296.5 596 296.6 596.3 296.5 C596.6 296.5 596.4 296.5 596.7 296.6 C597 296.6 596.9 296.7 597.1 296.7" stroke-width="1.2" stroke="#444"/>
<ellipse cx="595.1" cy="300.1" rx="2.3" ry="3.9" transform="rotate(30 595.1 300.1)" fill="#e6e6e6" stroke-width="1.2" stroke="#444"/>
<ellipse cx="595.1" cy="300.1" rx="1.3" ry="2.3" transform="rotate(30 595.1 300.1)" fill="#fff" stroke-width="0.84" stroke="#555"/>
<path d="M596.4 388 L596.1 387.7 L595.9 387.4 L595.7 387 L595.7 386.5 L595.7 385.9 L595.7 385.3 L595.9 384.7 L596.1 384.1 L596.5 383.5 L596.8 382.9 L597.2 382.4 L597.7 381.9 L598.2 381.6 L598.6 381.3 L599.1 381.1 L599.6 381 L600 381.1 L600.4 381.2 L606.1 384.5 L606.4 384.8 L606.6 385.1 L606.8 385.5 L606.9 386 L606.9 386.6 L606.8 387.2 L606.6 387.8 L606.4 388.4 L606.1 389 L605.7 389.6 L605.3 390.1 L604.8 390.6 L604.4 390.9 L603.9 391.2 L603.4 391.4 L602.9 391.5 L602.5 391.4 L602.2 391.3Z" stroke-width="1.2" stroke="#444" fill="#fff"/>
<path d="M602.2 391.3 C602.1 391.2 602 391.2 601.9 391 C601.7 390.8 601.8 390.9 601.6 390.7 C601.5 390.4 601.5 390.6 601.5 390.3 C601.4 390 601.4 390.1 601.4 389.8 C601.3 389.4 601.3 389.6 601.4 389.2 C601.4 388.8 601.4 389 601.5 388.6 C601.5 388.2 601.5 388.4 601.6 388 C601.8 387.6 601.7 387.8 601.9 387.4 C602 387 601.9 387.2 602.2 386.8 C602.4 386.4 602.3 386.6 602.5 386.2 C602.8 385.8 602.7 386 603 385.7 C603.2 385.4 603.1 385.5 603.4 385.2 C603.7 385 603.6 385.1 603.9 384.9 C604.2 384.7 604 384.7 604.4 384.6 C604.7 384.4 604.5 384.5 604.8 384.4 C605.1 384.3 605 384.4 605.3 384.3 C605.6 384.3 605.4 384.3 605.7 384.4 C606 384.4 605.9 384.5 606.1 384.5" stroke-width="1.2" stroke="#444"/>
<ellipse cx="604.1" cy="387.9" rx="2.3" ry="3.9" transform="rotate(30 604.1 387.9)" fill="#e6e6e6" stroke-width="1.2" stroke="#444"/>
<ellipse cx="604.1" cy="387.9" rx="1.3" ry="2.3" transform="rotate(30 604.1 387.9)" fill="#fff" stroke-width="0.84" stroke="#555"/>
</g>
<!-- p85_axes -->
<g fill="none" stroke="#505050" stroke-width="1.05" stroke-linecap="round" stroke-linejoin="round">
<path d="M541 74 L568 60 L945 272 L1030 224" stroke-width="0.96" stroke="#6e6e6e" stroke-dasharray="9 2.5 2 2.5"/>
<path d="M1030 224 L1002 208" stroke-width="0.96" stroke="#6e6e6e" stroke-dasharray="9 2.5 2 2.5"/>
<path d="M926 165 L944 175" stroke-width="0.96" stroke="#6e6e6e" stroke-dasharray="9 2.5 2 2.5"/>
<path d="M962 185 L990 201" stroke-width="0.96" stroke="#6e6e6e" stroke-dasharray="9 2.5 2 2.5"/>
<path d="M564 160 L604 137 L646 159" stroke-width="0.96" stroke="#6e6e6e" stroke-dasharray="9 2.5 2 2.5"/>
<path d="M653 163 L659 167" stroke-width="0.96" stroke="#6e6e6e" stroke-dasharray="9 2.5 2 2.5"/>
<path d="M524 166 L612 215 L650 236 L684 254" stroke-width="0.96" stroke="#6e6e6e" stroke-dasharray="9 2.5 2 2.5"/>
<path d="M712 269 L736 282" stroke-width="0.96" stroke="#6e6e6e" stroke-dasharray="9 2.5 2 2.5"/>
<path d="M819 332.4 L959 410" stroke-width="0.96" stroke="#6e6e6e" stroke-dasharray="9 2.5 2 2.5"/>
<path d="M506 202 L630 270 L692 306" stroke-width="0.96" stroke="#6e6e6e" stroke-dasharray="9 2.5 2 2.5"/>
<path d="M722 325 L732 330" stroke-width="0.96" stroke="#6e6e6e" stroke-dasharray="9 2.5 2 2.5"/>
<path d="M788 362.4 L933 443.6" stroke-width="0.96" stroke="#6e6e6e" stroke-dasharray="9 2.5 2 2.5"/>
<path d="M574 288 L603 304.5" stroke-width="0.96" stroke="#6e6e6e" stroke-dasharray="9 2.5 2 2.5"/>
<path d="M606 389 L636 406" stroke-width="0.96" stroke="#6e6e6e" stroke-dasharray="9 2.5 2 2.5"/>
<path d="M464 264 L744 421" stroke-width="0.96" stroke="#6e6e6e" stroke-dasharray="9 2.5 2 2.5"/>
<path d="M758 430 L778 441" stroke-width="0.96" stroke="#6e6e6e" stroke-dasharray="9 2.5 2 2.5"/>
<path d="M787 447 L788 476 L793 478.4" stroke-width="0.96" stroke="#6e6e6e" stroke-dasharray="9 2.5 2 2.5"/>
<path d="M879 439 L924 464" stroke-width="0.96" stroke="#6e6e6e" stroke-dasharray="9 2.5 2 2.5"/>
<path d="M949 508 L1005 479 L1041 500" stroke-width="0.96" stroke="#6e6e6e" stroke-dasharray="9 2.5 2 2.5"/>
<path d="M966 571 L1024 604.5" stroke-width="0.96" stroke="#6e6e6e" stroke-dasharray="9 2.5 2 2.5"/>
<path d="M870 578 L954 625" stroke-width="0.96" stroke="#6e6e6e" stroke-dasharray="9 2.5 2 2.5"/>
<path d="M44 303 L31 294 L122 245 L381 391 L512 318 L448 280" stroke-width="0.96" stroke="#6e6e6e" stroke-dasharray="9 2.5 2 2.5"/>
<path d="M54 309 L146 361" stroke-width="0.96" stroke="#6e6e6e" stroke-dasharray="9 2.5 2 2.5"/>
<path d="M182 383 L229 409" stroke-width="0.96" stroke="#6e6e6e" stroke-dasharray="9 2.5 2 2.5"/>
<path d="M266 430 L304 452" stroke-width="0.96" stroke="#6e6e6e" stroke-dasharray="9 2.5 2 2.5"/>
<path d="M350 479 L392 504" stroke-width="0.96" stroke="#6e6e6e" stroke-dasharray="9 2.5 2 2.5"/>
<path d="M438 530 L522 578" stroke-width="0.96" stroke="#6e6e6e" stroke-dasharray="9 2.5 2 2.5"/>
<path d="M540 588 L574 607" stroke-width="0.96" stroke="#6e6e6e" stroke-dasharray="9 2.5 2 2.5"/>
<path d="M593 619 L653 653" stroke-width="0.96" stroke="#6e6e6e" stroke-dasharray="9 2.5 2 2.5"/>
<path d="M184 489 L194 494.4 L208 463.6 L219 469" stroke-width="0.96" stroke="#6e6e6e" stroke-dasharray="9 2.5 2 2.5"/>
<path d="M251 485 L274 498" stroke-width="0.96" stroke="#6e6e6e" stroke-dasharray="9 2.5 2 2.5"/>
<path d="M567 519 L593 533 L553 556 L573 567" stroke-width="0.96" stroke="#6e6e6e" stroke-dasharray="9 2.5 2 2.5"/>
</g>
<!-- p90_labels -->
<g fill="none" stroke="#505050" stroke-width="1.05" stroke-linecap="round" stroke-linejoin="round">
<path d="M762 61.6 L768 62.5 L779.6 78" stroke-width="0.96" stroke="#666"/>
<path d="M991 131 L985 131 L972.4 159" stroke-width="0.96" stroke="#666"/>
<path d="M1027 160 L1020 160 L1006 184.4" stroke-width="0.96" stroke="#666"/>
<path d="M666.4 143.6 L660 143.6 L651.6 156" stroke-width="0.96" stroke="#666"/>
<path d="M691 161 L684.4 161 L675 172.4" stroke-width="0.96" stroke="#666"/>
<path d="M745 218.2 L738.5 218.2 L720 240" stroke-width="0.96" stroke="#666"/>
<path d="M784 255 L777 255 L753 278" stroke-width="0.96" stroke="#666"/>
<path d="M777 255 L772 293" stroke-width="0.96" stroke="#666"/>
<path d="M829.6 293 L823 293 L804.4 315.6" stroke-width="0.96" stroke="#666"/>
<path d="M672 354.4 L679 354.4 L688 341.6" stroke-width="0.96" stroke="#666"/>
<path d="M711.6 365.6 L718.4 365.6 L734 344.4" stroke-width="0.96" stroke="#666"/>
<path d="M749 375.6 L756 375.6 L766 360" stroke-width="0.96" stroke="#666"/>
<path d="M1027 370 L1020 370 L1002.4 394.4" stroke-width="0.96" stroke="#666"/>
<path d="M1053 477 L1058 478 L1055 503" stroke-width="0.96" stroke="#666"/>
<path d="M1031 561 L1024 561 L1008 584" stroke-width="0.96" stroke="#666"/>
<path d="M1061 578 L1054 578 L1042 596" stroke-width="0.96" stroke="#666"/>
<path d="M957 656.6 L964 656.6 L974 642" stroke-width="0.96" stroke="#666"/>
<path d="M590 439.6 L583 439.6 L573 418" stroke-width="0.96" stroke="#666"/>
<path d="M602 287 L596 287 L594 294" stroke-width="0.96" stroke="#666"/>
<path d="M582 369 L589 369 L598 383" stroke-width="0.96" stroke="#666"/>
<path d="M31 333 L37 333 L46 322.4" stroke-width="0.96" stroke="#666"/>
<path d="M50 362.4 L57 362.4 L68 346" stroke-width="0.96" stroke="#666"/>
<path d="M91 385 L98 385 L111 368" stroke-width="0.96" stroke="#666"/>
<path d="M113.6 472 L120 472 L144 442.4" stroke-width="0.96" stroke="#666"/>
<path d="M143.6 494.4 L150 494.4 L159 482.4" stroke-width="0.96" stroke="#666"/>
<path d="M206 532 L212 532 L231 487" stroke-width="0.96" stroke="#666"/>
<path d="M294 539 L301 539 L312.6 522" stroke-width="0.96" stroke="#666"/>
<path d="M727 435 L736 434 L746 430" stroke-width="0.96" stroke="#666"/>
<path d="M758 477 L765 477 L779 453" stroke-width="0.96" stroke="#666"/>
<path d="M774 504.4 L781 504.4 L794 482" stroke-width="0.96" stroke="#666"/>
<path d="M797 530.4 L804 530.4 L814 495" stroke-width="0.96" stroke="#666"/>
<path d="M410.4 618.6 L417 618.6 L423 600" stroke-width="0.96" stroke="#666"/>
<path d="M523 686 L530 686 L545 666" stroke-width="0.96" stroke="#666"/>
<path d="M475 609 L482 609 L498 583" stroke-width="0.96" stroke="#666"/>
<path d="M489 631 L496 631 L520 595" stroke-width="0.96" stroke="#666"/>
<path d="M509 653.4 L515 653.4 L523 631" stroke-width="0.96" stroke="#666"/>
<path d="M554 480.4 L547 480.4 L541 499" stroke-width="0.96" stroke="#666"/>
<path d="M599 506 L592 506 L583 520" stroke-width="0.96" stroke="#666"/>
<path d="M861 451 L868 451 L872 438" stroke-width="0.96" stroke="#666"/>
<path d="M875 492.4 L882 492.4 L886 479" stroke-width="0.96" stroke="#666"/>
<path d="M711 571 L704 571 L692 578" stroke-width="0.96" stroke="#666"/>
<path d="M354 604 L436 651 L437 657 L440.5 653.5 L517 697" stroke-width="2.4" stroke="#2e2e2e"/>
<text x="753.1" y="65.3" font-size="13.2" text-anchor="start" fill="#4d4d4d">1</text>
<text x="993.1" y="135.3" font-size="13.2" text-anchor="start" fill="#4d4d4d">2</text>
<text x="1027.9" y="163.7" font-size="13.2" text-anchor="start" fill="#4d4d4d">3</text>
<text x="667.5" y="146.3" font-size="13.2" text-anchor="start" fill="#4d4d4d">4</text>
<text x="691.9" y="163.9" font-size="13.2" text-anchor="start" fill="#4d4d4d">5</text>
<text x="746.5" y="221.7" font-size="13.2" text-anchor="start" fill="#4d4d4d">6</text>
<text x="785.1" y="258.2" font-size="13.2" text-anchor="start" fill="#4d4d4d">8</text>
<text x="830.5" y="296.2" font-size="13.2" text-anchor="start" fill="#4d4d4d">9</text>
<text x="663.5" y="356.3" font-size="13.2" text-anchor="start" fill="#4d4d4d">7</text>
<text x="702.5" y="367.7" font-size="13.2" text-anchor="start" fill="#4d4d4d">8</text>
<text x="739.5" y="377.9" font-size="13.2" text-anchor="start" fill="#4d4d4d">9</text>
<text x="1028.1" y="373.3" font-size="13.2" text-anchor="start" fill="#4d4d4d">10</text>
<text x="1039.1" y="479.7" font-size="13.2" text-anchor="start" fill="#4d4d4d">11</text>
<text x="1032.1" y="563.3" font-size="13.2" text-anchor="start" fill="#4d4d4d">12</text>
<text x="1062.7" y="581.1" font-size="13.2" text-anchor="start" fill="#4d4d4d">13</text>
<text x="940.1" y="659.7" font-size="13.2" text-anchor="start" fill="#4d4d4d">14</text>
<text x="591.1" y="442.7" font-size="13.2" text-anchor="start" fill="#4d4d4d">15</text>
<text x="603.5" y="289.3" font-size="13.2" text-anchor="start" fill="#4d4d4d">16</text>
<text x="566.1" y="372.1" font-size="13.2" text-anchor="start" fill="#4d4d4d">16</text>
<text x="14.7" y="335.7" font-size="13.2" text-anchor="start" fill="#4d4d4d">17</text>
<text x="33.5" y="364.7" font-size="13.2" text-anchor="start" fill="#4d4d4d">18</text>
<text x="74.7" y="387.3" font-size="13.2" text-anchor="start" fill="#4d4d4d">19</text>
<text x="95.9" y="474.7" font-size="13.2" text-anchor="start" fill="#4d4d4d">20</text>
<text x="126.5" y="497.3" font-size="13.2" text-anchor="start" fill="#4d4d4d">21</text>
<text x="188.5" y="534.7" font-size="13.2" text-anchor="start" fill="#4d4d4d">22</text>
<text x="276.5" y="541.7" font-size="13.2" text-anchor="start" fill="#4d4d4d">23</text>
<text x="707.9" y="438.1" font-size="13.2" text-anchor="start" fill="#4d4d4d">24</text>
<text x="740.5" y="479.7" font-size="13.2" text-anchor="start" fill="#4d4d4d">25</text>
<text x="756.5" y="507.3" font-size="13.2" text-anchor="start" fill="#4d4d4d">26</text>
<text x="779.9" y="533.3" font-size="13.2" text-anchor="start" fill="#4d4d4d">27</text>
<text x="426.5" y="672.1" font-size="13.2" text-anchor="start" fill="#4d4d4d">28</text>
<text x="393.9" y="621.1" font-size="13.2" text-anchor="start" fill="#4d4d4d">29</text>
<text x="506.5" y="688.3" font-size="13.2" text-anchor="start" fill="#4d4d4d">30</text>
<text x="458.9" y="611.7" font-size="13.2" text-anchor="start" fill="#4d4d4d">31</text>
<text x="472.5" y="633.3" font-size="13.2" text-anchor="start" fill="#4d4d4d">32</text>
<text x="491.5" y="655.3" font-size="13.2" text-anchor="start" fill="#4d4d4d">33</text>
<text x="555.1" y="483.3" font-size="13.2" text-anchor="start" fill="#4d4d4d">34</text>
<text x="599.9" y="508.7" font-size="13.2" text-anchor="start" fill="#4d4d4d">35</text>
<text x="845.5" y="454.1" font-size="13.2" text-anchor="start" fill="#4d4d4d">36</text>
<text x="858.5" y="495.3" font-size="13.2" text-anchor="start" fill="#4d4d4d">37</text>
<text x="712.5" y="574.7" font-size="13.2" text-anchor="start" fill="#4d4d4d">9</text>
<text transform="translate(19.3 698.6) rotate(-90)" font-size="12.4" textLength="34.6" lengthAdjust="spacingAndGlyphs" fill="#3f74c8" style="font-weight:normal">TM0011</text>
</g>
</g>
</svg>
</body>
</html>
